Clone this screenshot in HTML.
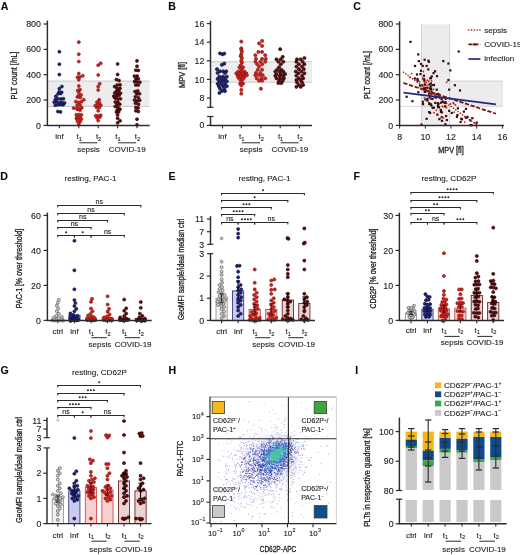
<!DOCTYPE html>
<html><head><meta charset="utf-8"><style>
html,body{margin:0;padding:0;background:#fff;}
svg{display:block;font-family:"Liberation Sans", sans-serif;filter:blur(0.35px);}
text{stroke:#222;stroke-width:0.12px;}
</style></head><body>
<svg width="520" height="555" viewBox="0 0 520 555">
<rect x="0" y="0" width="520" height="555" fill="#fff"/>
<text x="0.70" y="9.90" font-size="10.6" font-weight="bold" fill="#0a0a0a">A</text>
<rect x="47.40" y="81.04" width="102.20" height="25.35" fill="#ededed" stroke="none" stroke-width="0.8"/>
<line x1="47.40" y1="81.04" x2="149.60" y2="81.04" stroke="#b5b5b5" stroke-width="0.7"/>
<line x1="47.40" y1="106.39" x2="149.60" y2="106.39" stroke="#b5b5b5" stroke-width="0.7"/>
<circle cx="57.89" cy="111.50" r="1.52" fill="#1e2170" stroke="#0e0f38" stroke-width="0.6"/>
<circle cx="60.52" cy="111.89" r="1.52" fill="#1e2170" stroke="#0e0f38" stroke-width="0.6"/>
<circle cx="55.32" cy="105.29" r="1.52" fill="#1e2170" stroke="#0e0f38" stroke-width="0.6"/>
<circle cx="58.07" cy="104.72" r="1.52" fill="#1e2170" stroke="#0e0f38" stroke-width="0.6"/>
<circle cx="60.70" cy="104.69" r="1.52" fill="#1e2170" stroke="#0e0f38" stroke-width="0.6"/>
<circle cx="63.21" cy="104.73" r="1.52" fill="#1e2170" stroke="#0e0f38" stroke-width="0.6"/>
<circle cx="54.21" cy="102.24" r="1.52" fill="#1e2170" stroke="#0e0f38" stroke-width="0.6"/>
<circle cx="56.59" cy="101.88" r="1.52" fill="#1e2170" stroke="#0e0f38" stroke-width="0.6"/>
<circle cx="59.62" cy="102.48" r="1.52" fill="#1e2170" stroke="#0e0f38" stroke-width="0.6"/>
<circle cx="62.02" cy="102.42" r="1.52" fill="#1e2170" stroke="#0e0f38" stroke-width="0.6"/>
<circle cx="64.52" cy="102.90" r="1.52" fill="#1e2170" stroke="#0e0f38" stroke-width="0.6"/>
<circle cx="55.28" cy="99.59" r="1.52" fill="#1e2170" stroke="#0e0f38" stroke-width="0.6"/>
<circle cx="57.87" cy="98.73" r="1.52" fill="#1e2170" stroke="#0e0f38" stroke-width="0.6"/>
<circle cx="60.90" cy="98.93" r="1.52" fill="#1e2170" stroke="#0e0f38" stroke-width="0.6"/>
<circle cx="63.45" cy="98.78" r="1.52" fill="#1e2170" stroke="#0e0f38" stroke-width="0.6"/>
<circle cx="55.90" cy="96.25" r="1.52" fill="#1e2170" stroke="#0e0f38" stroke-width="0.6"/>
<circle cx="58.09" cy="93.82" r="1.52" fill="#1e2170" stroke="#0e0f38" stroke-width="0.6"/>
<circle cx="60.52" cy="93.45" r="1.52" fill="#1e2170" stroke="#0e0f38" stroke-width="0.6"/>
<circle cx="59.15" cy="91.97" r="1.52" fill="#1e2170" stroke="#0e0f38" stroke-width="0.6"/>
<circle cx="61.64" cy="92.23" r="1.52" fill="#1e2170" stroke="#0e0f38" stroke-width="0.6"/>
<circle cx="59.40" cy="88.64" r="1.52" fill="#1e2170" stroke="#0e0f38" stroke-width="0.6"/>
<circle cx="61.90" cy="86.49" r="1.52" fill="#1e2170" stroke="#0e0f38" stroke-width="0.6"/>
<circle cx="59.40" cy="74.57" r="1.52" fill="#1e2170" stroke="#0e0f38" stroke-width="0.6"/>
<circle cx="59.40" cy="64.18" r="1.52" fill="#1e2170" stroke="#0e0f38" stroke-width="0.6"/>
<circle cx="59.40" cy="51.76" r="1.52" fill="#1e2170" stroke="#0e0f38" stroke-width="0.6"/>
<circle cx="78.80" cy="124.01" r="1.52" fill="#d2221e" stroke="#80100e" stroke-width="0.6"/>
<circle cx="77.47" cy="121.18" r="1.52" fill="#d2221e" stroke="#80100e" stroke-width="0.6"/>
<circle cx="80.25" cy="121.54" r="1.52" fill="#d2221e" stroke="#80100e" stroke-width="0.6"/>
<circle cx="76.36" cy="118.56" r="1.52" fill="#d2221e" stroke="#80100e" stroke-width="0.6"/>
<circle cx="78.76" cy="118.35" r="1.52" fill="#d2221e" stroke="#80100e" stroke-width="0.6"/>
<circle cx="81.30" cy="119.12" r="1.52" fill="#d2221e" stroke="#80100e" stroke-width="0.6"/>
<circle cx="77.23" cy="117.15" r="1.52" fill="#d2221e" stroke="#80100e" stroke-width="0.6"/>
<circle cx="80.27" cy="117.36" r="1.52" fill="#d2221e" stroke="#80100e" stroke-width="0.6"/>
<circle cx="76.31" cy="114.84" r="1.52" fill="#d2221e" stroke="#80100e" stroke-width="0.6"/>
<circle cx="78.90" cy="114.53" r="1.52" fill="#d2221e" stroke="#80100e" stroke-width="0.6"/>
<circle cx="81.52" cy="114.86" r="1.52" fill="#d2221e" stroke="#80100e" stroke-width="0.6"/>
<circle cx="77.63" cy="109.51" r="1.52" fill="#d2221e" stroke="#80100e" stroke-width="0.6"/>
<circle cx="80.12" cy="110.09" r="1.52" fill="#d2221e" stroke="#80100e" stroke-width="0.6"/>
<circle cx="73.57" cy="108.11" r="1.52" fill="#d2221e" stroke="#80100e" stroke-width="0.6"/>
<circle cx="76.54" cy="108.15" r="1.52" fill="#d2221e" stroke="#80100e" stroke-width="0.6"/>
<circle cx="79.30" cy="108.50" r="1.52" fill="#d2221e" stroke="#80100e" stroke-width="0.6"/>
<circle cx="81.76" cy="107.65" r="1.52" fill="#d2221e" stroke="#80100e" stroke-width="0.6"/>
<circle cx="77.22" cy="105.19" r="1.52" fill="#d2221e" stroke="#80100e" stroke-width="0.6"/>
<circle cx="79.97" cy="104.94" r="1.52" fill="#d2221e" stroke="#80100e" stroke-width="0.6"/>
<circle cx="75.90" cy="101.62" r="1.52" fill="#d2221e" stroke="#80100e" stroke-width="0.6"/>
<circle cx="78.61" cy="102.40" r="1.52" fill="#d2221e" stroke="#80100e" stroke-width="0.6"/>
<circle cx="81.42" cy="101.78" r="1.52" fill="#d2221e" stroke="#80100e" stroke-width="0.6"/>
<circle cx="83.80" cy="99.80" r="1.52" fill="#d2221e" stroke="#80100e" stroke-width="0.6"/>
<circle cx="77.44" cy="97.02" r="1.52" fill="#d2221e" stroke="#80100e" stroke-width="0.6"/>
<circle cx="80.33" cy="97.58" r="1.52" fill="#d2221e" stroke="#80100e" stroke-width="0.6"/>
<circle cx="78.64" cy="95.61" r="1.52" fill="#d2221e" stroke="#80100e" stroke-width="0.6"/>
<circle cx="81.10" cy="94.96" r="1.52" fill="#d2221e" stroke="#80100e" stroke-width="0.6"/>
<circle cx="78.80" cy="92.32" r="1.52" fill="#d2221e" stroke="#80100e" stroke-width="0.6"/>
<circle cx="77.69" cy="90.50" r="1.52" fill="#d2221e" stroke="#80100e" stroke-width="0.6"/>
<circle cx="79.98" cy="89.62" r="1.52" fill="#d2221e" stroke="#80100e" stroke-width="0.6"/>
<circle cx="78.80" cy="85.98" r="1.52" fill="#d2221e" stroke="#80100e" stroke-width="0.6"/>
<circle cx="78.80" cy="79.64" r="1.52" fill="#d2221e" stroke="#80100e" stroke-width="0.6"/>
<circle cx="77.51" cy="77.22" r="1.52" fill="#d2221e" stroke="#80100e" stroke-width="0.6"/>
<circle cx="79.89" cy="76.96" r="1.52" fill="#d2221e" stroke="#80100e" stroke-width="0.6"/>
<circle cx="82.80" cy="75.71" r="1.52" fill="#d2221e" stroke="#80100e" stroke-width="0.6"/>
<circle cx="78.80" cy="73.56" r="1.52" fill="#d2221e" stroke="#80100e" stroke-width="0.6"/>
<circle cx="78.80" cy="61.52" r="1.52" fill="#d2221e" stroke="#80100e" stroke-width="0.6"/>
<circle cx="78.80" cy="54.17" r="1.52" fill="#d2221e" stroke="#80100e" stroke-width="0.6"/>
<circle cx="78.80" cy="42.13" r="1.52" fill="#d2221e" stroke="#80100e" stroke-width="0.6"/>
<circle cx="98.20" cy="120.58" r="1.52" fill="#d2221e" stroke="#80100e" stroke-width="0.6"/>
<circle cx="96.95" cy="117.81" r="1.52" fill="#d2221e" stroke="#80100e" stroke-width="0.6"/>
<circle cx="99.74" cy="117.13" r="1.52" fill="#d2221e" stroke="#80100e" stroke-width="0.6"/>
<circle cx="95.71" cy="115.73" r="1.52" fill="#d2221e" stroke="#80100e" stroke-width="0.6"/>
<circle cx="98.15" cy="115.75" r="1.52" fill="#d2221e" stroke="#80100e" stroke-width="0.6"/>
<circle cx="100.68" cy="115.27" r="1.52" fill="#d2221e" stroke="#80100e" stroke-width="0.6"/>
<circle cx="98.20" cy="110.82" r="1.52" fill="#d2221e" stroke="#80100e" stroke-width="0.6"/>
<circle cx="96.65" cy="107.38" r="1.52" fill="#d2221e" stroke="#80100e" stroke-width="0.6"/>
<circle cx="99.37" cy="107.56" r="1.52" fill="#d2221e" stroke="#80100e" stroke-width="0.6"/>
<circle cx="95.30" cy="105.44" r="1.52" fill="#d2221e" stroke="#80100e" stroke-width="0.6"/>
<circle cx="98.03" cy="105.03" r="1.52" fill="#d2221e" stroke="#80100e" stroke-width="0.6"/>
<circle cx="100.81" cy="105.15" r="1.52" fill="#d2221e" stroke="#80100e" stroke-width="0.6"/>
<circle cx="97.05" cy="102.14" r="1.52" fill="#d2221e" stroke="#80100e" stroke-width="0.6"/>
<circle cx="99.36" cy="102.85" r="1.52" fill="#d2221e" stroke="#80100e" stroke-width="0.6"/>
<circle cx="99.20" cy="99.80" r="1.52" fill="#d2221e" stroke="#80100e" stroke-width="0.6"/>
<circle cx="98.20" cy="90.04" r="1.52" fill="#d2221e" stroke="#80100e" stroke-width="0.6"/>
<circle cx="98.20" cy="86.49" r="1.52" fill="#d2221e" stroke="#80100e" stroke-width="0.6"/>
<circle cx="99.70" cy="83.70" r="1.52" fill="#d2221e" stroke="#80100e" stroke-width="0.6"/>
<circle cx="98.20" cy="74.95" r="1.52" fill="#d2221e" stroke="#80100e" stroke-width="0.6"/>
<circle cx="98.20" cy="65.19" r="1.52" fill="#d2221e" stroke="#80100e" stroke-width="0.6"/>
<circle cx="100.70" cy="63.29" r="1.52" fill="#d2221e" stroke="#80100e" stroke-width="0.6"/>
<circle cx="117.60" cy="122.87" r="1.52" fill="#5a0c0e" stroke="#2a0405" stroke-width="0.6"/>
<circle cx="120.10" cy="120.84" r="1.52" fill="#5a0c0e" stroke="#2a0405" stroke-width="0.6"/>
<circle cx="117.60" cy="118.18" r="1.52" fill="#5a0c0e" stroke="#2a0405" stroke-width="0.6"/>
<circle cx="117.60" cy="114.88" r="1.52" fill="#5a0c0e" stroke="#2a0405" stroke-width="0.6"/>
<circle cx="116.43" cy="111.94" r="1.52" fill="#5a0c0e" stroke="#2a0405" stroke-width="0.6"/>
<circle cx="118.70" cy="111.81" r="1.52" fill="#5a0c0e" stroke="#2a0405" stroke-width="0.6"/>
<circle cx="117.28" cy="110.10" r="1.52" fill="#5a0c0e" stroke="#2a0405" stroke-width="0.6"/>
<circle cx="119.96" cy="109.14" r="1.52" fill="#5a0c0e" stroke="#2a0405" stroke-width="0.6"/>
<circle cx="115.28" cy="106.45" r="1.52" fill="#5a0c0e" stroke="#2a0405" stroke-width="0.6"/>
<circle cx="118.12" cy="107.59" r="1.52" fill="#5a0c0e" stroke="#2a0405" stroke-width="0.6"/>
<circle cx="117.14" cy="104.60" r="1.52" fill="#5a0c0e" stroke="#2a0405" stroke-width="0.6"/>
<circle cx="119.77" cy="104.20" r="1.52" fill="#5a0c0e" stroke="#2a0405" stroke-width="0.6"/>
<circle cx="115.28" cy="102.03" r="1.52" fill="#5a0c0e" stroke="#2a0405" stroke-width="0.6"/>
<circle cx="117.85" cy="102.03" r="1.52" fill="#5a0c0e" stroke="#2a0405" stroke-width="0.6"/>
<circle cx="115.08" cy="98.07" r="1.52" fill="#5a0c0e" stroke="#2a0405" stroke-width="0.6"/>
<circle cx="117.78" cy="98.98" r="1.52" fill="#5a0c0e" stroke="#2a0405" stroke-width="0.6"/>
<circle cx="120.43" cy="98.77" r="1.52" fill="#5a0c0e" stroke="#2a0405" stroke-width="0.6"/>
<circle cx="113.79" cy="96.16" r="1.52" fill="#5a0c0e" stroke="#2a0405" stroke-width="0.6"/>
<circle cx="116.53" cy="95.89" r="1.52" fill="#5a0c0e" stroke="#2a0405" stroke-width="0.6"/>
<circle cx="119.04" cy="95.30" r="1.52" fill="#5a0c0e" stroke="#2a0405" stroke-width="0.6"/>
<circle cx="114.80" cy="92.95" r="1.52" fill="#5a0c0e" stroke="#2a0405" stroke-width="0.6"/>
<circle cx="117.83" cy="93.44" r="1.52" fill="#5a0c0e" stroke="#2a0405" stroke-width="0.6"/>
<circle cx="120.49" cy="93.15" r="1.52" fill="#5a0c0e" stroke="#2a0405" stroke-width="0.6"/>
<circle cx="116.49" cy="91.13" r="1.52" fill="#5a0c0e" stroke="#2a0405" stroke-width="0.6"/>
<circle cx="118.80" cy="90.38" r="1.52" fill="#5a0c0e" stroke="#2a0405" stroke-width="0.6"/>
<circle cx="117.11" cy="88.31" r="1.52" fill="#5a0c0e" stroke="#2a0405" stroke-width="0.6"/>
<circle cx="120.00" cy="88.29" r="1.52" fill="#5a0c0e" stroke="#2a0405" stroke-width="0.6"/>
<circle cx="114.60" cy="86.61" r="1.52" fill="#5a0c0e" stroke="#2a0405" stroke-width="0.6"/>
<circle cx="117.25" cy="85.00" r="1.52" fill="#5a0c0e" stroke="#2a0405" stroke-width="0.6"/>
<circle cx="120.09" cy="84.77" r="1.52" fill="#5a0c0e" stroke="#2a0405" stroke-width="0.6"/>
<circle cx="116.34" cy="79.52" r="1.52" fill="#5a0c0e" stroke="#2a0405" stroke-width="0.6"/>
<circle cx="119.08" cy="80.51" r="1.52" fill="#5a0c0e" stroke="#2a0405" stroke-width="0.6"/>
<circle cx="117.60" cy="74.45" r="1.52" fill="#5a0c0e" stroke="#2a0405" stroke-width="0.6"/>
<circle cx="117.60" cy="63.93" r="1.52" fill="#5a0c0e" stroke="#2a0405" stroke-width="0.6"/>
<circle cx="137.00" cy="124.77" r="1.52" fill="#5a0c0e" stroke="#2a0405" stroke-width="0.6"/>
<circle cx="137.00" cy="119.19" r="1.52" fill="#5a0c0e" stroke="#2a0405" stroke-width="0.6"/>
<circle cx="135.81" cy="110.75" r="1.52" fill="#5a0c0e" stroke="#2a0405" stroke-width="0.6"/>
<circle cx="138.29" cy="111.52" r="1.52" fill="#5a0c0e" stroke="#2a0405" stroke-width="0.6"/>
<circle cx="135.89" cy="107.54" r="1.52" fill="#5a0c0e" stroke="#2a0405" stroke-width="0.6"/>
<circle cx="138.17" cy="107.93" r="1.52" fill="#5a0c0e" stroke="#2a0405" stroke-width="0.6"/>
<circle cx="135.49" cy="103.28" r="1.52" fill="#5a0c0e" stroke="#2a0405" stroke-width="0.6"/>
<circle cx="138.49" cy="104.22" r="1.52" fill="#5a0c0e" stroke="#2a0405" stroke-width="0.6"/>
<circle cx="134.49" cy="100.01" r="1.52" fill="#5a0c0e" stroke="#2a0405" stroke-width="0.6"/>
<circle cx="137.08" cy="101.01" r="1.52" fill="#5a0c0e" stroke="#2a0405" stroke-width="0.6"/>
<circle cx="139.70" cy="100.25" r="1.52" fill="#5a0c0e" stroke="#2a0405" stroke-width="0.6"/>
<circle cx="135.42" cy="96.69" r="1.52" fill="#5a0c0e" stroke="#2a0405" stroke-width="0.6"/>
<circle cx="138.41" cy="97.70" r="1.52" fill="#5a0c0e" stroke="#2a0405" stroke-width="0.6"/>
<circle cx="136.88" cy="93.87" r="1.52" fill="#5a0c0e" stroke="#2a0405" stroke-width="0.6"/>
<circle cx="139.52" cy="93.76" r="1.52" fill="#5a0c0e" stroke="#2a0405" stroke-width="0.6"/>
<circle cx="135.02" cy="91.57" r="1.52" fill="#5a0c0e" stroke="#2a0405" stroke-width="0.6"/>
<circle cx="137.73" cy="90.88" r="1.52" fill="#5a0c0e" stroke="#2a0405" stroke-width="0.6"/>
<circle cx="135.71" cy="85.04" r="1.52" fill="#5a0c0e" stroke="#2a0405" stroke-width="0.6"/>
<circle cx="138.30" cy="85.06" r="1.52" fill="#5a0c0e" stroke="#2a0405" stroke-width="0.6"/>
<circle cx="134.53" cy="81.61" r="1.52" fill="#5a0c0e" stroke="#2a0405" stroke-width="0.6"/>
<circle cx="136.98" cy="81.87" r="1.52" fill="#5a0c0e" stroke="#2a0405" stroke-width="0.6"/>
<circle cx="139.88" cy="82.15" r="1.52" fill="#5a0c0e" stroke="#2a0405" stroke-width="0.6"/>
<circle cx="135.87" cy="78.66" r="1.52" fill="#5a0c0e" stroke="#2a0405" stroke-width="0.6"/>
<circle cx="138.35" cy="78.76" r="1.52" fill="#5a0c0e" stroke="#2a0405" stroke-width="0.6"/>
<circle cx="134.42" cy="76.12" r="1.52" fill="#5a0c0e" stroke="#2a0405" stroke-width="0.6"/>
<circle cx="137.18" cy="76.02" r="1.52" fill="#5a0c0e" stroke="#2a0405" stroke-width="0.6"/>
<circle cx="135.81" cy="70.17" r="1.52" fill="#5a0c0e" stroke="#2a0405" stroke-width="0.6"/>
<circle cx="138.32" cy="70.38" r="1.52" fill="#5a0c0e" stroke="#2a0405" stroke-width="0.6"/>
<circle cx="137.00" cy="66.21" r="1.52" fill="#5a0c0e" stroke="#2a0405" stroke-width="0.6"/>
<circle cx="137.00" cy="60.88" r="1.52" fill="#5a0c0e" stroke="#2a0405" stroke-width="0.6"/>
<line x1="47.40" y1="20.60" x2="47.40" y2="125.40" stroke="#2b2b2b" stroke-width="1.45"/>
<line x1="43.60" y1="125.40" x2="47.40" y2="125.40" stroke="#2b2b2b" stroke-width="1.2"/>
<text x="40.90" y="128.50" font-size="8.8" text-anchor="end" fill="#222">0</text>
<line x1="43.60" y1="100.05" x2="47.40" y2="100.05" stroke="#2b2b2b" stroke-width="1.2"/>
<text x="40.90" y="103.15" font-size="8.8" text-anchor="end" fill="#222">200</text>
<line x1="43.60" y1="74.70" x2="47.40" y2="74.70" stroke="#2b2b2b" stroke-width="1.2"/>
<text x="40.90" y="77.80" font-size="8.8" text-anchor="end" fill="#222">400</text>
<line x1="43.60" y1="49.35" x2="47.40" y2="49.35" stroke="#2b2b2b" stroke-width="1.2"/>
<text x="40.90" y="52.45" font-size="8.8" text-anchor="end" fill="#222">600</text>
<line x1="43.60" y1="24.00" x2="47.40" y2="24.00" stroke="#2b2b2b" stroke-width="1.2"/>
<text x="40.90" y="27.10" font-size="8.8" text-anchor="end" fill="#222">800</text>
<line x1="46.70" y1="125.40" x2="149.60" y2="125.40" stroke="#2b2b2b" stroke-width="1.45"/>
<line x1="59.40" y1="125.40" x2="59.40" y2="128.20" stroke="#2b2b2b" stroke-width="1.1"/>
<line x1="78.80" y1="125.40" x2="78.80" y2="128.20" stroke="#2b2b2b" stroke-width="1.1"/>
<line x1="98.20" y1="125.40" x2="98.20" y2="128.20" stroke="#2b2b2b" stroke-width="1.1"/>
<line x1="117.60" y1="125.40" x2="117.60" y2="128.20" stroke="#2b2b2b" stroke-width="1.1"/>
<line x1="137.00" y1="125.40" x2="137.00" y2="128.20" stroke="#2b2b2b" stroke-width="1.1"/>
<text x="14.50" y="75.40" font-size="8.4" text-anchor="middle" textLength="48" lengthAdjust="spacingAndGlyphs" transform="rotate(-90 14.5 75.4)" fill="#222" dominant-baseline="central" style="stroke-width:0.3px">PLT count [/nL]</text>
<text x="59.40" y="139.40" font-size="8.0" text-anchor="middle" fill="#222">inf</text>
<text x="79.20" y="139.40" font-size="8.0" text-anchor="middle" fill="#2b2b2b">t<tspan font-size="5.76" dy="1.3">1</tspan></text>
<text x="98.60" y="139.40" font-size="8.0" text-anchor="middle" fill="#2b2b2b">t<tspan font-size="5.76" dy="1.3">2</tspan></text>
<line x1="79.30" y1="142.80" x2="97.40" y2="142.80" stroke="#2b2b2b" stroke-width="1.0"/>
<text x="118.00" y="139.40" font-size="8.0" text-anchor="middle" fill="#2b2b2b">t<tspan font-size="5.76" dy="1.3">1</tspan></text>
<text x="137.40" y="139.40" font-size="8.0" text-anchor="middle" fill="#2b2b2b">t<tspan font-size="5.76" dy="1.3">2</tspan></text>
<line x1="118.10" y1="142.80" x2="136.20" y2="142.80" stroke="#2b2b2b" stroke-width="1.0"/>
<text x="88.50" y="151.70" font-size="8.0" text-anchor="middle" fill="#222">sepsis</text>
<text x="127.30" y="151.70" font-size="8.0" text-anchor="middle" fill="#222">COVID-19</text>
<text x="168.20" y="9.90" font-size="10.6" font-weight="bold" fill="#0a0a0a">B</text>
<rect x="210.60" y="61.73" width="101.40" height="20.46" fill="#ededed" stroke="none" stroke-width="0.8"/>
<line x1="210.60" y1="61.73" x2="312.00" y2="61.73" stroke="#b5b5b5" stroke-width="0.7"/>
<line x1="210.60" y1="82.19" x2="312.00" y2="82.19" stroke="#b5b5b5" stroke-width="0.7"/>
<circle cx="220.00" cy="53.36" r="1.60" fill="#1e2170" stroke="#0e0f38" stroke-width="0.6"/>
<circle cx="222.50" cy="54.29" r="1.60" fill="#1e2170" stroke="#0e0f38" stroke-width="0.6"/>
<circle cx="224.30" cy="53.55" r="1.60" fill="#1e2170" stroke="#0e0f38" stroke-width="0.6"/>
<circle cx="224.30" cy="63.59" r="1.60" fill="#1e2170" stroke="#0e0f38" stroke-width="0.6"/>
<circle cx="221.90" cy="64.80" r="1.60" fill="#1e2170" stroke="#0e0f38" stroke-width="0.6"/>
<circle cx="217.00" cy="69.17" r="1.60" fill="#1e2170" stroke="#0e0f38" stroke-width="0.6"/>
<circle cx="220.00" cy="71.31" r="1.60" fill="#1e2170" stroke="#0e0f38" stroke-width="0.6"/>
<circle cx="223.10" cy="71.31" r="1.60" fill="#1e2170" stroke="#0e0f38" stroke-width="0.6"/>
<circle cx="226.20" cy="71.31" r="1.60" fill="#1e2170" stroke="#0e0f38" stroke-width="0.6"/>
<circle cx="217.60" cy="72.89" r="1.60" fill="#1e2170" stroke="#0e0f38" stroke-width="0.6"/>
<circle cx="225.00" cy="72.89" r="1.60" fill="#1e2170" stroke="#0e0f38" stroke-width="0.6"/>
<circle cx="219.40" cy="76.61" r="1.60" fill="#1e2170" stroke="#0e0f38" stroke-width="0.6"/>
<circle cx="223.10" cy="76.61" r="1.60" fill="#1e2170" stroke="#0e0f38" stroke-width="0.6"/>
<circle cx="226.80" cy="76.61" r="1.60" fill="#1e2170" stroke="#0e0f38" stroke-width="0.6"/>
<circle cx="217.60" cy="78.93" r="1.60" fill="#1e2170" stroke="#0e0f38" stroke-width="0.6"/>
<circle cx="221.30" cy="78.93" r="1.60" fill="#1e2170" stroke="#0e0f38" stroke-width="0.6"/>
<circle cx="225.00" cy="78.93" r="1.60" fill="#1e2170" stroke="#0e0f38" stroke-width="0.6"/>
<circle cx="219.40" cy="81.26" r="1.60" fill="#1e2170" stroke="#0e0f38" stroke-width="0.6"/>
<circle cx="223.10" cy="81.26" r="1.60" fill="#1e2170" stroke="#0e0f38" stroke-width="0.6"/>
<circle cx="226.80" cy="81.26" r="1.60" fill="#1e2170" stroke="#0e0f38" stroke-width="0.6"/>
<circle cx="217.60" cy="83.77" r="1.60" fill="#1e2170" stroke="#0e0f38" stroke-width="0.6"/>
<circle cx="221.30" cy="83.77" r="1.60" fill="#1e2170" stroke="#0e0f38" stroke-width="0.6"/>
<circle cx="225.00" cy="83.77" r="1.60" fill="#1e2170" stroke="#0e0f38" stroke-width="0.6"/>
<circle cx="218.80" cy="86.19" r="1.60" fill="#1e2170" stroke="#0e0f38" stroke-width="0.6"/>
<circle cx="223.10" cy="86.19" r="1.60" fill="#1e2170" stroke="#0e0f38" stroke-width="0.6"/>
<circle cx="226.80" cy="86.19" r="1.60" fill="#1e2170" stroke="#0e0f38" stroke-width="0.6"/>
<circle cx="220.00" cy="88.70" r="1.60" fill="#1e2170" stroke="#0e0f38" stroke-width="0.6"/>
<circle cx="224.30" cy="88.70" r="1.60" fill="#1e2170" stroke="#0e0f38" stroke-width="0.6"/>
<circle cx="221.90" cy="91.12" r="1.60" fill="#1e2170" stroke="#0e0f38" stroke-width="0.6"/>
<circle cx="225.00" cy="91.12" r="1.60" fill="#1e2170" stroke="#0e0f38" stroke-width="0.6"/>
<circle cx="219.40" cy="92.98" r="1.60" fill="#1e2170" stroke="#0e0f38" stroke-width="0.6"/>
<circle cx="241.30" cy="41.55" r="1.60" fill="#d2221e" stroke="#80100e" stroke-width="0.6"/>
<circle cx="241.30" cy="48.24" r="1.60" fill="#d2221e" stroke="#80100e" stroke-width="0.6"/>
<circle cx="241.30" cy="49.64" r="1.60" fill="#d2221e" stroke="#80100e" stroke-width="0.6"/>
<circle cx="241.90" cy="51.50" r="1.60" fill="#d2221e" stroke="#80100e" stroke-width="0.6"/>
<circle cx="241.30" cy="54.29" r="1.60" fill="#d2221e" stroke="#80100e" stroke-width="0.6"/>
<circle cx="240.70" cy="56.15" r="1.60" fill="#d2221e" stroke="#80100e" stroke-width="0.6"/>
<circle cx="241.90" cy="58.01" r="1.60" fill="#d2221e" stroke="#80100e" stroke-width="0.6"/>
<circle cx="241.30" cy="60.52" r="1.60" fill="#d2221e" stroke="#80100e" stroke-width="0.6"/>
<circle cx="241.90" cy="62.66" r="1.60" fill="#d2221e" stroke="#80100e" stroke-width="0.6"/>
<circle cx="240.70" cy="65.45" r="1.60" fill="#d2221e" stroke="#80100e" stroke-width="0.6"/>
<circle cx="239.50" cy="67.31" r="1.60" fill="#d2221e" stroke="#80100e" stroke-width="0.6"/>
<circle cx="243.10" cy="67.31" r="1.60" fill="#d2221e" stroke="#80100e" stroke-width="0.6"/>
<circle cx="241.30" cy="69.17" r="1.60" fill="#d2221e" stroke="#80100e" stroke-width="0.6"/>
<circle cx="238.20" cy="71.50" r="1.60" fill="#d2221e" stroke="#80100e" stroke-width="0.6"/>
<circle cx="241.30" cy="71.50" r="1.60" fill="#d2221e" stroke="#80100e" stroke-width="0.6"/>
<circle cx="244.40" cy="71.50" r="1.60" fill="#d2221e" stroke="#80100e" stroke-width="0.6"/>
<circle cx="236.40" cy="73.35" r="1.60" fill="#d2221e" stroke="#80100e" stroke-width="0.6"/>
<circle cx="239.50" cy="73.35" r="1.60" fill="#d2221e" stroke="#80100e" stroke-width="0.6"/>
<circle cx="243.10" cy="73.35" r="1.60" fill="#d2221e" stroke="#80100e" stroke-width="0.6"/>
<circle cx="246.20" cy="73.35" r="1.60" fill="#d2221e" stroke="#80100e" stroke-width="0.6"/>
<circle cx="237.60" cy="75.22" r="1.60" fill="#d2221e" stroke="#80100e" stroke-width="0.6"/>
<circle cx="240.70" cy="75.22" r="1.60" fill="#d2221e" stroke="#80100e" stroke-width="0.6"/>
<circle cx="243.80" cy="75.22" r="1.60" fill="#d2221e" stroke="#80100e" stroke-width="0.6"/>
<circle cx="246.80" cy="75.22" r="1.60" fill="#d2221e" stroke="#80100e" stroke-width="0.6"/>
<circle cx="238.20" cy="77.08" r="1.60" fill="#d2221e" stroke="#80100e" stroke-width="0.6"/>
<circle cx="241.30" cy="77.08" r="1.60" fill="#d2221e" stroke="#80100e" stroke-width="0.6"/>
<circle cx="244.40" cy="77.08" r="1.60" fill="#d2221e" stroke="#80100e" stroke-width="0.6"/>
<circle cx="239.50" cy="78.93" r="1.60" fill="#d2221e" stroke="#80100e" stroke-width="0.6"/>
<circle cx="243.10" cy="78.93" r="1.60" fill="#d2221e" stroke="#80100e" stroke-width="0.6"/>
<circle cx="241.30" cy="81.26" r="1.60" fill="#d2221e" stroke="#80100e" stroke-width="0.6"/>
<circle cx="240.10" cy="83.58" r="1.60" fill="#d2221e" stroke="#80100e" stroke-width="0.6"/>
<circle cx="243.10" cy="83.58" r="1.60" fill="#d2221e" stroke="#80100e" stroke-width="0.6"/>
<circle cx="241.30" cy="85.45" r="1.60" fill="#d2221e" stroke="#80100e" stroke-width="0.6"/>
<circle cx="241.30" cy="89.91" r="1.60" fill="#d2221e" stroke="#80100e" stroke-width="0.6"/>
<circle cx="241.30" cy="93.63" r="1.60" fill="#d2221e" stroke="#80100e" stroke-width="0.6"/>
<circle cx="262.10" cy="40.90" r="1.60" fill="#d2221e" stroke="#80100e" stroke-width="0.6"/>
<circle cx="259.10" cy="43.41" r="1.60" fill="#d2221e" stroke="#80100e" stroke-width="0.6"/>
<circle cx="262.10" cy="45.92" r="1.60" fill="#d2221e" stroke="#80100e" stroke-width="0.6"/>
<circle cx="258.40" cy="51.97" r="1.60" fill="#d2221e" stroke="#80100e" stroke-width="0.6"/>
<circle cx="262.10" cy="51.97" r="1.60" fill="#d2221e" stroke="#80100e" stroke-width="0.6"/>
<circle cx="255.40" cy="55.22" r="1.60" fill="#d2221e" stroke="#80100e" stroke-width="0.6"/>
<circle cx="265.20" cy="55.22" r="1.60" fill="#d2221e" stroke="#80100e" stroke-width="0.6"/>
<circle cx="256.00" cy="58.94" r="1.60" fill="#d2221e" stroke="#80100e" stroke-width="0.6"/>
<circle cx="265.80" cy="58.94" r="1.60" fill="#d2221e" stroke="#80100e" stroke-width="0.6"/>
<circle cx="262.10" cy="58.94" r="1.60" fill="#d2221e" stroke="#80100e" stroke-width="0.6"/>
<circle cx="255.40" cy="61.73" r="1.60" fill="#d2221e" stroke="#80100e" stroke-width="0.6"/>
<circle cx="260.30" cy="61.73" r="1.60" fill="#d2221e" stroke="#80100e" stroke-width="0.6"/>
<circle cx="265.20" cy="61.73" r="1.60" fill="#d2221e" stroke="#80100e" stroke-width="0.6"/>
<circle cx="257.20" cy="64.24" r="1.60" fill="#d2221e" stroke="#80100e" stroke-width="0.6"/>
<circle cx="262.10" cy="64.24" r="1.60" fill="#d2221e" stroke="#80100e" stroke-width="0.6"/>
<circle cx="259.10" cy="66.57" r="1.60" fill="#d2221e" stroke="#80100e" stroke-width="0.6"/>
<circle cx="257.80" cy="69.73" r="1.60" fill="#d2221e" stroke="#80100e" stroke-width="0.6"/>
<circle cx="262.10" cy="69.73" r="1.60" fill="#d2221e" stroke="#80100e" stroke-width="0.6"/>
<circle cx="256.00" cy="72.89" r="1.60" fill="#d2221e" stroke="#80100e" stroke-width="0.6"/>
<circle cx="260.30" cy="72.89" r="1.60" fill="#d2221e" stroke="#80100e" stroke-width="0.6"/>
<circle cx="255.40" cy="75.22" r="1.60" fill="#d2221e" stroke="#80100e" stroke-width="0.6"/>
<circle cx="259.10" cy="75.22" r="1.60" fill="#d2221e" stroke="#80100e" stroke-width="0.6"/>
<circle cx="262.70" cy="75.22" r="1.60" fill="#d2221e" stroke="#80100e" stroke-width="0.6"/>
<circle cx="256.60" cy="78.28" r="1.60" fill="#d2221e" stroke="#80100e" stroke-width="0.6"/>
<circle cx="261.50" cy="78.28" r="1.60" fill="#d2221e" stroke="#80100e" stroke-width="0.6"/>
<circle cx="265.20" cy="78.28" r="1.60" fill="#d2221e" stroke="#80100e" stroke-width="0.6"/>
<circle cx="259.10" cy="80.70" r="1.60" fill="#d2221e" stroke="#80100e" stroke-width="0.6"/>
<circle cx="262.10" cy="80.70" r="1.60" fill="#d2221e" stroke="#80100e" stroke-width="0.6"/>
<circle cx="260.90" cy="88.70" r="1.60" fill="#d2221e" stroke="#80100e" stroke-width="0.6"/>
<circle cx="280.20" cy="49.17" r="1.60" fill="#5a0c0e" stroke="#2a0405" stroke-width="0.6"/>
<circle cx="282.70" cy="56.80" r="1.60" fill="#5a0c0e" stroke="#2a0405" stroke-width="0.6"/>
<circle cx="276.50" cy="59.31" r="1.60" fill="#5a0c0e" stroke="#2a0405" stroke-width="0.6"/>
<circle cx="280.80" cy="59.31" r="1.60" fill="#5a0c0e" stroke="#2a0405" stroke-width="0.6"/>
<circle cx="278.40" cy="61.73" r="1.60" fill="#5a0c0e" stroke="#2a0405" stroke-width="0.6"/>
<circle cx="283.30" cy="61.73" r="1.60" fill="#5a0c0e" stroke="#2a0405" stroke-width="0.6"/>
<circle cx="280.80" cy="64.24" r="1.60" fill="#5a0c0e" stroke="#2a0405" stroke-width="0.6"/>
<circle cx="279.00" cy="67.31" r="1.60" fill="#5a0c0e" stroke="#2a0405" stroke-width="0.6"/>
<circle cx="277.10" cy="69.73" r="1.60" fill="#5a0c0e" stroke="#2a0405" stroke-width="0.6"/>
<circle cx="281.40" cy="69.73" r="1.60" fill="#5a0c0e" stroke="#2a0405" stroke-width="0.6"/>
<circle cx="275.30" cy="71.50" r="1.60" fill="#5a0c0e" stroke="#2a0405" stroke-width="0.6"/>
<circle cx="279.60" cy="71.50" r="1.60" fill="#5a0c0e" stroke="#2a0405" stroke-width="0.6"/>
<circle cx="283.30" cy="71.50" r="1.60" fill="#5a0c0e" stroke="#2a0405" stroke-width="0.6"/>
<circle cx="276.50" cy="74.01" r="1.60" fill="#5a0c0e" stroke="#2a0405" stroke-width="0.6"/>
<circle cx="280.80" cy="74.01" r="1.60" fill="#5a0c0e" stroke="#2a0405" stroke-width="0.6"/>
<circle cx="285.10" cy="74.01" r="1.60" fill="#5a0c0e" stroke="#2a0405" stroke-width="0.6"/>
<circle cx="275.30" cy="75.77" r="1.60" fill="#5a0c0e" stroke="#2a0405" stroke-width="0.6"/>
<circle cx="279.60" cy="75.77" r="1.60" fill="#5a0c0e" stroke="#2a0405" stroke-width="0.6"/>
<circle cx="283.30" cy="75.77" r="1.60" fill="#5a0c0e" stroke="#2a0405" stroke-width="0.6"/>
<circle cx="276.50" cy="78.28" r="1.60" fill="#5a0c0e" stroke="#2a0405" stroke-width="0.6"/>
<circle cx="280.20" cy="78.28" r="1.60" fill="#5a0c0e" stroke="#2a0405" stroke-width="0.6"/>
<circle cx="283.90" cy="78.28" r="1.60" fill="#5a0c0e" stroke="#2a0405" stroke-width="0.6"/>
<circle cx="279.00" cy="80.70" r="1.60" fill="#5a0c0e" stroke="#2a0405" stroke-width="0.6"/>
<circle cx="282.70" cy="80.70" r="1.60" fill="#5a0c0e" stroke="#2a0405" stroke-width="0.6"/>
<circle cx="278.40" cy="83.12" r="1.60" fill="#5a0c0e" stroke="#2a0405" stroke-width="0.6"/>
<circle cx="281.40" cy="83.12" r="1.60" fill="#5a0c0e" stroke="#2a0405" stroke-width="0.6"/>
<circle cx="304.40" cy="58.01" r="1.60" fill="#5a0c0e" stroke="#2a0405" stroke-width="0.6"/>
<circle cx="297.00" cy="59.31" r="1.60" fill="#5a0c0e" stroke="#2a0405" stroke-width="0.6"/>
<circle cx="300.70" cy="59.31" r="1.60" fill="#5a0c0e" stroke="#2a0405" stroke-width="0.6"/>
<circle cx="296.40" cy="61.73" r="1.60" fill="#5a0c0e" stroke="#2a0405" stroke-width="0.6"/>
<circle cx="302.60" cy="61.73" r="1.60" fill="#5a0c0e" stroke="#2a0405" stroke-width="0.6"/>
<circle cx="298.90" cy="64.24" r="1.60" fill="#5a0c0e" stroke="#2a0405" stroke-width="0.6"/>
<circle cx="304.40" cy="64.24" r="1.60" fill="#5a0c0e" stroke="#2a0405" stroke-width="0.6"/>
<circle cx="296.40" cy="66.57" r="1.60" fill="#5a0c0e" stroke="#2a0405" stroke-width="0.6"/>
<circle cx="302.00" cy="66.57" r="1.60" fill="#5a0c0e" stroke="#2a0405" stroke-width="0.6"/>
<circle cx="298.90" cy="69.17" r="1.60" fill="#5a0c0e" stroke="#2a0405" stroke-width="0.6"/>
<circle cx="303.80" cy="69.17" r="1.60" fill="#5a0c0e" stroke="#2a0405" stroke-width="0.6"/>
<circle cx="295.80" cy="71.50" r="1.60" fill="#5a0c0e" stroke="#2a0405" stroke-width="0.6"/>
<circle cx="301.30" cy="71.50" r="1.60" fill="#5a0c0e" stroke="#2a0405" stroke-width="0.6"/>
<circle cx="298.30" cy="73.35" r="1.60" fill="#5a0c0e" stroke="#2a0405" stroke-width="0.6"/>
<circle cx="304.40" cy="73.35" r="1.60" fill="#5a0c0e" stroke="#2a0405" stroke-width="0.6"/>
<circle cx="296.40" cy="75.77" r="1.60" fill="#5a0c0e" stroke="#2a0405" stroke-width="0.6"/>
<circle cx="302.00" cy="75.77" r="1.60" fill="#5a0c0e" stroke="#2a0405" stroke-width="0.6"/>
<circle cx="298.90" cy="78.28" r="1.60" fill="#5a0c0e" stroke="#2a0405" stroke-width="0.6"/>
<circle cx="303.20" cy="78.28" r="1.60" fill="#5a0c0e" stroke="#2a0405" stroke-width="0.6"/>
<circle cx="296.40" cy="80.05" r="1.60" fill="#5a0c0e" stroke="#2a0405" stroke-width="0.6"/>
<circle cx="300.70" cy="80.05" r="1.60" fill="#5a0c0e" stroke="#2a0405" stroke-width="0.6"/>
<circle cx="297.00" cy="82.47" r="1.60" fill="#5a0c0e" stroke="#2a0405" stroke-width="0.6"/>
<circle cx="302.00" cy="82.47" r="1.60" fill="#5a0c0e" stroke="#2a0405" stroke-width="0.6"/>
<circle cx="298.90" cy="84.98" r="1.60" fill="#5a0c0e" stroke="#2a0405" stroke-width="0.6"/>
<circle cx="303.20" cy="84.98" r="1.60" fill="#5a0c0e" stroke="#2a0405" stroke-width="0.6"/>
<circle cx="296.40" cy="86.84" r="1.60" fill="#5a0c0e" stroke="#2a0405" stroke-width="0.6"/>
<circle cx="300.70" cy="86.84" r="1.60" fill="#5a0c0e" stroke="#2a0405" stroke-width="0.6"/>
<line x1="210.50" y1="20.80" x2="210.50" y2="107.40" stroke="#2b2b2b" stroke-width="1.45"/>
<line x1="207.10" y1="107.30" x2="213.40" y2="107.30" stroke="#2b2b2b" stroke-width="1.2"/>
<line x1="210.50" y1="116.50" x2="210.50" y2="125.40" stroke="#2b2b2b" stroke-width="1.45"/>
<line x1="207.10" y1="116.50" x2="213.40" y2="116.50" stroke="#2b2b2b" stroke-width="1.2"/>
<line x1="206.90" y1="98.00" x2="210.50" y2="98.00" stroke="#2b2b2b" stroke-width="1.2"/>
<text x="204.30" y="101.10" font-size="8.8" text-anchor="end" fill="#222">8</text>
<line x1="206.90" y1="79.40" x2="210.50" y2="79.40" stroke="#2b2b2b" stroke-width="1.2"/>
<text x="204.30" y="82.50" font-size="8.8" text-anchor="end" fill="#222">10</text>
<line x1="206.90" y1="60.80" x2="210.50" y2="60.80" stroke="#2b2b2b" stroke-width="1.2"/>
<text x="204.30" y="63.90" font-size="8.8" text-anchor="end" fill="#222">12</text>
<line x1="206.90" y1="42.20" x2="210.50" y2="42.20" stroke="#2b2b2b" stroke-width="1.2"/>
<text x="204.30" y="45.30" font-size="8.8" text-anchor="end" fill="#222">14</text>
<line x1="206.90" y1="23.60" x2="210.50" y2="23.60" stroke="#2b2b2b" stroke-width="1.2"/>
<text x="204.30" y="26.70" font-size="8.8" text-anchor="end" fill="#222">16</text>
<line x1="206.90" y1="125.40" x2="210.50" y2="125.40" stroke="#2b2b2b" stroke-width="1.2"/>
<text x="204.30" y="128.30" font-size="8.8" text-anchor="end" fill="#222">0</text>
<line x1="209.90" y1="125.50" x2="312.00" y2="125.50" stroke="#2b2b2b" stroke-width="1.45"/>
<line x1="222.50" y1="125.50" x2="222.50" y2="128.30" stroke="#2b2b2b" stroke-width="1.1"/>
<line x1="241.30" y1="125.50" x2="241.30" y2="128.30" stroke="#2b2b2b" stroke-width="1.1"/>
<line x1="260.90" y1="125.50" x2="260.90" y2="128.30" stroke="#2b2b2b" stroke-width="1.1"/>
<line x1="280.20" y1="125.50" x2="280.20" y2="128.30" stroke="#2b2b2b" stroke-width="1.1"/>
<line x1="299.50" y1="125.50" x2="299.50" y2="128.30" stroke="#2b2b2b" stroke-width="1.1"/>
<text x="182.20" y="75.00" font-size="8.4" text-anchor="middle" textLength="26" lengthAdjust="spacingAndGlyphs" transform="rotate(-90 182.2 75.0)" fill="#222" dominant-baseline="central" style="stroke-width:0.3px">MPV [fl]</text>
<text x="222.50" y="139.40" font-size="8.0" text-anchor="middle" fill="#222">inf</text>
<text x="241.70" y="139.40" font-size="8.0" text-anchor="middle" fill="#2b2b2b">t<tspan font-size="5.76" dy="1.3">1</tspan></text>
<text x="261.30" y="139.40" font-size="8.0" text-anchor="middle" fill="#2b2b2b">t<tspan font-size="5.76" dy="1.3">2</tspan></text>
<line x1="241.80" y1="142.80" x2="260.10" y2="142.80" stroke="#2b2b2b" stroke-width="1.0"/>
<text x="280.60" y="139.40" font-size="8.0" text-anchor="middle" fill="#2b2b2b">t<tspan font-size="5.76" dy="1.3">1</tspan></text>
<text x="299.90" y="139.40" font-size="8.0" text-anchor="middle" fill="#2b2b2b">t<tspan font-size="5.76" dy="1.3">2</tspan></text>
<line x1="280.70" y1="142.80" x2="298.70" y2="142.80" stroke="#2b2b2b" stroke-width="1.0"/>
<text x="251.10" y="151.70" font-size="8.0" text-anchor="middle" fill="#222">sepsis</text>
<text x="289.85" y="151.70" font-size="8.0" text-anchor="middle" fill="#222">COVID-19</text>
<text x="353.30" y="9.90" font-size="10.6" font-weight="bold" fill="#0a0a0a">C</text>
<rect x="421.44" y="24.40" width="28.27" height="101.00" fill="#ececec" stroke="none" stroke-width="0.8"/>
<rect x="421.44" y="81.04" width="80.95" height="25.35" fill="#ececec" stroke="none" stroke-width="0.8"/>
<line x1="421.44" y1="24.40" x2="421.44" y2="125.40" stroke="#bdbdbd" stroke-width="0.6"/>
<line x1="449.72" y1="24.40" x2="449.72" y2="125.40" stroke="#bdbdbd" stroke-width="0.6"/>
<line x1="449.72" y1="81.04" x2="502.40" y2="81.04" stroke="#bdbdbd" stroke-width="0.6"/>
<line x1="399.60" y1="106.39" x2="502.40" y2="106.39" stroke="#bdbdbd" stroke-width="0.6"/>
<line x1="502.40" y1="81.04" x2="502.40" y2="106.39" stroke="#d5d5d5" stroke-width="0.5"/>
<circle cx="433.25" cy="98.79" r="0.90" fill="#b3241d" stroke="none" stroke-width="0.5"/>
<rect x="440.58" y="116.04" width="2.20" height="2.20" fill="#370a0c" stroke="none" stroke-width="0.8"/>
<rect x="438.30" y="118.05" width="2.20" height="2.20" fill="#370a0c" stroke="none" stroke-width="0.8"/>
<rect x="430.97" y="97.70" width="2.20" height="2.20" fill="#370a0c" stroke="none" stroke-width="0.8"/>
<circle cx="442.35" cy="106.41" r="0.90" fill="#b3241d" stroke="none" stroke-width="0.5"/>
<circle cx="428.92" cy="81.18" r="0.90" fill="#b3241d" stroke="none" stroke-width="0.5"/>
<rect x="444.97" y="114.98" width="2.20" height="2.20" fill="#370a0c" stroke="none" stroke-width="0.8"/>
<rect x="437.89" y="106.14" width="2.20" height="2.20" fill="#370a0c" stroke="none" stroke-width="0.8"/>
<rect x="433.80" y="95.87" width="2.20" height="2.20" fill="#370a0c" stroke="none" stroke-width="0.8"/>
<rect x="422.72" y="87.25" width="2.20" height="2.20" fill="#370a0c" stroke="none" stroke-width="0.8"/>
<rect x="424.37" y="98.41" width="2.20" height="2.20" fill="#370a0c" stroke="none" stroke-width="0.8"/>
<rect x="429.02" y="111.85" width="2.20" height="2.20" fill="#370a0c" stroke="none" stroke-width="0.8"/>
<rect x="421.17" y="84.27" width="2.20" height="2.20" fill="#370a0c" stroke="none" stroke-width="0.8"/>
<circle cx="438.62" cy="95.03" r="0.90" fill="#b3241d" stroke="none" stroke-width="0.5"/>
<rect x="428.97" y="87.33" width="2.20" height="2.20" fill="#370a0c" stroke="none" stroke-width="0.8"/>
<rect x="444.64" y="97.62" width="2.20" height="2.20" fill="#370a0c" stroke="none" stroke-width="0.8"/>
<rect x="421.88" y="103.00" width="2.20" height="2.20" fill="#370a0c" stroke="none" stroke-width="0.8"/>
<rect x="435.66" y="88.60" width="2.20" height="2.20" fill="#370a0c" stroke="none" stroke-width="0.8"/>
<circle cx="433.47" cy="89.28" r="0.90" fill="#b3241d" stroke="none" stroke-width="0.5"/>
<circle cx="435.54" cy="97.87" r="0.90" fill="#b3241d" stroke="none" stroke-width="0.5"/>
<circle cx="435.94" cy="98.28" r="0.90" fill="#b3241d" stroke="none" stroke-width="0.5"/>
<rect x="429.29" y="77.15" width="2.20" height="2.20" fill="#370a0c" stroke="none" stroke-width="0.8"/>
<rect x="439.65" y="108.79" width="2.20" height="2.20" fill="#370a0c" stroke="none" stroke-width="0.8"/>
<rect x="430.35" y="104.49" width="2.20" height="2.20" fill="#370a0c" stroke="none" stroke-width="0.8"/>
<rect x="436.26" y="113.55" width="2.20" height="2.20" fill="#370a0c" stroke="none" stroke-width="0.8"/>
<rect x="429.98" y="87.82" width="2.20" height="2.20" fill="#370a0c" stroke="none" stroke-width="0.8"/>
<circle cx="437.97" cy="96.96" r="0.90" fill="#b3241d" stroke="none" stroke-width="0.5"/>
<circle cx="424.55" cy="82.64" r="0.90" fill="#b3241d" stroke="none" stroke-width="0.5"/>
<rect x="431.52" y="83.99" width="2.20" height="2.20" fill="#370a0c" stroke="none" stroke-width="0.8"/>
<circle cx="431.52" cy="80.82" r="0.90" fill="#b3241d" stroke="none" stroke-width="0.5"/>
<rect x="435.75" y="93.22" width="2.20" height="2.20" fill="#370a0c" stroke="none" stroke-width="0.8"/>
<circle cx="430.63" cy="99.02" r="0.90" fill="#b3241d" stroke="none" stroke-width="0.5"/>
<circle cx="430.68" cy="86.23" r="0.90" fill="#b3241d" stroke="none" stroke-width="0.5"/>
<rect x="429.10" y="94.87" width="2.20" height="2.20" fill="#370a0c" stroke="none" stroke-width="0.8"/>
<rect x="441.57" y="100.79" width="2.20" height="2.20" fill="#370a0c" stroke="none" stroke-width="0.8"/>
<rect x="430.56" y="92.58" width="2.20" height="2.20" fill="#370a0c" stroke="none" stroke-width="0.8"/>
<rect x="421.72" y="100.67" width="2.20" height="2.20" fill="#370a0c" stroke="none" stroke-width="0.8"/>
<rect x="435.90" y="75.04" width="2.20" height="2.20" fill="#370a0c" stroke="none" stroke-width="0.8"/>
<rect x="448.06" y="88.58" width="2.20" height="2.20" fill="#370a0c" stroke="none" stroke-width="0.8"/>
<rect x="436.95" y="105.97" width="2.20" height="2.20" fill="#370a0c" stroke="none" stroke-width="0.8"/>
<circle cx="441.89" cy="116.77" r="0.90" fill="#b3241d" stroke="none" stroke-width="0.5"/>
<circle cx="411.60" cy="73.62" r="0.90" fill="#b3241d" stroke="none" stroke-width="0.5"/>
<rect x="440.52" y="98.08" width="2.20" height="2.20" fill="#370a0c" stroke="none" stroke-width="0.8"/>
<rect x="444.51" y="101.26" width="2.20" height="2.20" fill="#370a0c" stroke="none" stroke-width="0.8"/>
<circle cx="436.32" cy="110.27" r="0.90" fill="#b3241d" stroke="none" stroke-width="0.5"/>
<rect x="431.55" y="106.89" width="2.20" height="2.20" fill="#370a0c" stroke="none" stroke-width="0.8"/>
<rect x="429.71" y="77.02" width="2.20" height="2.20" fill="#370a0c" stroke="none" stroke-width="0.8"/>
<circle cx="435.27" cy="96.23" r="0.90" fill="#b3241d" stroke="none" stroke-width="0.5"/>
<rect x="427.20" y="68.28" width="2.20" height="2.20" fill="#370a0c" stroke="none" stroke-width="0.8"/>
<rect x="417.26" y="91.18" width="2.20" height="2.20" fill="#370a0c" stroke="none" stroke-width="0.8"/>
<rect x="439.85" y="110.73" width="2.20" height="2.20" fill="#370a0c" stroke="none" stroke-width="0.8"/>
<rect x="426.43" y="86.67" width="2.20" height="2.20" fill="#370a0c" stroke="none" stroke-width="0.8"/>
<rect x="438.32" y="96.23" width="2.20" height="2.20" fill="#370a0c" stroke="none" stroke-width="0.8"/>
<circle cx="427.05" cy="85.09" r="0.90" fill="#b3241d" stroke="none" stroke-width="0.5"/>
<circle cx="424.33" cy="97.78" r="0.90" fill="#b3241d" stroke="none" stroke-width="0.5"/>
<rect x="424.87" y="86.86" width="2.20" height="2.20" fill="#370a0c" stroke="none" stroke-width="0.8"/>
<rect x="429.84" y="103.19" width="2.20" height="2.20" fill="#370a0c" stroke="none" stroke-width="0.8"/>
<rect x="432.80" y="106.62" width="2.20" height="2.20" fill="#370a0c" stroke="none" stroke-width="0.8"/>
<rect x="428.66" y="96.25" width="2.20" height="2.20" fill="#370a0c" stroke="none" stroke-width="0.8"/>
<rect x="428.17" y="102.13" width="2.20" height="2.20" fill="#370a0c" stroke="none" stroke-width="0.8"/>
<rect x="422.93" y="78.01" width="2.20" height="2.20" fill="#370a0c" stroke="none" stroke-width="0.8"/>
<circle cx="417.71" cy="80.49" r="0.90" fill="#b3241d" stroke="none" stroke-width="0.5"/>
<rect x="426.35" y="97.69" width="2.20" height="2.20" fill="#370a0c" stroke="none" stroke-width="0.8"/>
<rect x="418.81" y="84.45" width="2.20" height="2.20" fill="#370a0c" stroke="none" stroke-width="0.8"/>
<rect x="428.27" y="83.38" width="2.20" height="2.20" fill="#370a0c" stroke="none" stroke-width="0.8"/>
<rect x="428.19" y="102.91" width="2.20" height="2.20" fill="#370a0c" stroke="none" stroke-width="0.8"/>
<rect x="423.29" y="79.64" width="2.20" height="2.20" fill="#370a0c" stroke="none" stroke-width="0.8"/>
<rect x="436.93" y="104.34" width="2.20" height="2.20" fill="#370a0c" stroke="none" stroke-width="0.8"/>
<circle cx="446.44" cy="107.70" r="0.90" fill="#b3241d" stroke="none" stroke-width="0.5"/>
<rect x="430.28" y="90.20" width="2.20" height="2.20" fill="#370a0c" stroke="none" stroke-width="0.8"/>
<rect x="424.06" y="88.18" width="2.20" height="2.20" fill="#370a0c" stroke="none" stroke-width="0.8"/>
<rect x="423.82" y="83.61" width="2.20" height="2.20" fill="#370a0c" stroke="none" stroke-width="0.8"/>
<rect x="437.43" y="102.62" width="2.20" height="2.20" fill="#370a0c" stroke="none" stroke-width="0.8"/>
<rect x="440.85" y="111.24" width="2.20" height="2.20" fill="#370a0c" stroke="none" stroke-width="0.8"/>
<rect x="436.71" y="102.08" width="2.20" height="2.20" fill="#370a0c" stroke="none" stroke-width="0.8"/>
<circle cx="424.75" cy="83.53" r="0.90" fill="#b3241d" stroke="none" stroke-width="0.5"/>
<circle cx="446.75" cy="82.18" r="0.90" fill="#b3241d" stroke="none" stroke-width="0.5"/>
<circle cx="434.36" cy="94.43" r="0.90" fill="#b3241d" stroke="none" stroke-width="0.5"/>
<rect x="445.73" y="118.97" width="2.20" height="2.20" fill="#370a0c" stroke="none" stroke-width="0.8"/>
<rect x="444.25" y="123.16" width="2.20" height="2.20" fill="#370a0c" stroke="none" stroke-width="0.8"/>
<rect x="423.64" y="90.74" width="2.20" height="2.20" fill="#370a0c" stroke="none" stroke-width="0.8"/>
<rect x="429.59" y="85.45" width="2.20" height="2.20" fill="#370a0c" stroke="none" stroke-width="0.8"/>
<rect x="424.32" y="90.49" width="2.20" height="2.20" fill="#370a0c" stroke="none" stroke-width="0.8"/>
<circle cx="430.96" cy="94.14" r="0.90" fill="#b3241d" stroke="none" stroke-width="0.5"/>
<rect x="437.28" y="92.97" width="2.20" height="2.20" fill="#370a0c" stroke="none" stroke-width="0.8"/>
<rect x="435.03" y="95.87" width="2.20" height="2.20" fill="#370a0c" stroke="none" stroke-width="0.8"/>
<circle cx="434.04" cy="112.77" r="0.90" fill="#b3241d" stroke="none" stroke-width="0.5"/>
<circle cx="419.57" cy="81.67" r="0.90" fill="#b3241d" stroke="none" stroke-width="0.5"/>
<circle cx="422.95" cy="95.33" r="0.90" fill="#b3241d" stroke="none" stroke-width="0.5"/>
<rect x="434.24" y="101.84" width="2.20" height="2.20" fill="#370a0c" stroke="none" stroke-width="0.8"/>
<rect x="426.39" y="99.52" width="2.20" height="2.20" fill="#370a0c" stroke="none" stroke-width="0.8"/>
<rect x="432.84" y="83.93" width="2.20" height="2.20" fill="#370a0c" stroke="none" stroke-width="0.8"/>
<circle cx="420.56" cy="88.12" r="0.90" fill="#b3241d" stroke="none" stroke-width="0.5"/>
<rect x="439.97" y="101.59" width="2.20" height="2.20" fill="#370a0c" stroke="none" stroke-width="0.8"/>
<rect x="427.94" y="92.43" width="2.20" height="2.20" fill="#370a0c" stroke="none" stroke-width="0.8"/>
<rect x="469.29" y="124.05" width="2.20" height="2.20" fill="#370a0c" stroke="none" stroke-width="0.8"/>
<circle cx="453.15" cy="102.64" r="0.90" fill="#b3241d" stroke="none" stroke-width="0.5"/>
<rect x="444.16" y="105.14" width="2.20" height="2.20" fill="#370a0c" stroke="none" stroke-width="0.8"/>
<rect x="466.34" y="115.77" width="2.20" height="2.20" fill="#370a0c" stroke="none" stroke-width="0.8"/>
<rect x="471.30" y="117.09" width="2.20" height="2.20" fill="#370a0c" stroke="none" stroke-width="0.8"/>
<circle cx="444.18" cy="106.63" r="0.90" fill="#b3241d" stroke="none" stroke-width="0.5"/>
<circle cx="465.14" cy="117.51" r="0.90" fill="#b3241d" stroke="none" stroke-width="0.5"/>
<rect x="460.91" y="118.21" width="2.20" height="2.20" fill="#370a0c" stroke="none" stroke-width="0.8"/>
<circle cx="450.43" cy="103.99" r="0.90" fill="#b3241d" stroke="none" stroke-width="0.5"/>
<circle cx="474.73" cy="123.00" r="0.90" fill="#b3241d" stroke="none" stroke-width="0.5"/>
<circle cx="464.77" cy="122.08" r="0.90" fill="#b3241d" stroke="none" stroke-width="0.5"/>
<rect x="448.07" y="109.74" width="2.20" height="2.20" fill="#370a0c" stroke="none" stroke-width="0.8"/>
<rect x="459.47" y="120.87" width="2.20" height="2.20" fill="#370a0c" stroke="none" stroke-width="0.8"/>
<rect x="462.76" y="110.50" width="2.20" height="2.20" fill="#370a0c" stroke="none" stroke-width="0.8"/>
<circle cx="471.55" cy="117.76" r="0.90" fill="#b3241d" stroke="none" stroke-width="0.5"/>
<rect x="464.88" y="107.82" width="2.20" height="2.20" fill="#370a0c" stroke="none" stroke-width="0.8"/>
<circle cx="453.92" cy="103.65" r="0.90" fill="#b3241d" stroke="none" stroke-width="0.5"/>
<rect x="443.65" y="101.92" width="2.20" height="2.20" fill="#370a0c" stroke="none" stroke-width="0.8"/>
<rect x="443.37" y="100.92" width="2.20" height="2.20" fill="#370a0c" stroke="none" stroke-width="0.8"/>
<rect x="455.86" y="115.71" width="2.20" height="2.20" fill="#370a0c" stroke="none" stroke-width="0.8"/>
<circle cx="470.98" cy="125.15" r="0.90" fill="#b3241d" stroke="none" stroke-width="0.5"/>
<rect x="470.54" y="124.05" width="2.20" height="2.20" fill="#370a0c" stroke="none" stroke-width="0.8"/>
<circle cx="455.47" cy="104.80" r="0.90" fill="#b3241d" stroke="none" stroke-width="0.5"/>
<circle cx="454.08" cy="112.25" r="0.90" fill="#b3241d" stroke="none" stroke-width="0.5"/>
<circle cx="443.45" cy="117.96" r="0.90" fill="#b3241d" stroke="none" stroke-width="0.5"/>
<rect x="456.77" y="107.23" width="2.20" height="2.20" fill="#370a0c" stroke="none" stroke-width="0.8"/>
<rect x="429.79" y="82.38" width="2.20" height="2.20" fill="#370a0c" stroke="none" stroke-width="0.8"/>
<rect x="432.46" y="71.99" width="2.20" height="2.20" fill="#370a0c" stroke="none" stroke-width="0.8"/>
<rect x="413.73" y="77.38" width="2.20" height="2.20" fill="#370a0c" stroke="none" stroke-width="0.8"/>
<rect x="433.95" y="70.19" width="2.20" height="2.20" fill="#370a0c" stroke="none" stroke-width="0.8"/>
<circle cx="423.41" cy="71.50" r="0.90" fill="#b3241d" stroke="none" stroke-width="0.5"/>
<circle cx="422.78" cy="78.13" r="0.90" fill="#b3241d" stroke="none" stroke-width="0.5"/>
<rect x="427.31" y="59.61" width="2.20" height="2.20" fill="#370a0c" stroke="none" stroke-width="0.8"/>
<rect x="423.52" y="58.64" width="2.20" height="2.20" fill="#370a0c" stroke="none" stroke-width="0.8"/>
<circle cx="431.86" cy="85.32" r="0.90" fill="#b3241d" stroke="none" stroke-width="0.5"/>
<rect x="427.88" y="60.68" width="2.20" height="2.20" fill="#370a0c" stroke="none" stroke-width="0.8"/>
<circle cx="409.74" cy="77.47" r="0.90" fill="#b3241d" stroke="none" stroke-width="0.5"/>
<circle cx="427.23" cy="80.19" r="0.90" fill="#b3241d" stroke="none" stroke-width="0.5"/>
<rect x="422.82" y="74.62" width="2.20" height="2.20" fill="#370a0c" stroke="none" stroke-width="0.8"/>
<rect x="415.90" y="73.41" width="2.20" height="2.20" fill="#370a0c" stroke="none" stroke-width="0.8"/>
<rect x="419.32" y="72.94" width="2.20" height="2.20" fill="#370a0c" stroke="none" stroke-width="0.8"/>
<circle cx="423.00" cy="79.38" r="0.90" fill="#b3241d" stroke="none" stroke-width="0.5"/>
<rect x="416.38" y="77.81" width="2.20" height="2.20" fill="#370a0c" stroke="none" stroke-width="0.8"/>
<circle cx="426.58" cy="82.24" r="0.90" fill="#b3241d" stroke="none" stroke-width="0.5"/>
<rect x="409.42" y="40.77" width="2.20" height="2.20" fill="#370a0c" stroke="none" stroke-width="0.8"/>
<rect x="457.61" y="50.40" width="2.20" height="2.20" fill="#370a0c" stroke="none" stroke-width="0.8"/>
<rect x="417.13" y="53.32" width="2.20" height="2.20" fill="#370a0c" stroke="none" stroke-width="0.8"/>
<rect x="417.77" y="60.04" width="2.20" height="2.20" fill="#370a0c" stroke="none" stroke-width="0.8"/>
<rect x="413.92" y="64.85" width="2.20" height="2.20" fill="#370a0c" stroke="none" stroke-width="0.8"/>
<rect x="419.96" y="62.83" width="2.20" height="2.20" fill="#370a0c" stroke="none" stroke-width="0.8"/>
<rect x="421.63" y="64.85" width="2.20" height="2.20" fill="#370a0c" stroke="none" stroke-width="0.8"/>
<rect x="425.49" y="64.85" width="2.20" height="2.20" fill="#370a0c" stroke="none" stroke-width="0.8"/>
<rect x="442.19" y="60.04" width="2.20" height="2.20" fill="#370a0c" stroke="none" stroke-width="0.8"/>
<rect x="447.33" y="62.45" width="2.20" height="2.20" fill="#370a0c" stroke="none" stroke-width="0.8"/>
<rect x="449.26" y="69.29" width="2.20" height="2.20" fill="#370a0c" stroke="none" stroke-width="0.8"/>
<rect x="419.83" y="69.67" width="2.20" height="2.20" fill="#370a0c" stroke="none" stroke-width="0.8"/>
<rect x="416.49" y="79.68" width="2.20" height="2.20" fill="#370a0c" stroke="none" stroke-width="0.8"/>
<rect x="430.62" y="75.37" width="2.20" height="2.20" fill="#370a0c" stroke="none" stroke-width="0.8"/>
<rect x="447.33" y="78.92" width="2.20" height="2.20" fill="#370a0c" stroke="none" stroke-width="0.8"/>
<rect x="453.75" y="84.12" width="2.20" height="2.20" fill="#370a0c" stroke="none" stroke-width="0.8"/>
<rect x="458.89" y="89.32" width="2.20" height="2.20" fill="#370a0c" stroke="none" stroke-width="0.8"/>
<rect x="405.57" y="95.65" width="2.20" height="2.20" fill="#370a0c" stroke="none" stroke-width="0.8"/>
<rect x="411.35" y="100.09" width="2.20" height="2.20" fill="#370a0c" stroke="none" stroke-width="0.8"/>
<rect x="428.06" y="110.99" width="2.20" height="2.20" fill="#370a0c" stroke="none" stroke-width="0.8"/>
<rect x="425.49" y="117.71" width="2.20" height="2.20" fill="#370a0c" stroke="none" stroke-width="0.8"/>
<rect x="420.34" y="123.54" width="2.20" height="2.20" fill="#370a0c" stroke="none" stroke-width="0.8"/>
<rect x="440.91" y="119.74" width="2.20" height="2.20" fill="#370a0c" stroke="none" stroke-width="0.8"/>
<rect x="450.67" y="111.88" width="2.20" height="2.20" fill="#370a0c" stroke="none" stroke-width="0.8"/>
<rect x="456.32" y="113.91" width="2.20" height="2.20" fill="#370a0c" stroke="none" stroke-width="0.8"/>
<rect x="460.18" y="117.71" width="2.20" height="2.20" fill="#370a0c" stroke="none" stroke-width="0.8"/>
<rect x="475.60" y="121.64" width="2.20" height="2.20" fill="#370a0c" stroke="none" stroke-width="0.8"/>
<rect x="465.32" y="116.70" width="2.20" height="2.20" fill="#370a0c" stroke="none" stroke-width="0.8"/>
<rect x="469.18" y="119.23" width="2.20" height="2.20" fill="#370a0c" stroke="none" stroke-width="0.8"/>
<line x1="403.46" y1="72.17" x2="477.34" y2="125.40" stroke="#b01c18" stroke-width="1.5" stroke-dasharray="0.2 2.6" stroke-linecap="round"/>
<line x1="403.46" y1="82.94" x2="495.98" y2="113.74" stroke="#7a0f10" stroke-width="1.8" stroke-dasharray="4.2 1.7"/>
<line x1="403.46" y1="92.70" x2="495.98" y2="104.36" stroke="#1f2a7e" stroke-width="1.7"/>
<line x1="468.60" y1="30.00" x2="480.40" y2="30.00" stroke="#b01c18" stroke-width="1.5" stroke-dasharray="0.2 2.6" stroke-linecap="round"/>
<line x1="468.40" y1="44.40" x2="480.40" y2="44.40" stroke="#7a0f10" stroke-width="1.9" stroke-dasharray="4.2 1.7"/>
<circle cx="474.40" cy="44.40" r="1.20" fill="#3a0a0a" stroke="none" stroke-width="0.5"/>
<line x1="468.40" y1="59.00" x2="480.40" y2="59.00" stroke="#1f2a7e" stroke-width="1.7"/>
<text x="484.20" y="32.50" font-size="8.1" fill="#222">sepsis</text>
<text x="484.20" y="46.90" font-size="8.1" fill="#222">COVID-19</text>
<text x="484.20" y="61.40" font-size="8.1" fill="#222">infection</text>
<line x1="399.60" y1="21.20" x2="399.60" y2="125.40" stroke="#2b2b2b" stroke-width="1.45"/>
<line x1="395.80" y1="125.40" x2="399.60" y2="125.40" stroke="#2b2b2b" stroke-width="1.2"/>
<text x="393.10" y="128.50" font-size="8.8" text-anchor="end" fill="#222">0</text>
<line x1="395.80" y1="100.05" x2="399.60" y2="100.05" stroke="#2b2b2b" stroke-width="1.2"/>
<text x="393.10" y="103.15" font-size="8.8" text-anchor="end" fill="#222">200</text>
<line x1="395.80" y1="74.70" x2="399.60" y2="74.70" stroke="#2b2b2b" stroke-width="1.2"/>
<text x="393.10" y="77.80" font-size="8.8" text-anchor="end" fill="#222">400</text>
<line x1="395.80" y1="49.35" x2="399.60" y2="49.35" stroke="#2b2b2b" stroke-width="1.2"/>
<text x="393.10" y="52.45" font-size="8.8" text-anchor="end" fill="#222">600</text>
<line x1="395.80" y1="24.00" x2="399.60" y2="24.00" stroke="#2b2b2b" stroke-width="1.2"/>
<text x="393.10" y="27.10" font-size="8.8" text-anchor="end" fill="#222">800</text>
<line x1="398.90" y1="125.40" x2="504.00" y2="125.40" stroke="#2b2b2b" stroke-width="1.45"/>
<line x1="399.60" y1="125.40" x2="399.60" y2="128.60" stroke="#2b2b2b" stroke-width="1.0"/>
<text x="399.60" y="139.80" font-size="8.8" text-anchor="middle" fill="#222">8</text>
<line x1="425.30" y1="125.40" x2="425.30" y2="128.60" stroke="#2b2b2b" stroke-width="1.0"/>
<text x="425.30" y="139.80" font-size="8.8" text-anchor="middle" fill="#222">10</text>
<line x1="451.00" y1="125.40" x2="451.00" y2="128.60" stroke="#2b2b2b" stroke-width="1.0"/>
<text x="451.00" y="139.80" font-size="8.8" text-anchor="middle" fill="#222">12</text>
<line x1="476.70" y1="125.40" x2="476.70" y2="128.60" stroke="#2b2b2b" stroke-width="1.0"/>
<text x="476.70" y="139.80" font-size="8.8" text-anchor="middle" fill="#222">14</text>
<line x1="502.40" y1="125.40" x2="502.40" y2="128.60" stroke="#2b2b2b" stroke-width="1.0"/>
<text x="502.40" y="139.80" font-size="8.8" text-anchor="middle" fill="#222">16</text>
<text x="367.00" y="75.00" font-size="8.4" text-anchor="middle" textLength="48" lengthAdjust="spacingAndGlyphs" transform="rotate(-90 367.0 75.0)" fill="#222" dominant-baseline="central" style="stroke-width:0.3px">PLT count [/nL]</text>
<text x="451.00" y="150.20" font-size="8.4" text-anchor="middle" textLength="25.6" lengthAdjust="spacingAndGlyphs" fill="#222" dominant-baseline="central" style="stroke-width:0.3px">MPV [fl]</text>
<text x="0.20" y="180.20" font-size="10.6" font-weight="bold" fill="#0a0a0a">D</text>
<text x="90.60" y="181.30" font-size="8.1" text-anchor="middle" fill="#222">resting, PAC-1</text>
<rect x="52.20" y="318.65" width="11.20" height="1.75" fill="#f2f2f2" stroke="#8a8a8a" stroke-width="0.8"/>
<rect x="68.80" y="315.15" width="11.20" height="5.25" fill="#c9cbec" stroke="#202575" stroke-width="0.8"/>
<rect x="85.40" y="317.77" width="11.20" height="2.62" fill="#f8cfcf" stroke="#c43a33" stroke-width="0.8"/>
<rect x="102.00" y="317.77" width="11.20" height="2.62" fill="#f8cfcf" stroke="#c43a33" stroke-width="0.8"/>
<rect x="118.60" y="318.30" width="11.20" height="2.10" fill="#ead3d3" stroke="#5c0e10" stroke-width="0.8"/>
<rect x="135.20" y="318.47" width="11.20" height="1.93" fill="#ead3d3" stroke="#5c0e10" stroke-width="0.8"/>
<circle cx="52.35" cy="320.19" r="1.47" fill="#d0d0d0" stroke="#6a6a6a" stroke-width="0.8"/>
<circle cx="55.21" cy="320.47" r="1.47" fill="#d0d0d0" stroke="#6a6a6a" stroke-width="0.8"/>
<circle cx="57.83" cy="319.93" r="1.47" fill="#d0d0d0" stroke="#6a6a6a" stroke-width="0.8"/>
<circle cx="60.42" cy="320.10" r="1.47" fill="#d0d0d0" stroke="#6a6a6a" stroke-width="0.8"/>
<circle cx="63.26" cy="320.73" r="1.47" fill="#d0d0d0" stroke="#6a6a6a" stroke-width="0.8"/>
<circle cx="53.80" cy="320.22" r="1.47" fill="#d0d0d0" stroke="#6a6a6a" stroke-width="0.8"/>
<circle cx="61.80" cy="320.05" r="1.47" fill="#d0d0d0" stroke="#6a6a6a" stroke-width="0.8"/>
<circle cx="56.30" cy="319.88" r="1.47" fill="#d0d0d0" stroke="#6a6a6a" stroke-width="0.8"/>
<circle cx="59.30" cy="319.70" r="1.47" fill="#d0d0d0" stroke="#6a6a6a" stroke-width="0.8"/>
<circle cx="54.80" cy="319.35" r="1.47" fill="#d0d0d0" stroke="#6a6a6a" stroke-width="0.8"/>
<circle cx="60.80" cy="319.00" r="1.47" fill="#d0d0d0" stroke="#6a6a6a" stroke-width="0.8"/>
<circle cx="57.30" cy="318.65" r="1.47" fill="#d0d0d0" stroke="#6a6a6a" stroke-width="0.8"/>
<circle cx="58.80" cy="318.30" r="1.47" fill="#d0d0d0" stroke="#6a6a6a" stroke-width="0.8"/>
<circle cx="53.80" cy="317.60" r="1.47" fill="#d0d0d0" stroke="#6a6a6a" stroke-width="0.8"/>
<circle cx="61.80" cy="316.90" r="1.47" fill="#d0d0d0" stroke="#6a6a6a" stroke-width="0.8"/>
<circle cx="56.30" cy="315.85" r="1.47" fill="#d0d0d0" stroke="#6a6a6a" stroke-width="0.8"/>
<circle cx="58.80" cy="313.92" r="1.47" fill="#d0d0d0" stroke="#6a6a6a" stroke-width="0.8"/>
<circle cx="56.80" cy="311.30" r="1.47" fill="#d0d0d0" stroke="#6a6a6a" stroke-width="0.8"/>
<circle cx="58.30" cy="308.50" r="1.47" fill="#d0d0d0" stroke="#6a6a6a" stroke-width="0.8"/>
<circle cx="56.80" cy="305.70" r="1.47" fill="#d0d0d0" stroke="#6a6a6a" stroke-width="0.8"/>
<circle cx="57.80" cy="302.72" r="1.47" fill="#d0d0d0" stroke="#6a6a6a" stroke-width="0.8"/>
<circle cx="58.80" cy="299.75" r="1.47" fill="#d0d0d0" stroke="#6a6a6a" stroke-width="0.8"/>
<circle cx="70.48" cy="320.93" r="1.55" fill="#1e2170" stroke="#0e0f38" stroke-width="0.6"/>
<circle cx="72.85" cy="319.96" r="1.55" fill="#1e2170" stroke="#0e0f38" stroke-width="0.6"/>
<circle cx="75.55" cy="320.33" r="1.55" fill="#1e2170" stroke="#0e0f38" stroke-width="0.6"/>
<circle cx="78.28" cy="320.09" r="1.55" fill="#1e2170" stroke="#0e0f38" stroke-width="0.6"/>
<circle cx="76.90" cy="320.22" r="1.55" fill="#1e2170" stroke="#0e0f38" stroke-width="0.6"/>
<circle cx="71.40" cy="319.88" r="1.55" fill="#1e2170" stroke="#0e0f38" stroke-width="0.6"/>
<circle cx="74.40" cy="319.52" r="1.55" fill="#1e2170" stroke="#0e0f38" stroke-width="0.6"/>
<circle cx="75.90" cy="319.00" r="1.55" fill="#1e2170" stroke="#0e0f38" stroke-width="0.6"/>
<circle cx="70.40" cy="318.65" r="1.55" fill="#1e2170" stroke="#0e0f38" stroke-width="0.6"/>
<circle cx="77.90" cy="318.30" r="1.55" fill="#1e2170" stroke="#0e0f38" stroke-width="0.6"/>
<circle cx="72.90" cy="317.77" r="1.55" fill="#1e2170" stroke="#0e0f38" stroke-width="0.6"/>
<circle cx="74.90" cy="317.25" r="1.55" fill="#1e2170" stroke="#0e0f38" stroke-width="0.6"/>
<circle cx="70.90" cy="316.55" r="1.55" fill="#1e2170" stroke="#0e0f38" stroke-width="0.6"/>
<circle cx="77.40" cy="315.85" r="1.55" fill="#1e2170" stroke="#0e0f38" stroke-width="0.6"/>
<circle cx="73.40" cy="314.80" r="1.55" fill="#1e2170" stroke="#0e0f38" stroke-width="0.6"/>
<circle cx="70.40" cy="313.40" r="1.55" fill="#1e2170" stroke="#0e0f38" stroke-width="0.6"/>
<circle cx="74.40" cy="311.30" r="1.55" fill="#1e2170" stroke="#0e0f38" stroke-width="0.6"/>
<circle cx="76.40" cy="308.85" r="1.55" fill="#1e2170" stroke="#0e0f38" stroke-width="0.6"/>
<circle cx="74.40" cy="306.05" r="1.55" fill="#1e2170" stroke="#0e0f38" stroke-width="0.6"/>
<circle cx="75.40" cy="303.07" r="1.55" fill="#1e2170" stroke="#0e0f38" stroke-width="0.6"/>
<circle cx="74.40" cy="300.10" r="1.55" fill="#1e2170" stroke="#0e0f38" stroke-width="0.6"/>
<circle cx="74.40" cy="289.25" r="1.55" fill="#1e2170" stroke="#0e0f38" stroke-width="0.6"/>
<circle cx="74.40" cy="270.35" r="1.55" fill="#1e2170" stroke="#0e0f38" stroke-width="0.6"/>
<circle cx="74.40" cy="240.77" r="1.55" fill="#1e2170" stroke="#0e0f38" stroke-width="0.6"/>
<circle cx="87.02" cy="320.18" r="1.55" fill="#d2221e" stroke="#80100e" stroke-width="0.6"/>
<circle cx="89.66" cy="319.82" r="1.55" fill="#d2221e" stroke="#80100e" stroke-width="0.6"/>
<circle cx="92.12" cy="320.33" r="1.55" fill="#d2221e" stroke="#80100e" stroke-width="0.6"/>
<circle cx="95.15" cy="320.20" r="1.55" fill="#d2221e" stroke="#80100e" stroke-width="0.6"/>
<circle cx="93.50" cy="320.22" r="1.55" fill="#d2221e" stroke="#80100e" stroke-width="0.6"/>
<circle cx="88.50" cy="320.05" r="1.55" fill="#d2221e" stroke="#80100e" stroke-width="0.6"/>
<circle cx="91.00" cy="319.70" r="1.55" fill="#d2221e" stroke="#80100e" stroke-width="0.6"/>
<circle cx="94.50" cy="319.35" r="1.55" fill="#d2221e" stroke="#80100e" stroke-width="0.6"/>
<circle cx="92.50" cy="319.00" r="1.55" fill="#d2221e" stroke="#80100e" stroke-width="0.6"/>
<circle cx="87.50" cy="318.65" r="1.55" fill="#d2221e" stroke="#80100e" stroke-width="0.6"/>
<circle cx="90.00" cy="318.12" r="1.55" fill="#d2221e" stroke="#80100e" stroke-width="0.6"/>
<circle cx="94.00" cy="317.42" r="1.55" fill="#d2221e" stroke="#80100e" stroke-width="0.6"/>
<circle cx="92.00" cy="316.55" r="1.55" fill="#d2221e" stroke="#80100e" stroke-width="0.6"/>
<circle cx="88.00" cy="315.50" r="1.55" fill="#d2221e" stroke="#80100e" stroke-width="0.6"/>
<circle cx="90.50" cy="313.75" r="1.55" fill="#d2221e" stroke="#80100e" stroke-width="0.6"/>
<circle cx="92.50" cy="311.30" r="1.55" fill="#d2221e" stroke="#80100e" stroke-width="0.6"/>
<circle cx="91.00" cy="308.50" r="1.55" fill="#d2221e" stroke="#80100e" stroke-width="0.6"/>
<circle cx="91.00" cy="301.85" r="1.55" fill="#d2221e" stroke="#80100e" stroke-width="0.6"/>
<circle cx="92.00" cy="298.88" r="1.55" fill="#d2221e" stroke="#80100e" stroke-width="0.6"/>
<circle cx="103.72" cy="319.98" r="1.55" fill="#d2221e" stroke="#80100e" stroke-width="0.6"/>
<circle cx="106.34" cy="320.48" r="1.55" fill="#d2221e" stroke="#80100e" stroke-width="0.6"/>
<circle cx="108.74" cy="319.91" r="1.55" fill="#d2221e" stroke="#80100e" stroke-width="0.6"/>
<circle cx="111.65" cy="320.63" r="1.55" fill="#d2221e" stroke="#80100e" stroke-width="0.6"/>
<circle cx="110.10" cy="320.22" r="1.55" fill="#d2221e" stroke="#80100e" stroke-width="0.6"/>
<circle cx="105.10" cy="319.88" r="1.55" fill="#d2221e" stroke="#80100e" stroke-width="0.6"/>
<circle cx="107.10" cy="319.52" r="1.55" fill="#d2221e" stroke="#80100e" stroke-width="0.6"/>
<circle cx="111.60" cy="319.00" r="1.55" fill="#d2221e" stroke="#80100e" stroke-width="0.6"/>
<circle cx="109.60" cy="318.30" r="1.55" fill="#d2221e" stroke="#80100e" stroke-width="0.6"/>
<circle cx="104.10" cy="317.42" r="1.55" fill="#d2221e" stroke="#80100e" stroke-width="0.6"/>
<circle cx="107.10" cy="316.38" r="1.55" fill="#d2221e" stroke="#80100e" stroke-width="0.6"/>
<circle cx="109.60" cy="314.45" r="1.55" fill="#d2221e" stroke="#80100e" stroke-width="0.6"/>
<circle cx="107.60" cy="311.65" r="1.55" fill="#d2221e" stroke="#80100e" stroke-width="0.6"/>
<circle cx="109.10" cy="308.85" r="1.55" fill="#d2221e" stroke="#80100e" stroke-width="0.6"/>
<circle cx="107.60" cy="304.47" r="1.55" fill="#d2221e" stroke="#80100e" stroke-width="0.6"/>
<circle cx="107.60" cy="296.25" r="1.55" fill="#d2221e" stroke="#80100e" stroke-width="0.6"/>
<circle cx="119.92" cy="320.12" r="1.55" fill="#5a0c0e" stroke="#2a0405" stroke-width="0.6"/>
<circle cx="122.71" cy="320.43" r="1.55" fill="#5a0c0e" stroke="#2a0405" stroke-width="0.6"/>
<circle cx="125.39" cy="319.93" r="1.55" fill="#5a0c0e" stroke="#2a0405" stroke-width="0.6"/>
<circle cx="128.14" cy="319.86" r="1.55" fill="#5a0c0e" stroke="#2a0405" stroke-width="0.6"/>
<circle cx="126.70" cy="320.05" r="1.55" fill="#5a0c0e" stroke="#2a0405" stroke-width="0.6"/>
<circle cx="121.20" cy="319.70" r="1.55" fill="#5a0c0e" stroke="#2a0405" stroke-width="0.6"/>
<circle cx="123.70" cy="319.17" r="1.55" fill="#5a0c0e" stroke="#2a0405" stroke-width="0.6"/>
<circle cx="126.20" cy="318.47" r="1.55" fill="#5a0c0e" stroke="#2a0405" stroke-width="0.6"/>
<circle cx="120.20" cy="317.42" r="1.55" fill="#5a0c0e" stroke="#2a0405" stroke-width="0.6"/>
<circle cx="124.20" cy="316.02" r="1.55" fill="#5a0c0e" stroke="#2a0405" stroke-width="0.6"/>
<circle cx="126.20" cy="313.57" r="1.55" fill="#5a0c0e" stroke="#2a0405" stroke-width="0.6"/>
<circle cx="124.20" cy="310.77" r="1.55" fill="#5a0c0e" stroke="#2a0405" stroke-width="0.6"/>
<circle cx="126.20" cy="308.32" r="1.55" fill="#5a0c0e" stroke="#2a0405" stroke-width="0.6"/>
<circle cx="124.20" cy="299.57" r="1.55" fill="#5a0c0e" stroke="#2a0405" stroke-width="0.6"/>
<circle cx="136.73" cy="320.68" r="1.55" fill="#5a0c0e" stroke="#2a0405" stroke-width="0.6"/>
<circle cx="139.42" cy="320.03" r="1.55" fill="#5a0c0e" stroke="#2a0405" stroke-width="0.6"/>
<circle cx="141.97" cy="320.92" r="1.55" fill="#5a0c0e" stroke="#2a0405" stroke-width="0.6"/>
<circle cx="144.86" cy="320.78" r="1.55" fill="#5a0c0e" stroke="#2a0405" stroke-width="0.6"/>
<circle cx="143.30" cy="320.05" r="1.55" fill="#5a0c0e" stroke="#2a0405" stroke-width="0.6"/>
<circle cx="137.80" cy="319.70" r="1.55" fill="#5a0c0e" stroke="#2a0405" stroke-width="0.6"/>
<circle cx="141.30" cy="319.17" r="1.55" fill="#5a0c0e" stroke="#2a0405" stroke-width="0.6"/>
<circle cx="144.80" cy="318.47" r="1.55" fill="#5a0c0e" stroke="#2a0405" stroke-width="0.6"/>
<circle cx="139.30" cy="317.42" r="1.55" fill="#5a0c0e" stroke="#2a0405" stroke-width="0.6"/>
<circle cx="142.30" cy="315.85" r="1.55" fill="#5a0c0e" stroke="#2a0405" stroke-width="0.6"/>
<circle cx="139.80" cy="313.57" r="1.55" fill="#5a0c0e" stroke="#2a0405" stroke-width="0.6"/>
<circle cx="140.80" cy="307.80" r="1.55" fill="#5a0c0e" stroke="#2a0405" stroke-width="0.6"/>
<circle cx="140.80" cy="302.02" r="1.55" fill="#5a0c0e" stroke="#2a0405" stroke-width="0.6"/>
<line x1="47.40" y1="212.60" x2="47.40" y2="320.40" stroke="#2b2b2b" stroke-width="1.45"/>
<line x1="43.60" y1="320.40" x2="47.40" y2="320.40" stroke="#2b2b2b" stroke-width="1.2"/>
<text x="40.90" y="323.50" font-size="8.8" text-anchor="end" fill="#222">0</text>
<line x1="43.60" y1="285.40" x2="47.40" y2="285.40" stroke="#2b2b2b" stroke-width="1.2"/>
<text x="40.90" y="288.50" font-size="8.8" text-anchor="end" fill="#222">20</text>
<line x1="43.60" y1="250.40" x2="47.40" y2="250.40" stroke="#2b2b2b" stroke-width="1.2"/>
<text x="40.90" y="253.50" font-size="8.8" text-anchor="end" fill="#222">40</text>
<line x1="43.60" y1="215.40" x2="47.40" y2="215.40" stroke="#2b2b2b" stroke-width="1.2"/>
<text x="40.90" y="218.50" font-size="8.8" text-anchor="end" fill="#222">60</text>
<line x1="46.70" y1="320.40" x2="151.70" y2="320.40" stroke="#2b2b2b" stroke-width="1.45"/>
<line x1="57.80" y1="320.40" x2="57.80" y2="323.20" stroke="#2b2b2b" stroke-width="1.1"/>
<line x1="74.40" y1="320.40" x2="74.40" y2="323.20" stroke="#2b2b2b" stroke-width="1.1"/>
<line x1="91.00" y1="320.40" x2="91.00" y2="323.20" stroke="#2b2b2b" stroke-width="1.1"/>
<line x1="107.60" y1="320.40" x2="107.60" y2="323.20" stroke="#2b2b2b" stroke-width="1.1"/>
<line x1="124.20" y1="320.40" x2="124.20" y2="323.20" stroke="#2b2b2b" stroke-width="1.1"/>
<line x1="140.80" y1="320.40" x2="140.80" y2="323.20" stroke="#2b2b2b" stroke-width="1.1"/>
<text x="19.20" y="268.50" font-size="8.4" text-anchor="middle" textLength="79.4" lengthAdjust="spacingAndGlyphs" transform="rotate(-90 19.2 268.5)" fill="#222" dominant-baseline="central" style="stroke-width:0.3px">PAC-1 [% over threshold]</text>
<text x="57.80" y="334.20" font-size="8.0" text-anchor="middle" fill="#222">ctrl</text>
<text x="74.40" y="334.20" font-size="8.0" text-anchor="middle" fill="#222">inf</text>
<text x="91.40" y="334.20" font-size="8.0" text-anchor="middle" fill="#2b2b2b">t<tspan font-size="5.76" dy="1.3">1</tspan></text>
<text x="108.00" y="334.20" font-size="8.0" text-anchor="middle" fill="#2b2b2b">t<tspan font-size="5.76" dy="1.3">2</tspan></text>
<line x1="91.50" y1="337.70" x2="106.80" y2="337.70" stroke="#2b2b2b" stroke-width="1.0"/>
<text x="124.60" y="334.20" font-size="8.0" text-anchor="middle" fill="#2b2b2b">t<tspan font-size="5.76" dy="1.3">1</tspan></text>
<text x="141.20" y="334.20" font-size="8.0" text-anchor="middle" fill="#2b2b2b">t<tspan font-size="5.76" dy="1.3">2</tspan></text>
<line x1="124.70" y1="337.70" x2="140.00" y2="337.70" stroke="#2b2b2b" stroke-width="1.0"/>
<text x="99.90" y="346.60" font-size="8.0" text-anchor="middle" fill="#222">sepsis</text>
<text x="133.10" y="346.60" font-size="8.0" text-anchor="middle" fill="#222">COVID-19</text>
<line x1="57.30" y1="205.50" x2="141.30" y2="205.50" stroke="#2b2b2b" stroke-width="1.0"/>
<line x1="57.80" y1="205.00" x2="57.80" y2="207.50" stroke="#2b2b2b" stroke-width="1.0"/>
<line x1="140.80" y1="205.00" x2="140.80" y2="207.50" stroke="#2b2b2b" stroke-width="1.0"/>
<text x="99.30" y="204.20" font-size="7.0" text-anchor="middle" fill="#222">ns</text>
<line x1="57.30" y1="213.50" x2="124.70" y2="213.50" stroke="#2b2b2b" stroke-width="1.0"/>
<line x1="57.80" y1="213.00" x2="57.80" y2="215.50" stroke="#2b2b2b" stroke-width="1.0"/>
<line x1="124.20" y1="213.00" x2="124.20" y2="215.50" stroke="#2b2b2b" stroke-width="1.0"/>
<text x="91.00" y="212.20" font-size="7.0" text-anchor="middle" fill="#222">ns</text>
<line x1="57.30" y1="220.50" x2="108.10" y2="220.50" stroke="#2b2b2b" stroke-width="1.0"/>
<line x1="57.80" y1="220.00" x2="57.80" y2="222.50" stroke="#2b2b2b" stroke-width="1.0"/>
<line x1="107.60" y1="220.00" x2="107.60" y2="222.50" stroke="#2b2b2b" stroke-width="1.0"/>
<text x="82.70" y="219.20" font-size="7.0" text-anchor="middle" fill="#222">ns</text>
<line x1="57.30" y1="227.50" x2="91.50" y2="227.50" stroke="#2b2b2b" stroke-width="1.0"/>
<line x1="57.80" y1="227.00" x2="57.80" y2="229.50" stroke="#2b2b2b" stroke-width="1.0"/>
<line x1="91.00" y1="227.00" x2="91.00" y2="229.50" stroke="#2b2b2b" stroke-width="1.0"/>
<text x="74.40" y="226.20" font-size="7.0" text-anchor="middle" fill="#222">ns</text>
<line x1="57.30" y1="235.50" x2="74.90" y2="235.50" stroke="#2b2b2b" stroke-width="1.0"/>
<line x1="57.80" y1="235.00" x2="57.80" y2="237.50" stroke="#2b2b2b" stroke-width="1.0"/>
<line x1="74.40" y1="235.00" x2="74.40" y2="237.50" stroke="#2b2b2b" stroke-width="1.0"/>
<circle cx="66.10" cy="232.30" r="1.00" fill="#222" stroke="none" stroke-width="0.5"/>
<line x1="73.90" y1="235.50" x2="91.50" y2="235.50" stroke="#2b2b2b" stroke-width="1.0"/>
<line x1="74.40" y1="235.00" x2="74.40" y2="237.50" stroke="#2b2b2b" stroke-width="1.0"/>
<line x1="91.00" y1="235.00" x2="91.00" y2="237.50" stroke="#2b2b2b" stroke-width="1.0"/>
<circle cx="82.70" cy="232.30" r="1.00" fill="#222" stroke="none" stroke-width="0.5"/>
<line x1="90.50" y1="235.50" x2="124.70" y2="235.50" stroke="#2b2b2b" stroke-width="1.0"/>
<line x1="91.00" y1="235.00" x2="91.00" y2="237.50" stroke="#2b2b2b" stroke-width="1.0"/>
<line x1="124.20" y1="235.00" x2="124.20" y2="237.50" stroke="#2b2b2b" stroke-width="1.0"/>
<text x="107.60" y="234.20" font-size="7.0" text-anchor="middle" fill="#222">ns</text>
<text x="168.60" y="180.20" font-size="10.6" font-weight="bold" fill="#0a0a0a">E</text>
<text x="264.50" y="181.30" font-size="8.1" text-anchor="middle" fill="#222">resting, PAC-1</text>
<rect x="216.00" y="298.25" width="11.20" height="22.15" fill="#f2f2f2" stroke="#8a8a8a" stroke-width="0.8"/>
<rect x="232.55" y="290.94" width="11.20" height="29.46" fill="#c9cbec" stroke="#202575" stroke-width="0.8"/>
<rect x="249.10" y="309.32" width="11.20" height="11.07" fill="#f8cfcf" stroke="#c43a33" stroke-width="0.8"/>
<rect x="265.65" y="309.32" width="11.20" height="11.07" fill="#f8cfcf" stroke="#c43a33" stroke-width="0.8"/>
<rect x="282.20" y="300.02" width="11.20" height="20.38" fill="#ead3d3" stroke="#5c0e10" stroke-width="0.8"/>
<rect x="298.75" y="303.57" width="11.20" height="16.83" fill="#ead3d3" stroke="#5c0e10" stroke-width="0.8"/>
<circle cx="221.60" cy="318.19" r="1.47" fill="#d0d0d0" stroke="#6a6a6a" stroke-width="0.8"/>
<circle cx="224.10" cy="315.97" r="1.47" fill="#d0d0d0" stroke="#6a6a6a" stroke-width="0.8"/>
<circle cx="221.60" cy="313.75" r="1.47" fill="#d0d0d0" stroke="#6a6a6a" stroke-width="0.8"/>
<circle cx="224.10" cy="311.54" r="1.47" fill="#d0d0d0" stroke="#6a6a6a" stroke-width="0.8"/>
<circle cx="221.60" cy="309.32" r="1.47" fill="#d0d0d0" stroke="#6a6a6a" stroke-width="0.8"/>
<circle cx="224.10" cy="307.11" r="1.47" fill="#d0d0d0" stroke="#6a6a6a" stroke-width="0.8"/>
<circle cx="221.10" cy="306.00" r="1.47" fill="#d0d0d0" stroke="#6a6a6a" stroke-width="0.8"/>
<circle cx="218.10" cy="304.89" r="1.47" fill="#d0d0d0" stroke="#6a6a6a" stroke-width="0.8"/>
<circle cx="223.60" cy="303.79" r="1.47" fill="#d0d0d0" stroke="#6a6a6a" stroke-width="0.8"/>
<circle cx="220.60" cy="302.68" r="1.47" fill="#d0d0d0" stroke="#6a6a6a" stroke-width="0.8"/>
<circle cx="217.60" cy="301.79" r="1.47" fill="#d0d0d0" stroke="#6a6a6a" stroke-width="0.8"/>
<circle cx="224.60" cy="300.91" r="1.47" fill="#d0d0d0" stroke="#6a6a6a" stroke-width="0.8"/>
<circle cx="221.60" cy="300.02" r="1.47" fill="#d0d0d0" stroke="#6a6a6a" stroke-width="0.8"/>
<circle cx="218.60" cy="299.14" r="1.47" fill="#d0d0d0" stroke="#6a6a6a" stroke-width="0.8"/>
<circle cx="226.10" cy="298.25" r="1.47" fill="#d0d0d0" stroke="#6a6a6a" stroke-width="0.8"/>
<circle cx="222.60" cy="297.14" r="1.47" fill="#d0d0d0" stroke="#6a6a6a" stroke-width="0.8"/>
<circle cx="219.60" cy="296.03" r="1.47" fill="#d0d0d0" stroke="#6a6a6a" stroke-width="0.8"/>
<circle cx="224.60" cy="294.71" r="1.47" fill="#d0d0d0" stroke="#6a6a6a" stroke-width="0.8"/>
<circle cx="221.60" cy="293.38" r="1.47" fill="#d0d0d0" stroke="#6a6a6a" stroke-width="0.8"/>
<circle cx="218.60" cy="292.05" r="1.47" fill="#d0d0d0" stroke="#6a6a6a" stroke-width="0.8"/>
<circle cx="222.60" cy="290.50" r="1.47" fill="#d0d0d0" stroke="#6a6a6a" stroke-width="0.8"/>
<circle cx="219.60" cy="288.95" r="1.47" fill="#d0d0d0" stroke="#6a6a6a" stroke-width="0.8"/>
<circle cx="222.10" cy="287.17" r="1.47" fill="#d0d0d0" stroke="#6a6a6a" stroke-width="0.8"/>
<circle cx="219.60" cy="284.96" r="1.47" fill="#d0d0d0" stroke="#6a6a6a" stroke-width="0.8"/>
<circle cx="222.10" cy="282.75" r="1.47" fill="#d0d0d0" stroke="#6a6a6a" stroke-width="0.8"/>
<circle cx="221.60" cy="279.42" r="1.47" fill="#d0d0d0" stroke="#6a6a6a" stroke-width="0.8"/>
<circle cx="221.60" cy="274.99" r="1.47" fill="#d0d0d0" stroke="#6a6a6a" stroke-width="0.8"/>
<circle cx="221.60" cy="271.67" r="1.47" fill="#d0d0d0" stroke="#6a6a6a" stroke-width="0.8"/>
<circle cx="221.60" cy="267.24" r="1.47" fill="#d0d0d0" stroke="#6a6a6a" stroke-width="0.8"/>
<circle cx="221.60" cy="261.70" r="1.47" fill="#d0d0d0" stroke="#6a6a6a" stroke-width="0.8"/>
<circle cx="238.15" cy="315.97" r="1.55" fill="#1e2170" stroke="#0e0f38" stroke-width="0.6"/>
<circle cx="240.65" cy="313.75" r="1.55" fill="#1e2170" stroke="#0e0f38" stroke-width="0.6"/>
<circle cx="238.15" cy="310.43" r="1.55" fill="#1e2170" stroke="#0e0f38" stroke-width="0.6"/>
<circle cx="238.15" cy="307.11" r="1.55" fill="#1e2170" stroke="#0e0f38" stroke-width="0.6"/>
<circle cx="240.65" cy="304.89" r="1.55" fill="#1e2170" stroke="#0e0f38" stroke-width="0.6"/>
<circle cx="238.15" cy="302.68" r="1.55" fill="#1e2170" stroke="#0e0f38" stroke-width="0.6"/>
<circle cx="240.65" cy="300.46" r="1.55" fill="#1e2170" stroke="#0e0f38" stroke-width="0.6"/>
<circle cx="238.15" cy="298.69" r="1.55" fill="#1e2170" stroke="#0e0f38" stroke-width="0.6"/>
<circle cx="241.15" cy="297.14" r="1.55" fill="#1e2170" stroke="#0e0f38" stroke-width="0.6"/>
<circle cx="238.15" cy="294.93" r="1.55" fill="#1e2170" stroke="#0e0f38" stroke-width="0.6"/>
<circle cx="240.65" cy="292.71" r="1.55" fill="#1e2170" stroke="#0e0f38" stroke-width="0.6"/>
<circle cx="238.15" cy="290.50" r="1.55" fill="#1e2170" stroke="#0e0f38" stroke-width="0.6"/>
<circle cx="241.15" cy="289.39" r="1.55" fill="#1e2170" stroke="#0e0f38" stroke-width="0.6"/>
<circle cx="238.15" cy="287.17" r="1.55" fill="#1e2170" stroke="#0e0f38" stroke-width="0.6"/>
<circle cx="240.65" cy="284.96" r="1.55" fill="#1e2170" stroke="#0e0f38" stroke-width="0.6"/>
<circle cx="238.15" cy="281.64" r="1.55" fill="#1e2170" stroke="#0e0f38" stroke-width="0.6"/>
<circle cx="238.15" cy="277.21" r="1.55" fill="#1e2170" stroke="#0e0f38" stroke-width="0.6"/>
<circle cx="238.15" cy="271.67" r="1.55" fill="#1e2170" stroke="#0e0f38" stroke-width="0.6"/>
<circle cx="237.03" cy="265.92" r="1.55" fill="#1e2170" stroke="#0e0f38" stroke-width="0.6"/>
<circle cx="239.63" cy="265.71" r="1.55" fill="#1e2170" stroke="#0e0f38" stroke-width="0.6"/>
<circle cx="253.11" cy="320.57" r="1.55" fill="#d2221e" stroke="#80100e" stroke-width="0.6"/>
<circle cx="256.26" cy="320.80" r="1.55" fill="#d2221e" stroke="#80100e" stroke-width="0.6"/>
<circle cx="259.70" cy="320.18" r="1.55" fill="#d2221e" stroke="#80100e" stroke-width="0.6"/>
<circle cx="249.70" cy="319.96" r="1.55" fill="#d2221e" stroke="#80100e" stroke-width="0.6"/>
<circle cx="254.70" cy="319.74" r="1.55" fill="#d2221e" stroke="#80100e" stroke-width="0.6"/>
<circle cx="257.70" cy="319.29" r="1.55" fill="#d2221e" stroke="#80100e" stroke-width="0.6"/>
<circle cx="251.70" cy="318.63" r="1.55" fill="#d2221e" stroke="#80100e" stroke-width="0.6"/>
<circle cx="259.70" cy="317.74" r="1.55" fill="#d2221e" stroke="#80100e" stroke-width="0.6"/>
<circle cx="255.70" cy="316.86" r="1.55" fill="#d2221e" stroke="#80100e" stroke-width="0.6"/>
<circle cx="250.20" cy="315.97" r="1.55" fill="#d2221e" stroke="#80100e" stroke-width="0.6"/>
<circle cx="253.20" cy="314.64" r="1.55" fill="#d2221e" stroke="#80100e" stroke-width="0.6"/>
<circle cx="256.20" cy="313.31" r="1.55" fill="#d2221e" stroke="#80100e" stroke-width="0.6"/>
<circle cx="251.70" cy="311.98" r="1.55" fill="#d2221e" stroke="#80100e" stroke-width="0.6"/>
<circle cx="254.70" cy="310.43" r="1.55" fill="#d2221e" stroke="#80100e" stroke-width="0.6"/>
<circle cx="257.70" cy="308.88" r="1.55" fill="#d2221e" stroke="#80100e" stroke-width="0.6"/>
<circle cx="254.70" cy="307.11" r="1.55" fill="#d2221e" stroke="#80100e" stroke-width="0.6"/>
<circle cx="257.20" cy="305.34" r="1.55" fill="#d2221e" stroke="#80100e" stroke-width="0.6"/>
<circle cx="254.20" cy="303.79" r="1.55" fill="#d2221e" stroke="#80100e" stroke-width="0.6"/>
<circle cx="256.70" cy="301.57" r="1.55" fill="#d2221e" stroke="#80100e" stroke-width="0.6"/>
<circle cx="254.20" cy="299.36" r="1.55" fill="#d2221e" stroke="#80100e" stroke-width="0.6"/>
<circle cx="256.70" cy="297.14" r="1.55" fill="#d2221e" stroke="#80100e" stroke-width="0.6"/>
<circle cx="254.20" cy="294.93" r="1.55" fill="#d2221e" stroke="#80100e" stroke-width="0.6"/>
<circle cx="256.70" cy="292.71" r="1.55" fill="#d2221e" stroke="#80100e" stroke-width="0.6"/>
<circle cx="254.70" cy="289.39" r="1.55" fill="#d2221e" stroke="#80100e" stroke-width="0.6"/>
<circle cx="254.70" cy="282.75" r="1.55" fill="#d2221e" stroke="#80100e" stroke-width="0.6"/>
<circle cx="254.70" cy="269.45" r="1.55" fill="#d2221e" stroke="#80100e" stroke-width="0.6"/>
<circle cx="271.25" cy="320.40" r="1.55" fill="#d2221e" stroke="#80100e" stroke-width="0.6"/>
<circle cx="274.75" cy="319.96" r="1.55" fill="#d2221e" stroke="#80100e" stroke-width="0.6"/>
<circle cx="268.25" cy="319.51" r="1.55" fill="#d2221e" stroke="#80100e" stroke-width="0.6"/>
<circle cx="272.75" cy="318.63" r="1.55" fill="#d2221e" stroke="#80100e" stroke-width="0.6"/>
<circle cx="276.25" cy="317.74" r="1.55" fill="#d2221e" stroke="#80100e" stroke-width="0.6"/>
<circle cx="270.25" cy="316.41" r="1.55" fill="#d2221e" stroke="#80100e" stroke-width="0.6"/>
<circle cx="273.25" cy="315.08" r="1.55" fill="#d2221e" stroke="#80100e" stroke-width="0.6"/>
<circle cx="268.75" cy="313.75" r="1.55" fill="#d2221e" stroke="#80100e" stroke-width="0.6"/>
<circle cx="271.75" cy="312.43" r="1.55" fill="#d2221e" stroke="#80100e" stroke-width="0.6"/>
<circle cx="274.75" cy="311.10" r="1.55" fill="#d2221e" stroke="#80100e" stroke-width="0.6"/>
<circle cx="271.25" cy="309.32" r="1.55" fill="#d2221e" stroke="#80100e" stroke-width="0.6"/>
<circle cx="273.75" cy="307.11" r="1.55" fill="#d2221e" stroke="#80100e" stroke-width="0.6"/>
<circle cx="271.25" cy="304.89" r="1.55" fill="#d2221e" stroke="#80100e" stroke-width="0.6"/>
<circle cx="273.75" cy="302.68" r="1.55" fill="#d2221e" stroke="#80100e" stroke-width="0.6"/>
<circle cx="271.25" cy="300.46" r="1.55" fill="#d2221e" stroke="#80100e" stroke-width="0.6"/>
<circle cx="273.75" cy="298.25" r="1.55" fill="#d2221e" stroke="#80100e" stroke-width="0.6"/>
<circle cx="271.25" cy="293.82" r="1.55" fill="#d2221e" stroke="#80100e" stroke-width="0.6"/>
<circle cx="271.25" cy="289.83" r="1.55" fill="#d2221e" stroke="#80100e" stroke-width="0.6"/>
<circle cx="274.75" cy="289.39" r="1.55" fill="#d2221e" stroke="#80100e" stroke-width="0.6"/>
<circle cx="271.25" cy="284.96" r="1.55" fill="#d2221e" stroke="#80100e" stroke-width="0.6"/>
<circle cx="271.25" cy="280.53" r="1.55" fill="#d2221e" stroke="#80100e" stroke-width="0.6"/>
<circle cx="274.25" cy="279.42" r="1.55" fill="#d2221e" stroke="#80100e" stroke-width="0.6"/>
<circle cx="286.26" cy="319.89" r="1.55" fill="#5a0c0e" stroke="#2a0405" stroke-width="0.6"/>
<circle cx="289.29" cy="320.10" r="1.55" fill="#5a0c0e" stroke="#2a0405" stroke-width="0.6"/>
<circle cx="292.80" cy="319.96" r="1.55" fill="#5a0c0e" stroke="#2a0405" stroke-width="0.6"/>
<circle cx="282.80" cy="319.29" r="1.55" fill="#5a0c0e" stroke="#2a0405" stroke-width="0.6"/>
<circle cx="290.80" cy="318.63" r="1.55" fill="#5a0c0e" stroke="#2a0405" stroke-width="0.6"/>
<circle cx="287.80" cy="317.74" r="1.55" fill="#5a0c0e" stroke="#2a0405" stroke-width="0.6"/>
<circle cx="285.30" cy="315.97" r="1.55" fill="#5a0c0e" stroke="#2a0405" stroke-width="0.6"/>
<circle cx="287.80" cy="313.75" r="1.55" fill="#5a0c0e" stroke="#2a0405" stroke-width="0.6"/>
<circle cx="287.80" cy="310.43" r="1.55" fill="#5a0c0e" stroke="#2a0405" stroke-width="0.6"/>
<circle cx="287.80" cy="307.11" r="1.55" fill="#5a0c0e" stroke="#2a0405" stroke-width="0.6"/>
<circle cx="287.80" cy="303.79" r="1.55" fill="#5a0c0e" stroke="#2a0405" stroke-width="0.6"/>
<circle cx="290.30" cy="301.57" r="1.55" fill="#5a0c0e" stroke="#2a0405" stroke-width="0.6"/>
<circle cx="287.30" cy="300.46" r="1.55" fill="#5a0c0e" stroke="#2a0405" stroke-width="0.6"/>
<circle cx="284.30" cy="299.36" r="1.55" fill="#5a0c0e" stroke="#2a0405" stroke-width="0.6"/>
<circle cx="287.80" cy="297.14" r="1.55" fill="#5a0c0e" stroke="#2a0405" stroke-width="0.6"/>
<circle cx="287.80" cy="293.82" r="1.55" fill="#5a0c0e" stroke="#2a0405" stroke-width="0.6"/>
<circle cx="287.80" cy="277.21" r="1.55" fill="#5a0c0e" stroke="#2a0405" stroke-width="0.6"/>
<circle cx="287.80" cy="273.88" r="1.55" fill="#5a0c0e" stroke="#2a0405" stroke-width="0.6"/>
<circle cx="287.80" cy="269.45" r="1.55" fill="#5a0c0e" stroke="#2a0405" stroke-width="0.6"/>
<circle cx="287.80" cy="265.02" r="1.55" fill="#5a0c0e" stroke="#2a0405" stroke-width="0.6"/>
<circle cx="304.35" cy="320.40" r="1.55" fill="#5a0c0e" stroke="#2a0405" stroke-width="0.6"/>
<circle cx="307.85" cy="319.96" r="1.55" fill="#5a0c0e" stroke="#2a0405" stroke-width="0.6"/>
<circle cx="301.35" cy="319.29" r="1.55" fill="#5a0c0e" stroke="#2a0405" stroke-width="0.6"/>
<circle cx="305.85" cy="318.19" r="1.55" fill="#5a0c0e" stroke="#2a0405" stroke-width="0.6"/>
<circle cx="303.35" cy="315.97" r="1.55" fill="#5a0c0e" stroke="#2a0405" stroke-width="0.6"/>
<circle cx="304.35" cy="311.54" r="1.55" fill="#5a0c0e" stroke="#2a0405" stroke-width="0.6"/>
<circle cx="304.35" cy="307.11" r="1.55" fill="#5a0c0e" stroke="#2a0405" stroke-width="0.6"/>
<circle cx="306.85" cy="304.89" r="1.55" fill="#5a0c0e" stroke="#2a0405" stroke-width="0.6"/>
<circle cx="304.35" cy="302.68" r="1.55" fill="#5a0c0e" stroke="#2a0405" stroke-width="0.6"/>
<circle cx="307.35" cy="301.57" r="1.55" fill="#5a0c0e" stroke="#2a0405" stroke-width="0.6"/>
<circle cx="304.35" cy="299.36" r="1.55" fill="#5a0c0e" stroke="#2a0405" stroke-width="0.6"/>
<circle cx="306.85" cy="297.14" r="1.55" fill="#5a0c0e" stroke="#2a0405" stroke-width="0.6"/>
<circle cx="304.35" cy="293.82" r="1.55" fill="#5a0c0e" stroke="#2a0405" stroke-width="0.6"/>
<circle cx="304.35" cy="269.45" r="1.55" fill="#5a0c0e" stroke="#2a0405" stroke-width="0.6"/>
<circle cx="304.35" cy="260.59" r="1.55" fill="#5a0c0e" stroke="#2a0405" stroke-width="0.6"/>
<line x1="221.60" y1="293.82" x2="221.60" y2="302.68" stroke="#333333" stroke-width="1.1"/>
<line x1="219.60" y1="293.82" x2="223.60" y2="293.82" stroke="#333333" stroke-width="1.1"/>
<line x1="219.60" y1="302.68" x2="223.60" y2="302.68" stroke="#333333" stroke-width="1.1"/>
<line x1="238.15" y1="280.97" x2="238.15" y2="300.91" stroke="#121552" stroke-width="1.1"/>
<line x1="236.15" y1="280.97" x2="240.15" y2="280.97" stroke="#121552" stroke-width="1.1"/>
<line x1="236.15" y1="300.91" x2="240.15" y2="300.91" stroke="#121552" stroke-width="1.1"/>
<line x1="254.70" y1="304.45" x2="254.70" y2="314.20" stroke="#6e0a0a" stroke-width="1.1"/>
<line x1="252.70" y1="304.45" x2="256.70" y2="304.45" stroke="#6e0a0a" stroke-width="1.1"/>
<line x1="252.70" y1="314.20" x2="256.70" y2="314.20" stroke="#6e0a0a" stroke-width="1.1"/>
<line x1="271.25" y1="303.79" x2="271.25" y2="314.86" stroke="#6e0a0a" stroke-width="1.1"/>
<line x1="269.25" y1="303.79" x2="273.25" y2="303.79" stroke="#6e0a0a" stroke-width="1.1"/>
<line x1="269.25" y1="314.86" x2="273.25" y2="314.86" stroke="#6e0a0a" stroke-width="1.1"/>
<line x1="287.80" y1="293.38" x2="287.80" y2="306.67" stroke="#220304" stroke-width="1.1"/>
<line x1="285.80" y1="293.38" x2="289.80" y2="293.38" stroke="#220304" stroke-width="1.1"/>
<line x1="285.80" y1="306.67" x2="289.80" y2="306.67" stroke="#220304" stroke-width="1.1"/>
<line x1="304.35" y1="296.92" x2="304.35" y2="310.21" stroke="#220304" stroke-width="1.1"/>
<line x1="302.35" y1="296.92" x2="306.35" y2="296.92" stroke="#220304" stroke-width="1.1"/>
<line x1="302.35" y1="310.21" x2="306.35" y2="310.21" stroke="#220304" stroke-width="1.1"/>
<circle cx="221.60" cy="238.40" r="1.55" fill="#b4b4b4" stroke="#8a8a8a" stroke-width="0.6"/>
<circle cx="238.15" cy="229.00" r="1.60" fill="#1e2170" stroke="#0e0f38" stroke-width="0.5"/>
<circle cx="238.15" cy="233.60" r="1.60" fill="#1e2170" stroke="#0e0f38" stroke-width="0.5"/>
<circle cx="238.15" cy="237.60" r="1.60" fill="#1e2170" stroke="#0e0f38" stroke-width="0.5"/>
<circle cx="287.40" cy="238.00" r="1.60" fill="#5a0c0e" stroke="#2a0405" stroke-width="0.5"/>
<circle cx="288.40" cy="238.80" r="1.60" fill="#5a0c0e" stroke="#2a0405" stroke-width="0.5"/>
<circle cx="304.35" cy="228.40" r="1.60" fill="#5a0c0e" stroke="#2a0405" stroke-width="0.5"/>
<circle cx="303.75" cy="243.60" r="1.60" fill="#5a0c0e" stroke="#2a0405" stroke-width="0.5"/>
<circle cx="304.85" cy="242.60" r="1.60" fill="#5a0c0e" stroke="#2a0405" stroke-width="0.5"/>
<line x1="210.50" y1="216.20" x2="210.50" y2="244.30" stroke="#2b2b2b" stroke-width="1.45"/>
<line x1="207.20" y1="244.30" x2="213.30" y2="244.30" stroke="#2b2b2b" stroke-width="1.2"/>
<line x1="210.50" y1="253.70" x2="210.50" y2="320.40" stroke="#2b2b2b" stroke-width="1.45"/>
<line x1="207.20" y1="253.70" x2="213.30" y2="253.70" stroke="#2b2b2b" stroke-width="1.2"/>
<line x1="206.90" y1="219.00" x2="210.50" y2="219.00" stroke="#2b2b2b" stroke-width="1.2"/>
<text x="204.20" y="222.10" font-size="8.8" text-anchor="end" fill="#222">11</text>
<line x1="206.90" y1="231.70" x2="210.50" y2="231.70" stroke="#2b2b2b" stroke-width="1.2"/>
<text x="204.20" y="234.80" font-size="8.8" text-anchor="end" fill="#222">7</text>
<text x="204.20" y="247.50" font-size="8.8" text-anchor="end" fill="#222">3</text>
<text x="204.20" y="256.70" font-size="8.8" text-anchor="end" fill="#222">3</text>
<line x1="206.90" y1="320.40" x2="210.50" y2="320.40" stroke="#2b2b2b" stroke-width="1.2"/>
<text x="204.20" y="323.50" font-size="8.8" text-anchor="end" fill="#222">0</text>
<line x1="206.90" y1="298.25" x2="210.50" y2="298.25" stroke="#2b2b2b" stroke-width="1.2"/>
<text x="204.20" y="301.35" font-size="8.8" text-anchor="end" fill="#222">1</text>
<line x1="206.90" y1="276.10" x2="210.50" y2="276.10" stroke="#2b2b2b" stroke-width="1.2"/>
<text x="204.20" y="279.20" font-size="8.8" text-anchor="end" fill="#222">2</text>
<line x1="210.30" y1="320.40" x2="315.00" y2="320.40" stroke="#2b2b2b" stroke-width="1.45"/>
<line x1="221.60" y1="320.40" x2="221.60" y2="323.20" stroke="#2b2b2b" stroke-width="1.1"/>
<line x1="238.15" y1="320.40" x2="238.15" y2="323.20" stroke="#2b2b2b" stroke-width="1.1"/>
<line x1="254.70" y1="320.40" x2="254.70" y2="323.20" stroke="#2b2b2b" stroke-width="1.1"/>
<line x1="271.25" y1="320.40" x2="271.25" y2="323.20" stroke="#2b2b2b" stroke-width="1.1"/>
<line x1="287.80" y1="320.40" x2="287.80" y2="323.20" stroke="#2b2b2b" stroke-width="1.1"/>
<line x1="304.35" y1="320.40" x2="304.35" y2="323.20" stroke="#2b2b2b" stroke-width="1.1"/>
<text x="180.70" y="269.50" font-size="8.4" text-anchor="middle" textLength="101.5" lengthAdjust="spacingAndGlyphs" transform="rotate(-90 180.7 269.5)" fill="#222" dominant-baseline="central" style="stroke-width:0.3px">GeoMFI sample/ideal median ctrl</text>
<text x="221.60" y="334.20" font-size="8.0" text-anchor="middle" fill="#222">ctrl</text>
<text x="238.15" y="334.20" font-size="8.0" text-anchor="middle" fill="#222">inf</text>
<text x="255.10" y="334.20" font-size="8.0" text-anchor="middle" fill="#2b2b2b">t<tspan font-size="5.76" dy="1.3">1</tspan></text>
<text x="271.65" y="334.20" font-size="8.0" text-anchor="middle" fill="#2b2b2b">t<tspan font-size="5.76" dy="1.3">2</tspan></text>
<line x1="255.20" y1="337.70" x2="270.45" y2="337.70" stroke="#2b2b2b" stroke-width="1.0"/>
<text x="288.20" y="334.20" font-size="8.0" text-anchor="middle" fill="#2b2b2b">t<tspan font-size="5.76" dy="1.3">1</tspan></text>
<text x="304.75" y="334.20" font-size="8.0" text-anchor="middle" fill="#2b2b2b">t<tspan font-size="5.76" dy="1.3">2</tspan></text>
<line x1="288.30" y1="337.70" x2="303.55" y2="337.70" stroke="#2b2b2b" stroke-width="1.0"/>
<text x="263.48" y="346.60" font-size="8.0" text-anchor="middle" fill="#222">sepsis</text>
<text x="296.58" y="346.60" font-size="8.0" text-anchor="middle" fill="#222">COVID-19</text>
<line x1="221.10" y1="193.50" x2="304.85" y2="193.50" stroke="#2b2b2b" stroke-width="1.0"/>
<line x1="221.60" y1="193.00" x2="221.60" y2="195.50" stroke="#2b2b2b" stroke-width="1.0"/>
<line x1="304.35" y1="193.00" x2="304.35" y2="195.50" stroke="#2b2b2b" stroke-width="1.0"/>
<circle cx="262.98" cy="190.30" r="1.00" fill="#222" stroke="none" stroke-width="0.5"/>
<line x1="221.10" y1="200.50" x2="288.30" y2="200.50" stroke="#2b2b2b" stroke-width="1.0"/>
<line x1="221.60" y1="200.00" x2="221.60" y2="202.50" stroke="#2b2b2b" stroke-width="1.0"/>
<line x1="287.80" y1="200.00" x2="287.80" y2="202.50" stroke="#2b2b2b" stroke-width="1.0"/>
<circle cx="254.70" cy="197.30" r="1.00" fill="#222" stroke="none" stroke-width="0.5"/>
<line x1="221.10" y1="207.50" x2="271.75" y2="207.50" stroke="#2b2b2b" stroke-width="1.0"/>
<line x1="221.60" y1="207.00" x2="221.60" y2="209.50" stroke="#2b2b2b" stroke-width="1.0"/>
<line x1="271.25" y1="207.00" x2="271.25" y2="209.50" stroke="#2b2b2b" stroke-width="1.0"/>
<circle cx="243.48" cy="204.30" r="1.00" fill="#222" stroke="none" stroke-width="0.5"/>
<circle cx="246.43" cy="204.30" r="1.00" fill="#222" stroke="none" stroke-width="0.5"/>
<circle cx="249.38" cy="204.30" r="1.00" fill="#222" stroke="none" stroke-width="0.5"/>
<line x1="221.10" y1="214.50" x2="255.20" y2="214.50" stroke="#2b2b2b" stroke-width="1.0"/>
<line x1="221.60" y1="214.00" x2="221.60" y2="216.50" stroke="#2b2b2b" stroke-width="1.0"/>
<line x1="254.70" y1="214.00" x2="254.70" y2="216.50" stroke="#2b2b2b" stroke-width="1.0"/>
<circle cx="233.72" cy="211.30" r="1.00" fill="#222" stroke="none" stroke-width="0.5"/>
<circle cx="236.67" cy="211.30" r="1.00" fill="#222" stroke="none" stroke-width="0.5"/>
<circle cx="239.62" cy="211.30" r="1.00" fill="#222" stroke="none" stroke-width="0.5"/>
<circle cx="242.57" cy="211.30" r="1.00" fill="#222" stroke="none" stroke-width="0.5"/>
<line x1="221.10" y1="222.50" x2="238.65" y2="222.50" stroke="#2b2b2b" stroke-width="1.0"/>
<line x1="221.60" y1="222.00" x2="221.60" y2="224.50" stroke="#2b2b2b" stroke-width="1.0"/>
<line x1="238.15" y1="222.00" x2="238.15" y2="224.50" stroke="#2b2b2b" stroke-width="1.0"/>
<text x="229.88" y="221.20" font-size="7.0" text-anchor="middle" fill="#222">ns</text>
<line x1="237.65" y1="222.50" x2="255.20" y2="222.50" stroke="#2b2b2b" stroke-width="1.0"/>
<line x1="238.15" y1="222.00" x2="238.15" y2="224.50" stroke="#2b2b2b" stroke-width="1.0"/>
<line x1="254.70" y1="222.00" x2="254.70" y2="224.50" stroke="#2b2b2b" stroke-width="1.0"/>
<circle cx="242.00" cy="219.30" r="1.00" fill="#222" stroke="none" stroke-width="0.5"/>
<circle cx="244.95" cy="219.30" r="1.00" fill="#222" stroke="none" stroke-width="0.5"/>
<circle cx="247.90" cy="219.30" r="1.00" fill="#222" stroke="none" stroke-width="0.5"/>
<circle cx="250.85" cy="219.30" r="1.00" fill="#222" stroke="none" stroke-width="0.5"/>
<line x1="254.20" y1="222.50" x2="288.30" y2="222.50" stroke="#2b2b2b" stroke-width="1.0"/>
<line x1="254.70" y1="222.00" x2="254.70" y2="224.50" stroke="#2b2b2b" stroke-width="1.0"/>
<line x1="287.80" y1="222.00" x2="287.80" y2="224.50" stroke="#2b2b2b" stroke-width="1.0"/>
<text x="271.25" y="221.20" font-size="7.0" text-anchor="middle" fill="#222">ns</text>
<text x="353.40" y="180.20" font-size="10.6" font-weight="bold" fill="#0a0a0a">F</text>
<text x="449.00" y="181.30" font-size="8.1" text-anchor="middle" fill="#222">resting, CD62P</text>
<rect x="405.40" y="313.05" width="11.20" height="7.35" fill="#f2f2f2" stroke="#8a8a8a" stroke-width="0.8"/>
<rect x="421.85" y="309.20" width="11.20" height="11.20" fill="#c9cbec" stroke="#202575" stroke-width="0.8"/>
<rect x="438.30" y="308.85" width="11.20" height="11.55" fill="#f8cfcf" stroke="#c43a33" stroke-width="0.8"/>
<rect x="454.75" y="308.15" width="11.20" height="12.25" fill="#f8cfcf" stroke="#c43a33" stroke-width="0.8"/>
<rect x="471.20" y="295.55" width="11.20" height="24.85" fill="#ead3d3" stroke="#5c0e10" stroke-width="0.8"/>
<rect x="487.65" y="302.55" width="11.20" height="17.85" fill="#ead3d3" stroke="#5c0e10" stroke-width="0.8"/>
<circle cx="411.00" cy="318.30" r="1.47" fill="#d0d0d0" stroke="#6a6a6a" stroke-width="0.8"/>
<circle cx="409.50" cy="317.14" r="1.47" fill="#d0d0d0" stroke="#6a6a6a" stroke-width="0.8"/>
<circle cx="412.36" cy="317.38" r="1.47" fill="#d0d0d0" stroke="#6a6a6a" stroke-width="0.8"/>
<circle cx="410.39" cy="314.93" r="1.47" fill="#d0d0d0" stroke="#6a6a6a" stroke-width="0.8"/>
<circle cx="413.34" cy="315.49" r="1.47" fill="#d0d0d0" stroke="#6a6a6a" stroke-width="0.8"/>
<circle cx="409.09" cy="313.86" r="1.47" fill="#d0d0d0" stroke="#6a6a6a" stroke-width="0.8"/>
<circle cx="411.91" cy="313.91" r="1.47" fill="#d0d0d0" stroke="#6a6a6a" stroke-width="0.8"/>
<circle cx="414.48" cy="314.51" r="1.47" fill="#d0d0d0" stroke="#6a6a6a" stroke-width="0.8"/>
<circle cx="407.94" cy="313.00" r="1.47" fill="#d0d0d0" stroke="#6a6a6a" stroke-width="0.8"/>
<circle cx="410.71" cy="312.24" r="1.47" fill="#d0d0d0" stroke="#6a6a6a" stroke-width="0.8"/>
<circle cx="413.43" cy="312.96" r="1.47" fill="#d0d0d0" stroke="#6a6a6a" stroke-width="0.8"/>
<circle cx="409.21" cy="310.70" r="1.47" fill="#d0d0d0" stroke="#6a6a6a" stroke-width="0.8"/>
<circle cx="412.25" cy="310.82" r="1.47" fill="#d0d0d0" stroke="#6a6a6a" stroke-width="0.8"/>
<circle cx="414.66" cy="311.06" r="1.47" fill="#d0d0d0" stroke="#6a6a6a" stroke-width="0.8"/>
<circle cx="410.52" cy="309.11" r="1.47" fill="#d0d0d0" stroke="#6a6a6a" stroke-width="0.8"/>
<circle cx="413.16" cy="308.66" r="1.47" fill="#d0d0d0" stroke="#6a6a6a" stroke-width="0.8"/>
<circle cx="408.53" cy="307.85" r="1.47" fill="#d0d0d0" stroke="#6a6a6a" stroke-width="0.8"/>
<circle cx="411.24" cy="307.97" r="1.47" fill="#d0d0d0" stroke="#6a6a6a" stroke-width="0.8"/>
<circle cx="414.00" cy="305.70" r="1.47" fill="#d0d0d0" stroke="#6a6a6a" stroke-width="0.8"/>
<circle cx="425.93" cy="316.91" r="1.55" fill="#1e2170" stroke="#0e0f38" stroke-width="0.6"/>
<circle cx="429.04" cy="316.75" r="1.55" fill="#1e2170" stroke="#0e0f38" stroke-width="0.6"/>
<circle cx="424.88" cy="314.56" r="1.55" fill="#1e2170" stroke="#0e0f38" stroke-width="0.6"/>
<circle cx="427.66" cy="314.26" r="1.55" fill="#1e2170" stroke="#0e0f38" stroke-width="0.6"/>
<circle cx="430.20" cy="314.63" r="1.55" fill="#1e2170" stroke="#0e0f38" stroke-width="0.6"/>
<circle cx="424.50" cy="311.21" r="1.55" fill="#1e2170" stroke="#0e0f38" stroke-width="0.6"/>
<circle cx="427.43" cy="311.23" r="1.55" fill="#1e2170" stroke="#0e0f38" stroke-width="0.6"/>
<circle cx="430.25" cy="311.25" r="1.55" fill="#1e2170" stroke="#0e0f38" stroke-width="0.6"/>
<circle cx="424.50" cy="307.89" r="1.55" fill="#1e2170" stroke="#0e0f38" stroke-width="0.6"/>
<circle cx="427.26" cy="308.66" r="1.55" fill="#1e2170" stroke="#0e0f38" stroke-width="0.6"/>
<circle cx="430.10" cy="308.12" r="1.55" fill="#1e2170" stroke="#0e0f38" stroke-width="0.6"/>
<circle cx="424.84" cy="303.71" r="1.55" fill="#1e2170" stroke="#0e0f38" stroke-width="0.6"/>
<circle cx="427.33" cy="304.52" r="1.55" fill="#1e2170" stroke="#0e0f38" stroke-width="0.6"/>
<circle cx="430.08" cy="304.14" r="1.55" fill="#1e2170" stroke="#0e0f38" stroke-width="0.6"/>
<circle cx="426.03" cy="300.17" r="1.55" fill="#1e2170" stroke="#0e0f38" stroke-width="0.6"/>
<circle cx="428.64" cy="299.70" r="1.55" fill="#1e2170" stroke="#0e0f38" stroke-width="0.6"/>
<circle cx="427.29" cy="296.60" r="1.55" fill="#1e2170" stroke="#0e0f38" stroke-width="0.6"/>
<circle cx="429.67" cy="296.95" r="1.55" fill="#1e2170" stroke="#0e0f38" stroke-width="0.6"/>
<circle cx="425.45" cy="294.15" r="1.55" fill="#1e2170" stroke="#0e0f38" stroke-width="0.6"/>
<circle cx="442.51" cy="320.65" r="1.55" fill="#d2221e" stroke="#80100e" stroke-width="0.6"/>
<circle cx="445.11" cy="319.62" r="1.55" fill="#d2221e" stroke="#80100e" stroke-width="0.6"/>
<circle cx="441.09" cy="316.41" r="1.55" fill="#d2221e" stroke="#80100e" stroke-width="0.6"/>
<circle cx="443.77" cy="316.41" r="1.55" fill="#d2221e" stroke="#80100e" stroke-width="0.6"/>
<circle cx="446.66" cy="316.61" r="1.55" fill="#d2221e" stroke="#80100e" stroke-width="0.6"/>
<circle cx="442.30" cy="314.56" r="1.55" fill="#d2221e" stroke="#80100e" stroke-width="0.6"/>
<circle cx="444.86" cy="314.00" r="1.55" fill="#d2221e" stroke="#80100e" stroke-width="0.6"/>
<circle cx="447.57" cy="314.13" r="1.55" fill="#d2221e" stroke="#80100e" stroke-width="0.6"/>
<circle cx="440.95" cy="310.76" r="1.55" fill="#d2221e" stroke="#80100e" stroke-width="0.6"/>
<circle cx="444.13" cy="310.68" r="1.55" fill="#d2221e" stroke="#80100e" stroke-width="0.6"/>
<circle cx="446.63" cy="310.50" r="1.55" fill="#d2221e" stroke="#80100e" stroke-width="0.6"/>
<circle cx="440.35" cy="308.31" r="1.55" fill="#d2221e" stroke="#80100e" stroke-width="0.6"/>
<circle cx="442.79" cy="307.81" r="1.55" fill="#d2221e" stroke="#80100e" stroke-width="0.6"/>
<circle cx="445.58" cy="307.85" r="1.55" fill="#d2221e" stroke="#80100e" stroke-width="0.6"/>
<circle cx="441.40" cy="304.94" r="1.55" fill="#d2221e" stroke="#80100e" stroke-width="0.6"/>
<circle cx="444.09" cy="305.42" r="1.55" fill="#d2221e" stroke="#80100e" stroke-width="0.6"/>
<circle cx="446.39" cy="304.43" r="1.55" fill="#d2221e" stroke="#80100e" stroke-width="0.6"/>
<circle cx="442.23" cy="302.10" r="1.55" fill="#d2221e" stroke="#80100e" stroke-width="0.6"/>
<circle cx="444.81" cy="301.82" r="1.55" fill="#d2221e" stroke="#80100e" stroke-width="0.6"/>
<circle cx="443.48" cy="298.45" r="1.55" fill="#d2221e" stroke="#80100e" stroke-width="0.6"/>
<circle cx="446.43" cy="299.56" r="1.55" fill="#d2221e" stroke="#80100e" stroke-width="0.6"/>
<circle cx="443.90" cy="294.85" r="1.55" fill="#d2221e" stroke="#80100e" stroke-width="0.6"/>
<circle cx="443.90" cy="291.00" r="1.55" fill="#d2221e" stroke="#80100e" stroke-width="0.6"/>
<circle cx="443.90" cy="275.95" r="1.55" fill="#d2221e" stroke="#80100e" stroke-width="0.6"/>
<circle cx="443.90" cy="253.20" r="1.55" fill="#d2221e" stroke="#80100e" stroke-width="0.6"/>
<circle cx="459.00" cy="318.59" r="1.55" fill="#d2221e" stroke="#80100e" stroke-width="0.6"/>
<circle cx="461.93" cy="319.22" r="1.55" fill="#d2221e" stroke="#80100e" stroke-width="0.6"/>
<circle cx="459.06" cy="315.42" r="1.55" fill="#d2221e" stroke="#80100e" stroke-width="0.6"/>
<circle cx="461.69" cy="315.47" r="1.55" fill="#d2221e" stroke="#80100e" stroke-width="0.6"/>
<circle cx="457.39" cy="311.01" r="1.55" fill="#d2221e" stroke="#80100e" stroke-width="0.6"/>
<circle cx="460.22" cy="311.29" r="1.55" fill="#d2221e" stroke="#80100e" stroke-width="0.6"/>
<circle cx="463.15" cy="311.45" r="1.55" fill="#d2221e" stroke="#80100e" stroke-width="0.6"/>
<circle cx="458.80" cy="306.86" r="1.55" fill="#d2221e" stroke="#80100e" stroke-width="0.6"/>
<circle cx="461.78" cy="306.80" r="1.55" fill="#d2221e" stroke="#80100e" stroke-width="0.6"/>
<circle cx="457.43" cy="303.14" r="1.55" fill="#d2221e" stroke="#80100e" stroke-width="0.6"/>
<circle cx="460.36" cy="302.38" r="1.55" fill="#d2221e" stroke="#80100e" stroke-width="0.6"/>
<circle cx="463.02" cy="303.00" r="1.55" fill="#d2221e" stroke="#80100e" stroke-width="0.6"/>
<circle cx="459.04" cy="298.72" r="1.55" fill="#d2221e" stroke="#80100e" stroke-width="0.6"/>
<circle cx="461.61" cy="298.46" r="1.55" fill="#d2221e" stroke="#80100e" stroke-width="0.6"/>
<circle cx="460.35" cy="294.15" r="1.55" fill="#d2221e" stroke="#80100e" stroke-width="0.6"/>
<circle cx="459.06" cy="289.45" r="1.55" fill="#d2221e" stroke="#80100e" stroke-width="0.6"/>
<circle cx="461.70" cy="289.36" r="1.55" fill="#d2221e" stroke="#80100e" stroke-width="0.6"/>
<circle cx="475.31" cy="316.58" r="1.55" fill="#5a0c0e" stroke="#2a0405" stroke-width="0.6"/>
<circle cx="478.27" cy="317.45" r="1.55" fill="#5a0c0e" stroke="#2a0405" stroke-width="0.6"/>
<circle cx="473.83" cy="312.82" r="1.55" fill="#5a0c0e" stroke="#2a0405" stroke-width="0.6"/>
<circle cx="476.89" cy="313.05" r="1.55" fill="#5a0c0e" stroke="#2a0405" stroke-width="0.6"/>
<circle cx="479.41" cy="312.95" r="1.55" fill="#5a0c0e" stroke="#2a0405" stroke-width="0.6"/>
<circle cx="475.65" cy="309.05" r="1.55" fill="#5a0c0e" stroke="#2a0405" stroke-width="0.6"/>
<circle cx="477.93" cy="308.52" r="1.55" fill="#5a0c0e" stroke="#2a0405" stroke-width="0.6"/>
<circle cx="475.40" cy="304.81" r="1.55" fill="#5a0c0e" stroke="#2a0405" stroke-width="0.6"/>
<circle cx="478.01" cy="305.22" r="1.55" fill="#5a0c0e" stroke="#2a0405" stroke-width="0.6"/>
<circle cx="474.19" cy="301.51" r="1.55" fill="#5a0c0e" stroke="#2a0405" stroke-width="0.6"/>
<circle cx="476.65" cy="301.16" r="1.55" fill="#5a0c0e" stroke="#2a0405" stroke-width="0.6"/>
<circle cx="479.43" cy="301.71" r="1.55" fill="#5a0c0e" stroke="#2a0405" stroke-width="0.6"/>
<circle cx="475.30" cy="297.33" r="1.55" fill="#5a0c0e" stroke="#2a0405" stroke-width="0.6"/>
<circle cx="478.29" cy="296.62" r="1.55" fill="#5a0c0e" stroke="#2a0405" stroke-width="0.6"/>
<circle cx="474.30" cy="292.85" r="1.55" fill="#5a0c0e" stroke="#2a0405" stroke-width="0.6"/>
<circle cx="476.64" cy="293.09" r="1.55" fill="#5a0c0e" stroke="#2a0405" stroke-width="0.6"/>
<circle cx="479.49" cy="292.77" r="1.55" fill="#5a0c0e" stroke="#2a0405" stroke-width="0.6"/>
<circle cx="475.66" cy="289.10" r="1.55" fill="#5a0c0e" stroke="#2a0405" stroke-width="0.6"/>
<circle cx="478.11" cy="288.48" r="1.55" fill="#5a0c0e" stroke="#2a0405" stroke-width="0.6"/>
<circle cx="474.31" cy="284.71" r="1.55" fill="#5a0c0e" stroke="#2a0405" stroke-width="0.6"/>
<circle cx="476.58" cy="284.62" r="1.55" fill="#5a0c0e" stroke="#2a0405" stroke-width="0.6"/>
<circle cx="479.47" cy="284.52" r="1.55" fill="#5a0c0e" stroke="#2a0405" stroke-width="0.6"/>
<circle cx="475.63" cy="281.33" r="1.55" fill="#5a0c0e" stroke="#2a0405" stroke-width="0.6"/>
<circle cx="478.41" cy="281.13" r="1.55" fill="#5a0c0e" stroke="#2a0405" stroke-width="0.6"/>
<circle cx="475.35" cy="277.52" r="1.55" fill="#5a0c0e" stroke="#2a0405" stroke-width="0.6"/>
<circle cx="478.38" cy="276.62" r="1.55" fill="#5a0c0e" stroke="#2a0405" stroke-width="0.6"/>
<circle cx="476.80" cy="273.15" r="1.55" fill="#5a0c0e" stroke="#2a0405" stroke-width="0.6"/>
<circle cx="476.80" cy="260.90" r="1.55" fill="#5a0c0e" stroke="#2a0405" stroke-width="0.6"/>
<circle cx="476.80" cy="256.00" r="1.55" fill="#5a0c0e" stroke="#2a0405" stroke-width="0.6"/>
<circle cx="493.25" cy="320.05" r="1.55" fill="#5a0c0e" stroke="#2a0405" stroke-width="0.6"/>
<circle cx="491.80" cy="315.70" r="1.55" fill="#5a0c0e" stroke="#2a0405" stroke-width="0.6"/>
<circle cx="494.37" cy="315.45" r="1.55" fill="#5a0c0e" stroke="#2a0405" stroke-width="0.6"/>
<circle cx="490.45" cy="311.74" r="1.55" fill="#5a0c0e" stroke="#2a0405" stroke-width="0.6"/>
<circle cx="493.06" cy="312.55" r="1.55" fill="#5a0c0e" stroke="#2a0405" stroke-width="0.6"/>
<circle cx="495.83" cy="312.56" r="1.55" fill="#5a0c0e" stroke="#2a0405" stroke-width="0.6"/>
<circle cx="492.05" cy="307.98" r="1.55" fill="#5a0c0e" stroke="#2a0405" stroke-width="0.6"/>
<circle cx="494.58" cy="308.54" r="1.55" fill="#5a0c0e" stroke="#2a0405" stroke-width="0.6"/>
<circle cx="491.87" cy="303.41" r="1.55" fill="#5a0c0e" stroke="#2a0405" stroke-width="0.6"/>
<circle cx="494.82" cy="303.80" r="1.55" fill="#5a0c0e" stroke="#2a0405" stroke-width="0.6"/>
<circle cx="492.82" cy="300.78" r="1.55" fill="#5a0c0e" stroke="#2a0405" stroke-width="0.6"/>
<circle cx="495.38" cy="301.63" r="1.55" fill="#5a0c0e" stroke="#2a0405" stroke-width="0.6"/>
<circle cx="492.04" cy="296.84" r="1.55" fill="#5a0c0e" stroke="#2a0405" stroke-width="0.6"/>
<circle cx="494.38" cy="297.27" r="1.55" fill="#5a0c0e" stroke="#2a0405" stroke-width="0.6"/>
<circle cx="493.25" cy="292.05" r="1.55" fill="#5a0c0e" stroke="#2a0405" stroke-width="0.6"/>
<circle cx="490.73" cy="287.33" r="1.55" fill="#5a0c0e" stroke="#2a0405" stroke-width="0.6"/>
<circle cx="493.37" cy="287.56" r="1.55" fill="#5a0c0e" stroke="#2a0405" stroke-width="0.6"/>
<circle cx="495.90" cy="288.33" r="1.55" fill="#5a0c0e" stroke="#2a0405" stroke-width="0.6"/>
<circle cx="492.11" cy="283.73" r="1.55" fill="#5a0c0e" stroke="#2a0405" stroke-width="0.6"/>
<circle cx="494.50" cy="284.14" r="1.55" fill="#5a0c0e" stroke="#2a0405" stroke-width="0.6"/>
<circle cx="490.79" cy="281.11" r="1.55" fill="#5a0c0e" stroke="#2a0405" stroke-width="0.6"/>
<circle cx="493.37" cy="280.58" r="1.55" fill="#5a0c0e" stroke="#2a0405" stroke-width="0.6"/>
<circle cx="493.25" cy="273.85" r="1.55" fill="#5a0c0e" stroke="#2a0405" stroke-width="0.6"/>
<circle cx="493.25" cy="227.65" r="1.55" fill="#5a0c0e" stroke="#2a0405" stroke-width="0.6"/>
<line x1="411.00" y1="311.65" x2="411.00" y2="314.45" stroke="#333333" stroke-width="1.1"/>
<line x1="409.00" y1="311.65" x2="413.00" y2="311.65" stroke="#333333" stroke-width="1.1"/>
<line x1="409.00" y1="314.45" x2="413.00" y2="314.45" stroke="#333333" stroke-width="1.1"/>
<line x1="427.45" y1="306.40" x2="427.45" y2="312.00" stroke="#121552" stroke-width="1.1"/>
<line x1="425.45" y1="306.40" x2="429.45" y2="306.40" stroke="#121552" stroke-width="1.1"/>
<line x1="425.45" y1="312.00" x2="429.45" y2="312.00" stroke="#121552" stroke-width="1.1"/>
<line x1="443.90" y1="305.35" x2="443.90" y2="312.35" stroke="#6e0a0a" stroke-width="1.1"/>
<line x1="441.90" y1="305.35" x2="445.90" y2="305.35" stroke="#6e0a0a" stroke-width="1.1"/>
<line x1="441.90" y1="312.35" x2="445.90" y2="312.35" stroke="#6e0a0a" stroke-width="1.1"/>
<line x1="460.35" y1="304.65" x2="460.35" y2="311.65" stroke="#6e0a0a" stroke-width="1.1"/>
<line x1="458.35" y1="304.65" x2="462.35" y2="304.65" stroke="#6e0a0a" stroke-width="1.1"/>
<line x1="458.35" y1="311.65" x2="462.35" y2="311.65" stroke="#6e0a0a" stroke-width="1.1"/>
<line x1="476.80" y1="289.95" x2="476.80" y2="301.15" stroke="#220304" stroke-width="1.1"/>
<line x1="474.80" y1="289.95" x2="478.80" y2="289.95" stroke="#220304" stroke-width="1.1"/>
<line x1="474.80" y1="301.15" x2="478.80" y2="301.15" stroke="#220304" stroke-width="1.1"/>
<line x1="493.25" y1="296.95" x2="493.25" y2="308.15" stroke="#220304" stroke-width="1.1"/>
<line x1="491.25" y1="296.95" x2="495.25" y2="296.95" stroke="#220304" stroke-width="1.1"/>
<line x1="491.25" y1="308.15" x2="495.25" y2="308.15" stroke="#220304" stroke-width="1.1"/>
<line x1="399.40" y1="212.60" x2="399.40" y2="320.40" stroke="#2b2b2b" stroke-width="1.45"/>
<line x1="395.60" y1="320.40" x2="399.40" y2="320.40" stroke="#2b2b2b" stroke-width="1.2"/>
<text x="393.10" y="323.50" font-size="8.8" text-anchor="end" fill="#222">0</text>
<line x1="395.60" y1="285.40" x2="399.40" y2="285.40" stroke="#2b2b2b" stroke-width="1.2"/>
<text x="393.10" y="288.50" font-size="8.8" text-anchor="end" fill="#222">10</text>
<line x1="395.60" y1="250.40" x2="399.40" y2="250.40" stroke="#2b2b2b" stroke-width="1.2"/>
<text x="393.10" y="253.50" font-size="8.8" text-anchor="end" fill="#222">20</text>
<line x1="395.60" y1="215.40" x2="399.40" y2="215.40" stroke="#2b2b2b" stroke-width="1.2"/>
<text x="393.10" y="218.50" font-size="8.8" text-anchor="end" fill="#222">30</text>
<line x1="398.70" y1="320.40" x2="504.00" y2="320.40" stroke="#2b2b2b" stroke-width="1.45"/>
<line x1="411.00" y1="320.40" x2="411.00" y2="323.20" stroke="#2b2b2b" stroke-width="1.1"/>
<line x1="427.45" y1="320.40" x2="427.45" y2="323.20" stroke="#2b2b2b" stroke-width="1.1"/>
<line x1="443.90" y1="320.40" x2="443.90" y2="323.20" stroke="#2b2b2b" stroke-width="1.1"/>
<line x1="460.35" y1="320.40" x2="460.35" y2="323.20" stroke="#2b2b2b" stroke-width="1.1"/>
<line x1="476.80" y1="320.40" x2="476.80" y2="323.20" stroke="#2b2b2b" stroke-width="1.1"/>
<line x1="493.25" y1="320.40" x2="493.25" y2="323.20" stroke="#2b2b2b" stroke-width="1.1"/>
<text x="372.50" y="268.50" font-size="8.4" text-anchor="middle" textLength="80" lengthAdjust="spacingAndGlyphs" transform="rotate(-90 372.5 268.5)" fill="#222" dominant-baseline="central" style="stroke-width:0.3px">CD62P [% over threshold]</text>
<text x="411.00" y="333.00" font-size="8.0" text-anchor="middle" fill="#222">ctrl</text>
<text x="427.45" y="333.00" font-size="8.0" text-anchor="middle" fill="#222">inf</text>
<text x="444.30" y="333.00" font-size="8.0" text-anchor="middle" fill="#2b2b2b">t<tspan font-size="5.76" dy="1.3">1</tspan></text>
<text x="460.75" y="333.00" font-size="8.0" text-anchor="middle" fill="#2b2b2b">t<tspan font-size="5.76" dy="1.3">2</tspan></text>
<line x1="444.40" y1="336.40" x2="459.55" y2="336.40" stroke="#2b2b2b" stroke-width="1.0"/>
<text x="477.20" y="333.00" font-size="8.0" text-anchor="middle" fill="#2b2b2b">t<tspan font-size="5.76" dy="1.3">1</tspan></text>
<text x="493.65" y="333.00" font-size="8.0" text-anchor="middle" fill="#2b2b2b">t<tspan font-size="5.76" dy="1.3">2</tspan></text>
<line x1="477.30" y1="336.40" x2="492.45" y2="336.40" stroke="#2b2b2b" stroke-width="1.0"/>
<text x="452.12" y="345.30" font-size="8.0" text-anchor="middle" fill="#222">sepsis</text>
<text x="485.02" y="345.30" font-size="8.0" text-anchor="middle" fill="#222">COVID-19</text>
<line x1="410.50" y1="192.50" x2="493.75" y2="192.50" stroke="#2b2b2b" stroke-width="1.0"/>
<line x1="411.00" y1="192.00" x2="411.00" y2="194.50" stroke="#2b2b2b" stroke-width="1.0"/>
<line x1="493.25" y1="192.00" x2="493.25" y2="194.50" stroke="#2b2b2b" stroke-width="1.0"/>
<circle cx="447.70" cy="189.30" r="1.00" fill="#222" stroke="none" stroke-width="0.5"/>
<circle cx="450.65" cy="189.30" r="1.00" fill="#222" stroke="none" stroke-width="0.5"/>
<circle cx="453.60" cy="189.30" r="1.00" fill="#222" stroke="none" stroke-width="0.5"/>
<circle cx="456.55" cy="189.30" r="1.00" fill="#222" stroke="none" stroke-width="0.5"/>
<line x1="410.50" y1="200.50" x2="477.30" y2="200.50" stroke="#2b2b2b" stroke-width="1.0"/>
<line x1="411.00" y1="200.00" x2="411.00" y2="202.50" stroke="#2b2b2b" stroke-width="1.0"/>
<line x1="476.80" y1="200.00" x2="476.80" y2="202.50" stroke="#2b2b2b" stroke-width="1.0"/>
<circle cx="439.47" cy="197.30" r="1.00" fill="#222" stroke="none" stroke-width="0.5"/>
<circle cx="442.42" cy="197.30" r="1.00" fill="#222" stroke="none" stroke-width="0.5"/>
<circle cx="445.38" cy="197.30" r="1.00" fill="#222" stroke="none" stroke-width="0.5"/>
<circle cx="448.32" cy="197.30" r="1.00" fill="#222" stroke="none" stroke-width="0.5"/>
<line x1="410.50" y1="207.50" x2="460.85" y2="207.50" stroke="#2b2b2b" stroke-width="1.0"/>
<line x1="411.00" y1="207.00" x2="411.00" y2="209.50" stroke="#2b2b2b" stroke-width="1.0"/>
<line x1="460.35" y1="207.00" x2="460.35" y2="209.50" stroke="#2b2b2b" stroke-width="1.0"/>
<circle cx="434.20" cy="204.30" r="1.00" fill="#222" stroke="none" stroke-width="0.5"/>
<circle cx="437.15" cy="204.30" r="1.00" fill="#222" stroke="none" stroke-width="0.5"/>
<line x1="410.50" y1="213.50" x2="444.40" y2="213.50" stroke="#2b2b2b" stroke-width="1.0"/>
<line x1="411.00" y1="213.00" x2="411.00" y2="215.50" stroke="#2b2b2b" stroke-width="1.0"/>
<line x1="443.90" y1="213.00" x2="443.90" y2="215.50" stroke="#2b2b2b" stroke-width="1.0"/>
<circle cx="425.97" cy="210.30" r="1.00" fill="#222" stroke="none" stroke-width="0.5"/>
<circle cx="428.93" cy="210.30" r="1.00" fill="#222" stroke="none" stroke-width="0.5"/>
<line x1="410.50" y1="222.50" x2="427.95" y2="222.50" stroke="#2b2b2b" stroke-width="1.0"/>
<line x1="411.00" y1="222.00" x2="411.00" y2="224.50" stroke="#2b2b2b" stroke-width="1.0"/>
<line x1="427.45" y1="222.00" x2="427.45" y2="224.50" stroke="#2b2b2b" stroke-width="1.0"/>
<circle cx="417.75" cy="219.30" r="1.00" fill="#222" stroke="none" stroke-width="0.5"/>
<circle cx="420.70" cy="219.30" r="1.00" fill="#222" stroke="none" stroke-width="0.5"/>
<line x1="426.95" y1="222.50" x2="444.40" y2="222.50" stroke="#2b2b2b" stroke-width="1.0"/>
<line x1="427.45" y1="222.00" x2="427.45" y2="224.50" stroke="#2b2b2b" stroke-width="1.0"/>
<line x1="443.90" y1="222.00" x2="443.90" y2="224.50" stroke="#2b2b2b" stroke-width="1.0"/>
<text x="435.67" y="221.20" font-size="7.0" text-anchor="middle" fill="#222">ns</text>
<line x1="443.40" y1="222.50" x2="477.30" y2="222.50" stroke="#2b2b2b" stroke-width="1.0"/>
<line x1="443.90" y1="222.00" x2="443.90" y2="224.50" stroke="#2b2b2b" stroke-width="1.0"/>
<line x1="476.80" y1="222.00" x2="476.80" y2="224.50" stroke="#2b2b2b" stroke-width="1.0"/>
<circle cx="457.40" cy="219.30" r="1.00" fill="#222" stroke="none" stroke-width="0.5"/>
<circle cx="460.35" cy="219.30" r="1.00" fill="#222" stroke="none" stroke-width="0.5"/>
<circle cx="463.30" cy="219.30" r="1.00" fill="#222" stroke="none" stroke-width="0.5"/>
<text x="0.40" y="374.10" font-size="10.6" font-weight="bold" fill="#0a0a0a">G</text>
<text x="99.40" y="375.30" font-size="8.1" text-anchor="middle" fill="#222">resting, CD62P</text>
<rect x="52.20" y="498.90" width="11.20" height="24.70" fill="#f2f2f2" stroke="#8a8a8a" stroke-width="0.8"/>
<rect x="68.75" y="490.84" width="11.20" height="32.76" fill="#c9cbec" stroke="#202575" stroke-width="0.8"/>
<rect x="85.30" y="487.56" width="11.20" height="36.04" fill="#f8cfcf" stroke="#c43a33" stroke-width="0.8"/>
<rect x="101.85" y="490.08" width="11.20" height="33.52" fill="#f8cfcf" stroke="#c43a33" stroke-width="0.8"/>
<rect x="118.40" y="481.01" width="11.20" height="42.59" fill="#ead3d3" stroke="#5c0e10" stroke-width="0.8"/>
<rect x="134.95" y="490.84" width="11.20" height="32.76" fill="#ead3d3" stroke="#5c0e10" stroke-width="0.8"/>
<circle cx="57.80" cy="519.82" r="1.47" fill="#d0d0d0" stroke="#6a6a6a" stroke-width="0.8"/>
<circle cx="57.80" cy="514.78" r="1.47" fill="#d0d0d0" stroke="#6a6a6a" stroke-width="0.8"/>
<circle cx="57.80" cy="511.00" r="1.47" fill="#d0d0d0" stroke="#6a6a6a" stroke-width="0.8"/>
<circle cx="59.80" cy="508.48" r="1.47" fill="#d0d0d0" stroke="#6a6a6a" stroke-width="0.8"/>
<circle cx="57.80" cy="505.96" r="1.47" fill="#d0d0d0" stroke="#6a6a6a" stroke-width="0.8"/>
<circle cx="60.80" cy="504.70" r="1.47" fill="#d0d0d0" stroke="#6a6a6a" stroke-width="0.8"/>
<circle cx="55.80" cy="503.44" r="1.47" fill="#d0d0d0" stroke="#6a6a6a" stroke-width="0.8"/>
<circle cx="58.80" cy="502.18" r="1.47" fill="#d0d0d0" stroke="#6a6a6a" stroke-width="0.8"/>
<circle cx="57.40" cy="500.62" r="1.47" fill="#d0d0d0" stroke="#6a6a6a" stroke-width="0.8"/>
<circle cx="60.38" cy="500.91" r="1.47" fill="#d0d0d0" stroke="#6a6a6a" stroke-width="0.8"/>
<circle cx="56.09" cy="499.28" r="1.47" fill="#d0d0d0" stroke="#6a6a6a" stroke-width="0.8"/>
<circle cx="58.83" cy="499.95" r="1.47" fill="#d0d0d0" stroke="#6a6a6a" stroke-width="0.8"/>
<circle cx="54.63" cy="498.73" r="1.47" fill="#d0d0d0" stroke="#6a6a6a" stroke-width="0.8"/>
<circle cx="57.21" cy="498.19" r="1.47" fill="#d0d0d0" stroke="#6a6a6a" stroke-width="0.8"/>
<circle cx="60.17" cy="498.23" r="1.47" fill="#d0d0d0" stroke="#6a6a6a" stroke-width="0.8"/>
<circle cx="62.80" cy="497.14" r="1.47" fill="#d0d0d0" stroke="#6a6a6a" stroke-width="0.8"/>
<circle cx="56.06" cy="495.52" r="1.47" fill="#d0d0d0" stroke="#6a6a6a" stroke-width="0.8"/>
<circle cx="58.45" cy="495.58" r="1.47" fill="#d0d0d0" stroke="#6a6a6a" stroke-width="0.8"/>
<circle cx="52.80" cy="494.62" r="1.47" fill="#d0d0d0" stroke="#6a6a6a" stroke-width="0.8"/>
<circle cx="60.80" cy="493.36" r="1.47" fill="#d0d0d0" stroke="#6a6a6a" stroke-width="0.8"/>
<circle cx="57.80" cy="490.84" r="1.47" fill="#d0d0d0" stroke="#6a6a6a" stroke-width="0.8"/>
<circle cx="59.80" cy="488.32" r="1.47" fill="#d0d0d0" stroke="#6a6a6a" stroke-width="0.8"/>
<circle cx="57.80" cy="485.80" r="1.47" fill="#d0d0d0" stroke="#6a6a6a" stroke-width="0.8"/>
<circle cx="59.80" cy="483.28" r="1.47" fill="#d0d0d0" stroke="#6a6a6a" stroke-width="0.8"/>
<circle cx="57.80" cy="479.50" r="1.47" fill="#d0d0d0" stroke="#6a6a6a" stroke-width="0.8"/>
<circle cx="57.80" cy="475.72" r="1.47" fill="#d0d0d0" stroke="#6a6a6a" stroke-width="0.8"/>
<circle cx="59.80" cy="473.20" r="1.47" fill="#d0d0d0" stroke="#6a6a6a" stroke-width="0.8"/>
<circle cx="57.80" cy="470.68" r="1.47" fill="#d0d0d0" stroke="#6a6a6a" stroke-width="0.8"/>
<circle cx="59.80" cy="468.16" r="1.47" fill="#d0d0d0" stroke="#6a6a6a" stroke-width="0.8"/>
<circle cx="74.35" cy="518.56" r="1.55" fill="#1e2170" stroke="#0e0f38" stroke-width="0.6"/>
<circle cx="74.35" cy="500.92" r="1.55" fill="#1e2170" stroke="#0e0f38" stroke-width="0.6"/>
<circle cx="77.35" cy="499.66" r="1.55" fill="#1e2170" stroke="#0e0f38" stroke-width="0.6"/>
<circle cx="72.35" cy="498.40" r="1.55" fill="#1e2170" stroke="#0e0f38" stroke-width="0.6"/>
<circle cx="75.35" cy="497.14" r="1.55" fill="#1e2170" stroke="#0e0f38" stroke-width="0.6"/>
<circle cx="78.35" cy="495.88" r="1.55" fill="#1e2170" stroke="#0e0f38" stroke-width="0.6"/>
<circle cx="73.35" cy="494.62" r="1.55" fill="#1e2170" stroke="#0e0f38" stroke-width="0.6"/>
<circle cx="71.80" cy="493.56" r="1.55" fill="#1e2170" stroke="#0e0f38" stroke-width="0.6"/>
<circle cx="74.61" cy="493.77" r="1.55" fill="#1e2170" stroke="#0e0f38" stroke-width="0.6"/>
<circle cx="73.42" cy="492.18" r="1.55" fill="#1e2170" stroke="#0e0f38" stroke-width="0.6"/>
<circle cx="76.06" cy="492.39" r="1.55" fill="#1e2170" stroke="#0e0f38" stroke-width="0.6"/>
<circle cx="71.86" cy="490.54" r="1.55" fill="#1e2170" stroke="#0e0f38" stroke-width="0.6"/>
<circle cx="74.91" cy="490.42" r="1.55" fill="#1e2170" stroke="#0e0f38" stroke-width="0.6"/>
<circle cx="77.85" cy="489.58" r="1.55" fill="#1e2170" stroke="#0e0f38" stroke-width="0.6"/>
<circle cx="69.35" cy="488.32" r="1.55" fill="#1e2170" stroke="#0e0f38" stroke-width="0.6"/>
<circle cx="74.35" cy="487.06" r="1.55" fill="#1e2170" stroke="#0e0f38" stroke-width="0.6"/>
<circle cx="77.35" cy="485.80" r="1.55" fill="#1e2170" stroke="#0e0f38" stroke-width="0.6"/>
<circle cx="74.35" cy="483.28" r="1.55" fill="#1e2170" stroke="#0e0f38" stroke-width="0.6"/>
<circle cx="76.35" cy="480.76" r="1.55" fill="#1e2170" stroke="#0e0f38" stroke-width="0.6"/>
<circle cx="74.35" cy="473.70" r="1.55" fill="#1e2170" stroke="#0e0f38" stroke-width="0.6"/>
<circle cx="76.35" cy="471.18" r="1.55" fill="#1e2170" stroke="#0e0f38" stroke-width="0.6"/>
<circle cx="90.90" cy="518.56" r="1.55" fill="#d2221e" stroke="#80100e" stroke-width="0.6"/>
<circle cx="90.90" cy="498.40" r="1.55" fill="#d2221e" stroke="#80100e" stroke-width="0.6"/>
<circle cx="93.90" cy="497.14" r="1.55" fill="#d2221e" stroke="#80100e" stroke-width="0.6"/>
<circle cx="88.90" cy="495.88" r="1.55" fill="#d2221e" stroke="#80100e" stroke-width="0.6"/>
<circle cx="91.90" cy="494.62" r="1.55" fill="#d2221e" stroke="#80100e" stroke-width="0.6"/>
<circle cx="90.31" cy="493.86" r="1.55" fill="#d2221e" stroke="#80100e" stroke-width="0.6"/>
<circle cx="93.07" cy="493.11" r="1.55" fill="#d2221e" stroke="#80100e" stroke-width="0.6"/>
<circle cx="87.40" cy="492.10" r="1.55" fill="#d2221e" stroke="#80100e" stroke-width="0.6"/>
<circle cx="89.58" cy="491.41" r="1.55" fill="#d2221e" stroke="#80100e" stroke-width="0.6"/>
<circle cx="92.20" cy="491.36" r="1.55" fill="#d2221e" stroke="#80100e" stroke-width="0.6"/>
<circle cx="90.51" cy="490.02" r="1.55" fill="#d2221e" stroke="#80100e" stroke-width="0.6"/>
<circle cx="93.40" cy="489.29" r="1.55" fill="#d2221e" stroke="#80100e" stroke-width="0.6"/>
<circle cx="88.84" cy="488.85" r="1.55" fill="#d2221e" stroke="#80100e" stroke-width="0.6"/>
<circle cx="91.82" cy="488.44" r="1.55" fill="#d2221e" stroke="#80100e" stroke-width="0.6"/>
<circle cx="90.47" cy="486.72" r="1.55" fill="#d2221e" stroke="#80100e" stroke-width="0.6"/>
<circle cx="93.12" cy="486.63" r="1.55" fill="#d2221e" stroke="#80100e" stroke-width="0.6"/>
<circle cx="87.40" cy="485.80" r="1.55" fill="#d2221e" stroke="#80100e" stroke-width="0.6"/>
<circle cx="90.90" cy="483.28" r="1.55" fill="#d2221e" stroke="#80100e" stroke-width="0.6"/>
<circle cx="93.90" cy="482.02" r="1.55" fill="#d2221e" stroke="#80100e" stroke-width="0.6"/>
<circle cx="88.90" cy="480.76" r="1.55" fill="#d2221e" stroke="#80100e" stroke-width="0.6"/>
<circle cx="91.90" cy="479.50" r="1.55" fill="#d2221e" stroke="#80100e" stroke-width="0.6"/>
<circle cx="94.90" cy="478.24" r="1.55" fill="#d2221e" stroke="#80100e" stroke-width="0.6"/>
<circle cx="90.90" cy="475.72" r="1.55" fill="#d2221e" stroke="#80100e" stroke-width="0.6"/>
<circle cx="90.90" cy="471.94" r="1.55" fill="#d2221e" stroke="#80100e" stroke-width="0.6"/>
<circle cx="90.90" cy="463.12" r="1.55" fill="#d2221e" stroke="#80100e" stroke-width="0.6"/>
<circle cx="92.90" cy="460.60" r="1.55" fill="#d2221e" stroke="#80100e" stroke-width="0.6"/>
<circle cx="89.90" cy="459.34" r="1.55" fill="#d2221e" stroke="#80100e" stroke-width="0.6"/>
<circle cx="107.45" cy="500.92" r="1.55" fill="#d2221e" stroke="#80100e" stroke-width="0.6"/>
<circle cx="110.45" cy="499.66" r="1.55" fill="#d2221e" stroke="#80100e" stroke-width="0.6"/>
<circle cx="105.45" cy="498.40" r="1.55" fill="#d2221e" stroke="#80100e" stroke-width="0.6"/>
<circle cx="108.45" cy="497.14" r="1.55" fill="#d2221e" stroke="#80100e" stroke-width="0.6"/>
<circle cx="111.45" cy="495.88" r="1.55" fill="#d2221e" stroke="#80100e" stroke-width="0.6"/>
<circle cx="106.45" cy="494.62" r="1.55" fill="#d2221e" stroke="#80100e" stroke-width="0.6"/>
<circle cx="104.92" cy="492.87" r="1.55" fill="#d2221e" stroke="#80100e" stroke-width="0.6"/>
<circle cx="107.77" cy="493.59" r="1.55" fill="#d2221e" stroke="#80100e" stroke-width="0.6"/>
<circle cx="110.45" cy="492.10" r="1.55" fill="#d2221e" stroke="#80100e" stroke-width="0.6"/>
<circle cx="102.45" cy="490.84" r="1.55" fill="#d2221e" stroke="#80100e" stroke-width="0.6"/>
<circle cx="107.45" cy="489.58" r="1.55" fill="#d2221e" stroke="#80100e" stroke-width="0.6"/>
<circle cx="110.45" cy="488.32" r="1.55" fill="#d2221e" stroke="#80100e" stroke-width="0.6"/>
<circle cx="105.45" cy="487.06" r="1.55" fill="#d2221e" stroke="#80100e" stroke-width="0.6"/>
<circle cx="108.45" cy="485.80" r="1.55" fill="#d2221e" stroke="#80100e" stroke-width="0.6"/>
<circle cx="107.45" cy="479.50" r="1.55" fill="#d2221e" stroke="#80100e" stroke-width="0.6"/>
<circle cx="107.45" cy="475.72" r="1.55" fill="#d2221e" stroke="#80100e" stroke-width="0.6"/>
<circle cx="109.45" cy="473.20" r="1.55" fill="#d2221e" stroke="#80100e" stroke-width="0.6"/>
<circle cx="107.45" cy="468.16" r="1.55" fill="#d2221e" stroke="#80100e" stroke-width="0.6"/>
<circle cx="106.20" cy="464.02" r="1.55" fill="#d2221e" stroke="#80100e" stroke-width="0.6"/>
<circle cx="108.57" cy="464.02" r="1.55" fill="#d2221e" stroke="#80100e" stroke-width="0.6"/>
<circle cx="124.00" cy="519.06" r="1.55" fill="#5a0c0e" stroke="#2a0405" stroke-width="0.6"/>
<circle cx="122.80" cy="518.47" r="1.55" fill="#5a0c0e" stroke="#2a0405" stroke-width="0.6"/>
<circle cx="125.56" cy="518.45" r="1.55" fill="#5a0c0e" stroke="#2a0405" stroke-width="0.6"/>
<circle cx="128.50" cy="517.30" r="1.55" fill="#5a0c0e" stroke="#2a0405" stroke-width="0.6"/>
<circle cx="124.00" cy="503.44" r="1.55" fill="#5a0c0e" stroke="#2a0405" stroke-width="0.6"/>
<circle cx="126.00" cy="500.92" r="1.55" fill="#5a0c0e" stroke="#2a0405" stroke-width="0.6"/>
<circle cx="124.00" cy="497.14" r="1.55" fill="#5a0c0e" stroke="#2a0405" stroke-width="0.6"/>
<circle cx="127.00" cy="495.88" r="1.55" fill="#5a0c0e" stroke="#2a0405" stroke-width="0.6"/>
<circle cx="124.00" cy="493.36" r="1.55" fill="#5a0c0e" stroke="#2a0405" stroke-width="0.6"/>
<circle cx="126.00" cy="490.84" r="1.55" fill="#5a0c0e" stroke="#2a0405" stroke-width="0.6"/>
<circle cx="124.00" cy="488.32" r="1.55" fill="#5a0c0e" stroke="#2a0405" stroke-width="0.6"/>
<circle cx="126.00" cy="485.80" r="1.55" fill="#5a0c0e" stroke="#2a0405" stroke-width="0.6"/>
<circle cx="124.00" cy="483.28" r="1.55" fill="#5a0c0e" stroke="#2a0405" stroke-width="0.6"/>
<circle cx="126.00" cy="480.76" r="1.55" fill="#5a0c0e" stroke="#2a0405" stroke-width="0.6"/>
<circle cx="124.00" cy="478.24" r="1.55" fill="#5a0c0e" stroke="#2a0405" stroke-width="0.6"/>
<circle cx="127.00" cy="476.98" r="1.55" fill="#5a0c0e" stroke="#2a0405" stroke-width="0.6"/>
<circle cx="122.00" cy="475.72" r="1.55" fill="#5a0c0e" stroke="#2a0405" stroke-width="0.6"/>
<circle cx="125.00" cy="474.46" r="1.55" fill="#5a0c0e" stroke="#2a0405" stroke-width="0.6"/>
<circle cx="123.79" cy="473.19" r="1.55" fill="#5a0c0e" stroke="#2a0405" stroke-width="0.6"/>
<circle cx="126.21" cy="473.76" r="1.55" fill="#5a0c0e" stroke="#2a0405" stroke-width="0.6"/>
<circle cx="126.00" cy="470.68" r="1.55" fill="#5a0c0e" stroke="#2a0405" stroke-width="0.6"/>
<circle cx="124.00" cy="463.12" r="1.55" fill="#5a0c0e" stroke="#2a0405" stroke-width="0.6"/>
<circle cx="124.00" cy="452.54" r="1.55" fill="#5a0c0e" stroke="#2a0405" stroke-width="0.6"/>
<circle cx="140.55" cy="519.57" r="1.55" fill="#5a0c0e" stroke="#2a0405" stroke-width="0.6"/>
<circle cx="139.40" cy="518.52" r="1.55" fill="#5a0c0e" stroke="#2a0405" stroke-width="0.6"/>
<circle cx="142.12" cy="518.93" r="1.55" fill="#5a0c0e" stroke="#2a0405" stroke-width="0.6"/>
<circle cx="136.05" cy="518.56" r="1.55" fill="#5a0c0e" stroke="#2a0405" stroke-width="0.6"/>
<circle cx="140.55" cy="503.44" r="1.55" fill="#5a0c0e" stroke="#2a0405" stroke-width="0.6"/>
<circle cx="143.55" cy="502.18" r="1.55" fill="#5a0c0e" stroke="#2a0405" stroke-width="0.6"/>
<circle cx="138.55" cy="500.92" r="1.55" fill="#5a0c0e" stroke="#2a0405" stroke-width="0.6"/>
<circle cx="141.55" cy="499.66" r="1.55" fill="#5a0c0e" stroke="#2a0405" stroke-width="0.6"/>
<circle cx="144.55" cy="498.40" r="1.55" fill="#5a0c0e" stroke="#2a0405" stroke-width="0.6"/>
<circle cx="140.55" cy="490.84" r="1.55" fill="#5a0c0e" stroke="#2a0405" stroke-width="0.6"/>
<circle cx="143.55" cy="489.58" r="1.55" fill="#5a0c0e" stroke="#2a0405" stroke-width="0.6"/>
<circle cx="138.55" cy="488.32" r="1.55" fill="#5a0c0e" stroke="#2a0405" stroke-width="0.6"/>
<circle cx="140.55" cy="485.80" r="1.55" fill="#5a0c0e" stroke="#2a0405" stroke-width="0.6"/>
<circle cx="142.55" cy="483.28" r="1.55" fill="#5a0c0e" stroke="#2a0405" stroke-width="0.6"/>
<circle cx="140.55" cy="479.50" r="1.55" fill="#5a0c0e" stroke="#2a0405" stroke-width="0.6"/>
<circle cx="143.55" cy="478.24" r="1.55" fill="#5a0c0e" stroke="#2a0405" stroke-width="0.6"/>
<circle cx="140.55" cy="475.72" r="1.55" fill="#5a0c0e" stroke="#2a0405" stroke-width="0.6"/>
<circle cx="140.55" cy="463.12" r="1.55" fill="#5a0c0e" stroke="#2a0405" stroke-width="0.6"/>
<line x1="57.80" y1="495.88" x2="57.80" y2="501.93" stroke="#333333" stroke-width="1.1"/>
<line x1="55.80" y1="495.88" x2="59.80" y2="495.88" stroke="#333333" stroke-width="1.1"/>
<line x1="55.80" y1="501.93" x2="59.80" y2="501.93" stroke="#333333" stroke-width="1.1"/>
<line x1="74.35" y1="485.80" x2="74.35" y2="495.88" stroke="#121552" stroke-width="1.1"/>
<line x1="72.35" y1="485.80" x2="76.35" y2="485.80" stroke="#121552" stroke-width="1.1"/>
<line x1="72.35" y1="495.88" x2="76.35" y2="495.88" stroke="#121552" stroke-width="1.1"/>
<line x1="90.90" y1="482.52" x2="90.90" y2="492.60" stroke="#6e0a0a" stroke-width="1.1"/>
<line x1="88.90" y1="482.52" x2="92.90" y2="482.52" stroke="#6e0a0a" stroke-width="1.1"/>
<line x1="88.90" y1="492.60" x2="92.90" y2="492.60" stroke="#6e0a0a" stroke-width="1.1"/>
<line x1="107.45" y1="485.04" x2="107.45" y2="495.12" stroke="#6e0a0a" stroke-width="1.1"/>
<line x1="105.45" y1="485.04" x2="109.45" y2="485.04" stroke="#6e0a0a" stroke-width="1.1"/>
<line x1="105.45" y1="495.12" x2="109.45" y2="495.12" stroke="#6e0a0a" stroke-width="1.1"/>
<line x1="124.00" y1="473.45" x2="124.00" y2="488.57" stroke="#220304" stroke-width="1.1"/>
<line x1="122.00" y1="473.45" x2="126.00" y2="473.45" stroke="#220304" stroke-width="1.1"/>
<line x1="122.00" y1="488.57" x2="126.00" y2="488.57" stroke="#220304" stroke-width="1.1"/>
<line x1="140.55" y1="483.28" x2="140.55" y2="498.40" stroke="#220304" stroke-width="1.1"/>
<line x1="138.55" y1="483.28" x2="142.55" y2="483.28" stroke="#220304" stroke-width="1.1"/>
<line x1="138.55" y1="498.40" x2="142.55" y2="498.40" stroke="#220304" stroke-width="1.1"/>
<circle cx="57.80" cy="420.20" r="1.10" fill="#f0f0f0" stroke="#999" stroke-width="0.6"/>
<circle cx="74.35" cy="438.00" r="1.60" fill="#1e2170" stroke="#0e0f38" stroke-width="0.5"/>
<circle cx="90.90" cy="431.00" r="1.60" fill="#d2221e" stroke="#80100e" stroke-width="0.5"/>
<circle cx="90.90" cy="438.00" r="1.60" fill="#d2221e" stroke="#80100e" stroke-width="0.5"/>
<circle cx="106.05" cy="435.20" r="1.60" fill="#d2221e" stroke="#80100e" stroke-width="0.5"/>
<circle cx="108.05" cy="436.40" r="1.60" fill="#d2221e" stroke="#80100e" stroke-width="0.5"/>
<circle cx="109.25" cy="435.40" r="1.60" fill="#d2221e" stroke="#80100e" stroke-width="0.5"/>
<circle cx="107.45" cy="437.60" r="1.60" fill="#d2221e" stroke="#80100e" stroke-width="0.5"/>
<circle cx="124.00" cy="421.00" r="1.60" fill="#5a0c0e" stroke="#2a0405" stroke-width="0.5"/>
<circle cx="124.00" cy="435.00" r="1.60" fill="#5a0c0e" stroke="#2a0405" stroke-width="0.5"/>
<circle cx="139.35" cy="433.60" r="1.60" fill="#5a0c0e" stroke="#2a0405" stroke-width="0.5"/>
<circle cx="141.75" cy="433.00" r="1.60" fill="#5a0c0e" stroke="#2a0405" stroke-width="0.5"/>
<circle cx="140.55" cy="436.20" r="1.60" fill="#5a0c0e" stroke="#2a0405" stroke-width="0.5"/>
<circle cx="142.75" cy="436.00" r="1.60" fill="#5a0c0e" stroke="#2a0405" stroke-width="0.5"/>
<line x1="47.00" y1="417.60" x2="47.00" y2="437.70" stroke="#2b2b2b" stroke-width="1.45"/>
<line x1="43.60" y1="437.70" x2="49.80" y2="437.70" stroke="#2b2b2b" stroke-width="1.2"/>
<line x1="47.00" y1="447.90" x2="47.00" y2="523.60" stroke="#2b2b2b" stroke-width="1.45"/>
<line x1="43.60" y1="447.90" x2="49.80" y2="447.90" stroke="#2b2b2b" stroke-width="1.2"/>
<line x1="43.30" y1="420.42" x2="47.00" y2="420.42" stroke="#2b2b2b" stroke-width="1.2"/>
<text x="41.40" y="423.52" font-size="8.8" text-anchor="end" fill="#222">11</text>
<line x1="43.30" y1="429.06" x2="47.00" y2="429.06" stroke="#2b2b2b" stroke-width="1.2"/>
<text x="41.40" y="432.16" font-size="8.8" text-anchor="end" fill="#222">7</text>
<text x="41.40" y="440.80" font-size="8.8" text-anchor="end" fill="#222">3</text>
<text x="41.40" y="451.00" font-size="8.8" text-anchor="end" fill="#222">3</text>
<line x1="43.30" y1="523.60" x2="47.00" y2="523.60" stroke="#2b2b2b" stroke-width="1.2"/>
<text x="41.40" y="526.70" font-size="8.8" text-anchor="end" fill="#222">0</text>
<line x1="43.30" y1="498.40" x2="47.00" y2="498.40" stroke="#2b2b2b" stroke-width="1.2"/>
<text x="41.40" y="501.50" font-size="8.8" text-anchor="end" fill="#222">1</text>
<line x1="43.30" y1="473.20" x2="47.00" y2="473.20" stroke="#2b2b2b" stroke-width="1.2"/>
<text x="41.40" y="476.30" font-size="8.8" text-anchor="end" fill="#222">2</text>
<line x1="46.30" y1="523.60" x2="151.60" y2="523.60" stroke="#2b2b2b" stroke-width="1.45"/>
<line x1="57.80" y1="523.60" x2="57.80" y2="526.40" stroke="#2b2b2b" stroke-width="1.1"/>
<line x1="74.35" y1="523.60" x2="74.35" y2="526.40" stroke="#2b2b2b" stroke-width="1.1"/>
<line x1="90.90" y1="523.60" x2="90.90" y2="526.40" stroke="#2b2b2b" stroke-width="1.1"/>
<line x1="107.45" y1="523.60" x2="107.45" y2="526.40" stroke="#2b2b2b" stroke-width="1.1"/>
<line x1="124.00" y1="523.60" x2="124.00" y2="526.40" stroke="#2b2b2b" stroke-width="1.1"/>
<line x1="140.55" y1="523.60" x2="140.55" y2="526.40" stroke="#2b2b2b" stroke-width="1.1"/>
<line x1="57.30" y1="385.50" x2="141.05" y2="385.50" stroke="#2b2b2b" stroke-width="1.0"/>
<line x1="57.80" y1="385.00" x2="57.80" y2="387.50" stroke="#2b2b2b" stroke-width="1.0"/>
<line x1="140.55" y1="385.00" x2="140.55" y2="387.50" stroke="#2b2b2b" stroke-width="1.0"/>
<circle cx="99.18" cy="382.30" r="1.00" fill="#222" stroke="none" stroke-width="0.5"/>
<line x1="57.30" y1="393.50" x2="124.50" y2="393.50" stroke="#2b2b2b" stroke-width="1.0"/>
<line x1="57.80" y1="393.00" x2="57.80" y2="395.50" stroke="#2b2b2b" stroke-width="1.0"/>
<line x1="124.00" y1="393.00" x2="124.00" y2="395.50" stroke="#2b2b2b" stroke-width="1.0"/>
<circle cx="87.95" cy="390.30" r="1.00" fill="#222" stroke="none" stroke-width="0.5"/>
<circle cx="90.90" cy="390.30" r="1.00" fill="#222" stroke="none" stroke-width="0.5"/>
<circle cx="93.85" cy="390.30" r="1.00" fill="#222" stroke="none" stroke-width="0.5"/>
<line x1="57.30" y1="400.50" x2="107.95" y2="400.50" stroke="#2b2b2b" stroke-width="1.0"/>
<line x1="57.80" y1="400.00" x2="57.80" y2="402.50" stroke="#2b2b2b" stroke-width="1.0"/>
<line x1="107.45" y1="400.00" x2="107.45" y2="402.50" stroke="#2b2b2b" stroke-width="1.0"/>
<circle cx="79.67" cy="397.30" r="1.00" fill="#222" stroke="none" stroke-width="0.5"/>
<circle cx="82.62" cy="397.30" r="1.00" fill="#222" stroke="none" stroke-width="0.5"/>
<circle cx="85.58" cy="397.30" r="1.00" fill="#222" stroke="none" stroke-width="0.5"/>
<line x1="57.30" y1="407.50" x2="91.40" y2="407.50" stroke="#2b2b2b" stroke-width="1.0"/>
<line x1="57.80" y1="407.00" x2="57.80" y2="409.50" stroke="#2b2b2b" stroke-width="1.0"/>
<line x1="90.90" y1="407.00" x2="90.90" y2="409.50" stroke="#2b2b2b" stroke-width="1.0"/>
<circle cx="69.92" cy="404.30" r="1.00" fill="#222" stroke="none" stroke-width="0.5"/>
<circle cx="72.88" cy="404.30" r="1.00" fill="#222" stroke="none" stroke-width="0.5"/>
<circle cx="75.82" cy="404.30" r="1.00" fill="#222" stroke="none" stroke-width="0.5"/>
<circle cx="78.77" cy="404.30" r="1.00" fill="#222" stroke="none" stroke-width="0.5"/>
<line x1="57.30" y1="415.50" x2="74.85" y2="415.50" stroke="#2b2b2b" stroke-width="1.0"/>
<line x1="57.80" y1="415.00" x2="57.80" y2="417.50" stroke="#2b2b2b" stroke-width="1.0"/>
<line x1="74.35" y1="415.00" x2="74.35" y2="417.50" stroke="#2b2b2b" stroke-width="1.0"/>
<text x="66.07" y="414.20" font-size="7.0" text-anchor="middle" fill="#222">ns</text>
<line x1="73.85" y1="415.50" x2="91.40" y2="415.50" stroke="#2b2b2b" stroke-width="1.0"/>
<line x1="74.35" y1="415.00" x2="74.35" y2="417.50" stroke="#2b2b2b" stroke-width="1.0"/>
<line x1="90.90" y1="415.00" x2="90.90" y2="417.50" stroke="#2b2b2b" stroke-width="1.0"/>
<circle cx="82.62" cy="412.30" r="1.00" fill="#222" stroke="none" stroke-width="0.5"/>
<line x1="90.40" y1="415.50" x2="124.50" y2="415.50" stroke="#2b2b2b" stroke-width="1.0"/>
<line x1="90.90" y1="415.00" x2="90.90" y2="417.50" stroke="#2b2b2b" stroke-width="1.0"/>
<line x1="124.00" y1="415.00" x2="124.00" y2="417.50" stroke="#2b2b2b" stroke-width="1.0"/>
<text x="107.45" y="414.20" font-size="7.0" text-anchor="middle" fill="#222">ns</text>
<text x="19.00" y="470.00" font-size="8.4" text-anchor="middle" textLength="106" lengthAdjust="spacingAndGlyphs" transform="rotate(-90 19.0 470.0)" fill="#222" dominant-baseline="central" style="stroke-width:0.3px">GeoMFI sample/ideal median ctrl</text>
<text x="57.80" y="537.90" font-size="8.0" text-anchor="middle" fill="#222">ctrl</text>
<text x="74.35" y="537.90" font-size="8.0" text-anchor="middle" fill="#222">inf</text>
<text x="91.30" y="537.90" font-size="8.0" text-anchor="middle" fill="#2b2b2b">t<tspan font-size="5.76" dy="1.3">1</tspan></text>
<text x="107.85" y="537.90" font-size="8.0" text-anchor="middle" fill="#2b2b2b">t<tspan font-size="5.76" dy="1.3">2</tspan></text>
<line x1="91.40" y1="541.20" x2="106.65" y2="541.20" stroke="#2b2b2b" stroke-width="1.0"/>
<text x="124.40" y="537.90" font-size="8.0" text-anchor="middle" fill="#2b2b2b">t<tspan font-size="5.76" dy="1.3">1</tspan></text>
<text x="140.95" y="537.90" font-size="8.0" text-anchor="middle" fill="#2b2b2b">t<tspan font-size="5.76" dy="1.3">2</tspan></text>
<line x1="124.50" y1="541.20" x2="139.75" y2="541.20" stroke="#2b2b2b" stroke-width="1.0"/>
<text x="100.58" y="552.30" font-size="8.0" text-anchor="middle" fill="#222">sepsis</text>
<text x="133.68" y="552.30" font-size="8.0" text-anchor="middle" fill="#222">COVID-19</text>
<text x="168.40" y="374.10" font-size="10.6" font-weight="bold" fill="#0a0a0a">H</text>
<defs><radialGradient id="hb"><stop offset="0" stop-color="#4a70c8" stop-opacity="0.45"/><stop offset="0.6" stop-color="#6a78c8" stop-opacity="0.18"/><stop offset="1" stop-color="#8888cc" stop-opacity="0"/></radialGradient><radialGradient id="hc"><stop offset="0" stop-color="#50c8a8" stop-opacity="0.8"/><stop offset="0.5" stop-color="#40a8d0" stop-opacity="0.45"/><stop offset="1" stop-color="#4080d0" stop-opacity="0"/></radialGradient></defs>
<ellipse cx="273" cy="458" rx="30" ry="28" fill="url(#hb)"/>
<ellipse cx="278" cy="453" rx="14" ry="12" fill="url(#hc)"/>
<g><path fill="#a4a6da" d="M320.8 446.1h.9v.9h-.9zM328.2 453.6h.9v.9h-.9zM330.2 482.0h.9v.9h-.9zM327.0 435.7h.9v.9h-.9zM316.3 434.4h.9v.9h-.9zM222.0 420.0h.9v.9h-.9zM214.1 429.9h.9v.9h-.9zM248.7 401.0h.9v.9h-.9zM326.1 493.4h.9v.9h-.9zM304.2 426.5h.9v.9h-.9zM316.6 484.7h.9v.9h-.9zM284.3 516.7h.9v.9h-.9zM319.1 474.2h.9v.9h-.9zM263.6 402.9h.9v.9h-.9zM305.8 408.4h.9v.9h-.9zM317.7 452.1h.9v.9h-.9zM320.3 463.3h.9v.9h-.9zM258.8 420.0h.9v.9h-.9zM226.5 432.9h.9v.9h-.9zM270.3 420.7h.9v.9h-.9zM233.6 520.0h.9v.9h-.9zM301.9 505.3h.9v.9h-.9zM220.6 521.0h.9v.9h-.9zM261.8 521.2h.9v.9h-.9zM292.2 425.7h.9v.9h-.9zM214.9 439.1h.9v.9h-.9zM271.6 513.2h.9v.9h-.9zM294.1 502.9h.9v.9h-.9zM230.7 504.9h.9v.9h-.9zM221.6 450.2h.9v.9h-.9zM218.3 472.1h.9v.9h-.9zM327.9 502.8h.9v.9h-.9zM300.9 402.2h.9v.9h-.9zM306.4 416.2h.9v.9h-.9zM282.4 404.8h.9v.9h-.9zM218.2 442.7h.9v.9h-.9zM231.2 513.1h.9v.9h-.9zM231.3 437.7h.9v.9h-.9zM292.3 511.9h.9v.9h-.9zM275.2 413.2h.9v.9h-.9zM299.5 490.1h.9v.9h-.9zM279.1 494.0h.9v.9h-.9zM253.6 424.8h.9v.9h-.9zM258.6 426.6h.9v.9h-.9zM217.6 513.9h.9v.9h-.9zM292.0 515.5h.9v.9h-.9zM248.2 513.8h.9v.9h-.9zM311.1 464.7h.9v.9h-.9zM217.5 459.6h.9v.9h-.9zM247.9 421.5h.9v.9h-.9zM300.4 514.6h.9v.9h-.9zM300.4 431.9h.9v.9h-.9zM215.5 488.1h.9v.9h-.9zM277.8 418.5h.9v.9h-.9zM332.2 407.6h.9v.9h-.9zM326.9 422.2h.9v.9h-.9zM313.2 419.8h.9v.9h-.9zM296.1 491.1h.9v.9h-.9zM227.8 451.0h.9v.9h-.9zM268.9 411.2h.9v.9h-.9zM303.4 517.3h.9v.9h-.9zM330.9 409.3h.9v.9h-.9zM244.6 419.2h.9v.9h-.9zM287.1 500.1h.9v.9h-.9zM314.1 416.3h.9v.9h-.9zM217.6 476.5h.9v.9h-.9zM256.5 507.4h.9v.9h-.9zM218.1 509.4h.9v.9h-.9zM327.5 429.0h.9v.9h-.9zM326.4 445.3h.9v.9h-.9zM327.5 445.3h.9v.9h-.9zM222.9 496.8h.9v.9h-.9zM305.4 436.3h.9v.9h-.9zM264.9 513.2h.9v.9h-.9zM264.0 513.9h.9v.9h-.9zM252.2 515.6h.9v.9h-.9zM276.5 511.3h.9v.9h-.9zM227.0 490.5h.9v.9h-.9zM290.7 498.5h.9v.9h-.9zM259.1 513.0h.9v.9h-.9zM261.4 430.6h.9v.9h-.9zM226.5 443.0h.9v.9h-.9zM270.5 505.9h.9v.9h-.9zM262.3 507.0h.9v.9h-.9zM246.9 430.6h.9v.9h-.9zM231.3 441.1h.9v.9h-.9zM298.6 427.4h.9v.9h-.9zM271.6 506.5h.9v.9h-.9zM272.4 409.2h.9v.9h-.9zM265.5 429.6h.9v.9h-.9zM223.4 456.0h.9v.9h-.9zM280.4 507.2h.9v.9h-.9zM259.2 516.5h.9v.9h-.9zM251.1 518.3h.9v.9h-.9zM228.0 439.4h.9v.9h-.9zM306.9 438.6h.9v.9h-.9zM219.1 459.8h.9v.9h-.9zM325.6 427.2h.9v.9h-.9zM220.5 492.0h.9v.9h-.9zM239.7 436.0h.9v.9h-.9zM285.4 417.2h.9v.9h-.9zM243.3 434.0h.9v.9h-.9zM229.8 443.2h.9v.9h-.9zM261.0 428.1h.9v.9h-.9zM250.7 429.2h.9v.9h-.9zM229.5 497.7h.9v.9h-.9zM283.9 426.9h.9v.9h-.9zM276.9 503.5h.9v.9h-.9zM219.9 479.4h.9v.9h-.9zM251.4 516.2h.9v.9h-.9zM287.0 494.1h.9v.9h-.9zM306.5 457.2h.9v.9h-.9zM239.0 509.4h.9v.9h-.9zM278.8 500.3h.9v.9h-.9zM235.2 508.3h.9v.9h-.9zM271.4 427.3h.9v.9h-.9zM310.4 457.0h.9v.9h-.9zM254.6 433.0h.9v.9h-.9zM242.0 435.6h.9v.9h-.9zM267.7 500.9h.9v.9h-.9zM234.1 501.3h.9v.9h-.9zM263.8 513.8h.9v.9h-.9zM228.8 494.2h.9v.9h-.9zM310.1 457.1h.9v.9h-.9zM226.5 455.9h.9v.9h-.9zM274.3 507.6h.9v.9h-.9zM233.4 493.3h.9v.9h-.9zM236.5 508.2h.9v.9h-.9zM232.3 498.6h.9v.9h-.9zM308.0 459.6h.9v.9h-.9zM233.6 449.3h.9v.9h-.9zM234.2 506.3h.9v.9h-.9zM309.1 460.0h.9v.9h-.9zM284.8 419.3h.9v.9h-.9zM283.4 420.8h.9v.9h-.9zM239.0 444.8h.9v.9h-.9zM239.0 437.3h.9v.9h-.9zM284.9 418.9h.9v.9h-.9zM224.8 493.1h.9v.9h-.9zM245.1 506.8h.9v.9h-.9zM271.7 500.8h.9v.9h-.9zM233.5 488.5h.9v.9h-.9zM240.7 503.0h.9v.9h-.9zM299.1 477.9h.9v.9h-.9zM306.6 466.8h.9v.9h-.9zM270.6 502.5h.9v.9h-.9zM284.3 424.1h.9v.9h-.9zM294.1 430.9h.9v.9h-.9zM272.6 501.6h.9v.9h-.9zM226.2 473.5h.9v.9h-.9zM238.1 502.7h.9v.9h-.9zM243.6 506.3h.9v.9h-.9zM241.2 506.0h.9v.9h-.9zM223.7 491.5h.9v.9h-.9zM298.4 477.6h.9v.9h-.9zM224.1 494.9h.9v.9h-.9zM225.6 466.2h.9v.9h-.9zM225.5 496.7h.9v.9h-.9zM259.5 503.8h.9v.9h-.9zM274.6 424.3h.9v.9h-.9zM274.3 426.9h.9v.9h-.9zM253.7 435.3h.9v.9h-.9zM300.9 457.5h.9v.9h-.9zM236.2 451.2h.9v.9h-.9zM257.2 433.7h.9v.9h-.9zM225.1 465.5h.9v.9h-.9zM262.6 503.3h.9v.9h-.9zM231.9 477.8h.9v.9h-.9zM278.8 496.9h.9v.9h-.9zM275.1 426.7h.9v.9h-.9zM225.3 472.5h.9v.9h-.9zM225.8 463.6h.9v.9h-.9zM238.6 498.8h.9v.9h-.9zM225.4 470.8h.9v.9h-.9zM280.9 429.1h.9v.9h-.9zM224.3 476.3h.9v.9h-.9zM227.0 465.5h.9v.9h-.9zM223.2 484.1h.9v.9h-.9zM291.4 483.5h.9v.9h-.9zM292.5 482.6h.9v.9h-.9zM255.7 434.0h.9v.9h-.9zM227.7 469.8h.9v.9h-.9zM304.5 441.1h.9v.9h-.9zM229.3 457.3h.9v.9h-.9zM301.6 462.0h.9v.9h-.9zM302.9 474.1h.9v.9h-.9zM267.3 494.6h.9v.9h-.9zM234.2 494.3h.9v.9h-.9zM304.0 472.0h.9v.9h-.9zM248.8 504.0h.9v.9h-.9zM280.1 488.2h.9v.9h-.9zM262.1 438.2h.9v.9h-.9zM303.8 469.9h.9v.9h-.9zM238.2 496.3h.9v.9h-.9zM229.4 465.4h.9v.9h-.9zM281.0 488.4h.9v.9h-.9zM226.0 483.6h.9v.9h-.9zM228.5 455.6h.9v.9h-.9zM239.3 493.1h.9v.9h-.9zM265.1 502.2h.9v.9h-.9zM289.2 491.9h.9v.9h-.9zM239.6 503.7h.9v.9h-.9zM280.0 489.5h.9v.9h-.9zM246.6 504.2h.9v.9h-.9zM305.2 466.2h.9v.9h-.9zM291.2 432.3h.9v.9h-.9zM281.7 489.0h.9v.9h-.9zM276.9 426.5h.9v.9h-.9zM289.6 490.7h.9v.9h-.9zM300.2 461.0h.9v.9h-.9zM237.2 493.1h.9v.9h-.9zM239.4 495.3h.9v.9h-.9zM276.6 426.9h.9v.9h-.9zM252.1 438.8h.9v.9h-.9zM286.1 489.9h.9v.9h-.9zM226.5 479.3h.9v.9h-.9zM290.6 485.4h.9v.9h-.9zM249.4 436.8h.9v.9h-.9zM304.5 449.1h.9v.9h-.9zM289.5 488.1h.9v.9h-.9zM285.4 490.4h.9v.9h-.9zM225.3 479.0h.9v.9h-.9zM303.3 448.6h.9v.9h-.9zM232.1 459.3h.9v.9h-.9zM297.8 438.4h.9v.9h-.9zM281.3 422.6h.9v.9h-.9zM232.7 470.7h.9v.9h-.9zM228.4 471.5h.9v.9h-.9zM253.1 436.4h.9v.9h-.9zM233.9 470.8h.9v.9h-.9zM233.8 461.5h.9v.9h-.9zM290.5 490.7h.9v.9h-.9zM305.2 466.8h.9v.9h-.9zM230.0 454.4h.9v.9h-.9zM287.6 489.2h.9v.9h-.9zM252.0 505.0h.9v.9h-.9zM297.2 439.0h.9v.9h-.9zM227.1 478.8h.9v.9h-.9zM302.1 455.0h.9v.9h-.9zM231.8 486.7h.9v.9h-.9zM225.7 479.0h.9v.9h-.9zM233.8 486.2h.9v.9h-.9zM238.8 488.4h.9v.9h-.9zM246.1 502.7h.9v.9h-.9zM232.4 480.7h.9v.9h-.9zM258.9 437.4h.9v.9h-.9zM276.3 429.1h.9v.9h-.9zM231.4 480.0h.9v.9h-.9zM301.8 471.4h.9v.9h-.9zM243.1 497.9h.9v.9h-.9zM275.6 496.5h.9v.9h-.9zM302.0 464.3h.9v.9h-.9zM240.1 437.3h.9v.9h-.9zM233.2 479.1h.9v.9h-.9zM285.2 485.3h.9v.9h-.9zM273.7 430.8h.9v.9h-.9zM273.2 494.3h.9v.9h-.9zM241.6 441.9h.9v.9h-.9zM240.8 497.6h.9v.9h-.9zM234.6 455.2h.9v.9h-.9zM249.2 491.7h.9v.9h-.9zM273.4 490.3h.9v.9h-.9zM250.8 490.8h.9v.9h-.9zM233.9 454.8h.9v.9h-.9zM281.7 431.9h.9v.9h-.9zM236.0 454.9h.9v.9h-.9zM293.2 481.6h.9v.9h-.9zM226.2 468.6h.9v.9h-.9zM273.7 496.9h.9v.9h-.9zM240.6 441.9h.9v.9h-.9zM228.4 481.1h.9v.9h-.9zM303.2 444.8h.9v.9h-.9zM276.7 432.3h.9v.9h-.9zM275.6 491.2h.9v.9h-.9zM244.8 492.2h.9v.9h-.9zM273.5 493.2h.9v.9h-.9zM231.1 452.8h.9v.9h-.9zM297.3 460.4h.9v.9h-.9zM293.3 479.0h.9v.9h-.9zM236.5 489.6h.9v.9h-.9zM291.7 481.0h.9v.9h-.9zM257.4 439.6h.9v.9h-.9zM263.4 501.0h.9v.9h-.9zM231.8 456.9h.9v.9h-.9zM242.8 442.5h.9v.9h-.9zM285.2 431.9h.9v.9h-.9zM251.2 491.8h.9v.9h-.9zM305.9 444.5h.9v.9h-.9zM261.2 502.4h.9v.9h-.9zM274.1 499.3h.9v.9h-.9zM299.2 463.9h.9v.9h-.9zM262.0 498.8h.9v.9h-.9zM244.2 496.5h.9v.9h-.9zM253.6 500.3h.9v.9h-.9zM243.3 496.5h.9v.9h-.9zM263.0 498.7h.9v.9h-.9zM262.8 499.5h.9v.9h-.9zM254.0 500.6h.9v.9h-.9zM245.8 496.6h.9v.9h-.9zM244.9 494.8h.9v.9h-.9zM244.6 495.4h.9v.9h-.9zM257.1 499.4h.9v.9h-.9zM255.7 498.2h.9v.9h-.9zM230.0 484.2h.9v.9h-.9zM298.3 465.4h.9v.9h-.9zM252.8 502.2h.9v.9h-.9zM279.0 488.5h.9v.9h-.9zM260.9 500.0h.9v.9h-.9zM265.1 495.0h.9v.9h-.9zM234.5 478.6h.9v.9h-.9zM239.1 485.2h.9v.9h-.9zM300.6 467.2h.9v.9h-.9zM302.3 454.1h.9v.9h-.9zM270.6 435.1h.9v.9h-.9zM254.4 497.8h.9v.9h-.9zM250.4 498.9h.9v.9h-.9zM260.4 498.5h.9v.9h-.9zM271.6 435.5h.9v.9h-.9zM294.7 475.9h.9v.9h-.9zM263.2 495.7h.9v.9h-.9zM252.5 493.0h.9v.9h-.9zM234.7 454.3h.9v.9h-.9zM257.8 495.2h.9v.9h-.9zM254.3 493.6h.9v.9h-.9zM258.9 497.2h.9v.9h-.9zM253.1 499.4h.9v.9h-.9zM297.8 472.5h.9v.9h-.9zM238.2 485.4h.9v.9h-.9zM303.5 448.3h.9v.9h-.9zM300.0 469.6h.9v.9h-.9zM228.5 468.8h.9v.9h-.9zM236.0 471.2h.9v.9h-.9zM254.0 492.8h.9v.9h-.9zM298.6 470.2h.9v.9h-.9zM272.8 496.4h.9v.9h-.9zM271.0 493.9h.9v.9h-.9zM270.1 435.4h.9v.9h-.9zM236.6 486.8h.9v.9h-.9zM235.0 472.3h.9v.9h-.9zM249.5 497.6h.9v.9h-.9zM234.3 483.7h.9v.9h-.9zM279.6 434.3h.9v.9h-.9zM279.2 433.9h.9v.9h-.9zM235.3 472.8h.9v.9h-.9zM251.7 500.6h.9v.9h-.9zM251.3 496.2h.9v.9h-.9zM235.8 484.1h.9v.9h-.9zM234.8 482.3h.9v.9h-.9zM299.4 467.1h.9v.9h-.9zM250.6 502.0h.9v.9h-.9zM291.7 434.7h.9v.9h-.9zM280.7 485.8h.9v.9h-.9zM288.8 481.4h.9v.9h-.9zM246.4 497.0h.9v.9h-.9zM280.9 435.4h.9v.9h-.9zM277.2 433.5h.9v.9h-.9zM246.1 492.2h.9v.9h-.9zM277.8 435.9h.9v.9h-.9zM241.1 492.5h.9v.9h-.9zM235.6 459.2h.9v.9h-.9zM293.6 435.2h.9v.9h-.9zM293.5 434.6h.9v.9h-.9zM295.8 437.9h.9v.9h-.9zM294.0 437.9h.9v.9h-.9zM244.1 487.8h.9v.9h-.9zM244.6 439.4h.9v.9h-.9zM282.5 483.2h.9v.9h-.9zM238.9 450.6h.9v.9h-.9zM245.1 442.2h.9v.9h-.9zM258.2 491.4h.9v.9h-.9zM245.3 441.9h.9v.9h-.9zM238.7 451.0h.9v.9h-.9zM282.5 483.8h.9v.9h-.9zM260.7 493.1h.9v.9h-.9zM244.8 490.0h.9v.9h-.9zM240.0 455.9h.9v.9h-.9zM298.5 441.9h.9v.9h-.9zM260.8 496.2h.9v.9h-.9zM239.3 456.6h.9v.9h-.9zM297.3 441.7h.9v.9h-.9zM237.1 450.0h.9v.9h-.9zM282.3 484.0h.9v.9h-.9zM274.8 433.9h.9v.9h-.9zM298.5 442.0h.9v.9h-.9zM271.7 491.2h.9v.9h-.9zM234.3 465.3h.9v.9h-.9zM270.1 490.0h.9v.9h-.9zM241.3 448.4h.9v.9h-.9zM236.0 464.6h.9v.9h-.9zM241.2 447.8h.9v.9h-.9zM283.2 435.6h.9v.9h-.9zM242.9 448.5h.9v.9h-.9zM256.4 444.6h.9v.9h-.9zM240.5 446.9h.9v.9h-.9zM294.2 473.3h.9v.9h-.9zM299.9 455.1h.9v.9h-.9zM267.8 493.7h.9v.9h-.9zM294.2 474.1h.9v.9h-.9zM267.9 491.4h.9v.9h-.9zM258.2 441.0h.9v.9h-.9zM286.0 473.8h.9v.9h-.9zM240.3 449.6h.9v.9h-.9zM240.6 450.9h.9v.9h-.9zM284.1 434.7h.9v.9h-.9zM234.7 464.1h.9v.9h-.9zM286.4 475.1h.9v.9h-.9zM254.5 439.8h.9v.9h-.9zM271.5 490.1h.9v.9h-.9zM234.9 466.1h.9v.9h-.9zM248.5 495.1h.9v.9h-.9zM242.8 450.7h.9v.9h-.9zM298.3 454.6h.9v.9h-.9zM235.3 466.4h.9v.9h-.9zM268.7 492.9h.9v.9h-.9zM275.6 487.1h.9v.9h-.9zM245.2 485.1h.9v.9h-.9zM292.0 477.2h.9v.9h-.9zM286.9 435.5h.9v.9h-.9zM265.9 439.0h.9v.9h-.9zM245.1 487.7h.9v.9h-.9zM286.2 480.7h.9v.9h-.9zM235.3 467.7h.9v.9h-.9zM285.8 434.3h.9v.9h-.9zM286.2 435.8h.9v.9h-.9zM286.3 435.7h.9v.9h-.9zM244.1 486.6h.9v.9h-.9zM245.3 486.2h.9v.9h-.9zM285.3 435.9h.9v.9h-.9zM263.2 492.4h.9v.9h-.9zM286.4 479.4h.9v.9h-.9zM285.9 480.8h.9v.9h-.9zM263.8 493.1h.9v.9h-.9zM243.8 443.1h.9v.9h-.9zM235.6 469.6h.9v.9h-.9zM242.8 484.9h.9v.9h-.9zM244.2 445.0h.9v.9h-.9zM263.2 491.1h.9v.9h-.9zM245.9 485.4h.9v.9h-.9zM245.0 487.0h.9v.9h-.9zM290.4 436.2h.9v.9h-.9zM248.6 487.3h.9v.9h-.9zM291.8 473.2h.9v.9h-.9zM298.0 453.1h.9v.9h-.9zM239.1 482.7h.9v.9h-.9zM296.2 467.0h.9v.9h-.9zM295.5 468.5h.9v.9h-.9zM298.0 451.9h.9v.9h-.9zM248.7 487.5h.9v.9h-.9zM290.9 436.0h.9v.9h-.9zM246.3 486.2h.9v.9h-.9zM296.1 442.0h.9v.9h-.9zM295.3 441.8h.9v.9h-.9zM279.5 481.7h.9v.9h-.9zM285.1 477.7h.9v.9h-.9zM295.0 467.4h.9v.9h-.9zM292.4 475.1h.9v.9h-.9zM292.8 472.7h.9v.9h-.9zM292.3 472.8h.9v.9h-.9zM297.2 451.9h.9v.9h-.9zM276.1 487.5h.9v.9h-.9zM289.1 433.7h.9v.9h-.9zM276.8 485.4h.9v.9h-.9zM295.0 464.9h.9v.9h-.9zM237.6 483.2h.9v.9h-.9zM294.8 471.5h.9v.9h-.9zM293.5 468.2h.9v.9h-.9zM301.9 444.5h.9v.9h-.9zM282.8 478.8h.9v.9h-.9zM248.3 440.6h.9v.9h-.9zM294.0 466.7h.9v.9h-.9zM295.5 459.1h.9v.9h-.9zM300.5 444.9h.9v.9h-.9zM294.7 458.0h.9v.9h-.9zM296.3 457.5h.9v.9h-.9zM282.7 481.4h.9v.9h-.9zM246.7 441.6h.9v.9h-.9zM302.8 442.7h.9v.9h-.9zM238.5 459.0h.9v.9h-.9zM251.2 487.2h.9v.9h-.9zM248.5 441.5h.9v.9h-.9zM301.2 448.8h.9v.9h-.9zM263.2 441.6h.9v.9h-.9zM288.1 476.5h.9v.9h-.9zM290.6 477.8h.9v.9h-.9zM263.9 442.2h.9v.9h-.9zM239.9 472.2h.9v.9h-.9zM252.0 441.5h.9v.9h-.9zM261.2 442.3h.9v.9h-.9zM237.4 475.9h.9v.9h-.9zM237.7 477.9h.9v.9h-.9zM290.3 475.0h.9v.9h-.9zM239.9 470.7h.9v.9h-.9zM288.0 478.5h.9v.9h-.9zM290.9 475.0h.9v.9h-.9zM261.1 440.8h.9v.9h-.9zM301.1 448.1h.9v.9h-.9zM270.7 486.9h.9v.9h-.9zM291.5 470.2h.9v.9h-.9zM287.5 470.3h.9v.9h-.9zM303.0 445.8h.9v.9h-.9zM269.5 490.0h.9v.9h-.9zM291.4 472.1h.9v.9h-.9zM238.7 475.0h.9v.9h-.9zM293.0 469.6h.9v.9h-.9zM238.1 481.5h.9v.9h-.9zM253.1 444.8h.9v.9h-.9zM252.7 443.1h.9v.9h-.9zM253.1 445.3h.9v.9h-.9zM294.3 456.6h.9v.9h-.9zM239.9 472.8h.9v.9h-.9zM238.8 475.5h.9v.9h-.9zM285.7 470.8h.9v.9h-.9zM286.9 471.6h.9v.9h-.9zM302.2 446.5h.9v.9h-.9zM298.4 444.2h.9v.9h-.9zM301.6 446.1h.9v.9h-.9zM241.8 453.5h.9v.9h-.9zM242.2 452.4h.9v.9h-.9zM246.2 444.0h.9v.9h-.9zM246.7 444.8h.9v.9h-.9zM241.5 452.8h.9v.9h-.9zM249.0 444.4h.9v.9h-.9zM299.3 446.5h.9v.9h-.9zM292.9 463.9h.9v.9h-.9zM250.9 444.3h.9v.9h-.9zM251.6 443.9h.9v.9h-.9zM291.1 465.2h.9v.9h-.9zM279.6 480.8h.9v.9h-.9zM253.9 488.8h.9v.9h-.9zM251.2 443.9h.9v.9h-.9zM275.5 484.3h.9v.9h-.9zM249.1 445.1h.9v.9h-.9zM289.0 470.7h.9v.9h-.9zM280.5 479.5h.9v.9h-.9zM253.0 487.8h.9v.9h-.9zM292.3 464.3h.9v.9h-.9zM274.0 482.7h.9v.9h-.9zM247.6 448.6h.9v.9h-.9zM251.7 444.2h.9v.9h-.9zM247.3 448.8h.9v.9h-.9zM297.9 447.8h.9v.9h-.9zM247.6 450.7h.9v.9h-.9zM241.4 457.1h.9v.9h-.9zM248.8 451.2h.9v.9h-.9zM299.3 446.3h.9v.9h-.9zM246.1 451.4h.9v.9h-.9zM278.1 438.5h.9v.9h-.9zM279.5 480.7h.9v.9h-.9zM281.2 480.1h.9v.9h-.9zM275.9 484.0h.9v.9h-.9zM250.8 444.2h.9v.9h-.9zM297.3 446.1h.9v.9h-.9zM278.8 437.2h.9v.9h-.9zM246.5 448.6h.9v.9h-.9zM274.5 483.3h.9v.9h-.9zM275.1 482.1h.9v.9h-.9zM273.8 436.8h.9v.9h-.9zM284.1 476.4h.9v.9h-.9zM297.5 450.8h.9v.9h-.9zM297.3 449.7h.9v.9h-.9zM241.5 479.3h.9v.9h-.9zM240.5 480.9h.9v.9h-.9zM283.1 478.4h.9v.9h-.9zM267.9 438.8h.9v.9h-.9zM241.2 480.3h.9v.9h-.9zM240.7 480.4h.9v.9h-.9zM283.7 476.3h.9v.9h-.9zM260.0 445.3h.9v.9h-.9zM298.4 448.7h.9v.9h-.9zM282.0 475.9h.9v.9h-.9zM268.4 438.6h.9v.9h-.9zM269.6 438.5h.9v.9h-.9zM240.9 480.3h.9v.9h-.9zM241.7 481.7h.9v.9h-.9zM267.0 489.7h.9v.9h-.9zM263.3 488.5h.9v.9h-.9zM266.4 489.1h.9v.9h-.9zM260.6 489.7h.9v.9h-.9zM262.6 488.9h.9v.9h-.9zM264.4 489.0h.9v.9h-.9zM237.0 463.4h.9v.9h-.9zM270.0 485.9h.9v.9h-.9zM244.5 451.1h.9v.9h-.9zM294.9 444.1h.9v.9h-.9zM239.4 465.0h.9v.9h-.9zM237.1 462.5h.9v.9h-.9zM268.9 485.1h.9v.9h-.9zM254.3 487.4h.9v.9h-.9zM242.7 467.4h.9v.9h-.9zM237.3 462.9h.9v.9h-.9zM266.4 489.2h.9v.9h-.9zM253.7 486.2h.9v.9h-.9zM238.9 462.7h.9v.9h-.9zM241.0 468.5h.9v.9h-.9zM245.0 448.4h.9v.9h-.9zM267.4 485.8h.9v.9h-.9zM240.0 483.2h.9v.9h-.9zM264.0 489.9h.9v.9h-.9zM239.1 463.9h.9v.9h-.9zM237.6 465.9h.9v.9h-.9zM242.4 469.3h.9v.9h-.9zM278.8 482.3h.9v.9h-.9zM239.6 466.7h.9v.9h-.9zM267.2 486.1h.9v.9h-.9zM294.5 444.3h.9v.9h-.9zM252.9 484.7h.9v.9h-.9zM284.8 438.3h.9v.9h-.9zM253.0 487.1h.9v.9h-.9zM260.3 489.0h.9v.9h-.9zM242.1 483.2h.9v.9h-.9zM252.3 485.5h.9v.9h-.9zM276.9 484.5h.9v.9h-.9z"/><path fill="#6064bc" d="M281.2 438.8h.9v.9h-.9zM272.1 436.5h.9v.9h-.9zM246.0 446.2h.9v.9h-.9zM294.4 451.8h.9v.9h-.9zM279.6 436.9h.9v.9h-.9zM295.3 453.1h.9v.9h-.9zM247.7 484.4h.9v.9h-.9zM272.6 438.8h.9v.9h-.9zM247.9 481.9h.9v.9h-.9zM272.2 438.7h.9v.9h-.9zM272.3 436.9h.9v.9h-.9zM296.1 452.0h.9v.9h-.9zM291.7 461.1h.9v.9h-.9zM293.6 460.7h.9v.9h-.9zM243.0 470.8h.9v.9h-.9zM291.1 461.7h.9v.9h-.9zM291.1 462.6h.9v.9h-.9zM262.1 444.6h.9v.9h-.9zM261.3 444.4h.9v.9h-.9zM242.2 471.8h.9v.9h-.9zM288.6 436.5h.9v.9h-.9zM262.6 444.1h.9v.9h-.9zM241.3 475.4h.9v.9h-.9zM288.8 438.8h.9v.9h-.9zM261.3 445.1h.9v.9h-.9zM293.7 462.5h.9v.9h-.9zM289.9 438.7h.9v.9h-.9zM256.5 490.2h.9v.9h-.9zM240.2 474.5h.9v.9h-.9zM292.8 461.6h.9v.9h-.9zM255.4 487.9h.9v.9h-.9zM290.1 436.8h.9v.9h-.9zM242.9 471.3h.9v.9h-.9zM261.2 443.6h.9v.9h-.9zM263.2 443.4h.9v.9h-.9zM257.1 489.7h.9v.9h-.9zM241.9 471.2h.9v.9h-.9zM287.1 437.6h.9v.9h-.9zM256.3 445.7h.9v.9h-.9zM257.6 448.0h.9v.9h-.9zM250.0 483.6h.9v.9h-.9zM250.2 482.7h.9v.9h-.9zM257.5 447.0h.9v.9h-.9zM244.6 482.0h.9v.9h-.9zM251.3 483.8h.9v.9h-.9zM288.0 469.5h.9v.9h-.9zM266.1 485.5h.9v.9h-.9zM288.9 466.7h.9v.9h-.9zM264.3 485.2h.9v.9h-.9zM245.2 479.3h.9v.9h-.9zM289.4 468.2h.9v.9h-.9zM265.1 484.8h.9v.9h-.9zM245.2 478.8h.9v.9h-.9zM241.0 465.2h.9v.9h-.9zM245.9 479.2h.9v.9h-.9zM241.5 464.0h.9v.9h-.9zM243.4 479.1h.9v.9h-.9zM240.0 466.3h.9v.9h-.9zM265.7 487.1h.9v.9h-.9zM263.9 486.7h.9v.9h-.9zM241.7 478.0h.9v.9h-.9zM242.7 475.9h.9v.9h-.9zM291.1 458.8h.9v.9h-.9zM243.8 454.7h.9v.9h-.9zM262.6 487.3h.9v.9h-.9zM278.4 479.8h.9v.9h-.9zM292.1 459.2h.9v.9h-.9zM276.0 479.9h.9v.9h-.9zM277.1 480.3h.9v.9h-.9zM243.7 454.6h.9v.9h-.9zM260.4 487.0h.9v.9h-.9zM244.9 456.8h.9v.9h-.9zM259.1 485.8h.9v.9h-.9zM295.3 446.5h.9v.9h-.9zM270.8 483.5h.9v.9h-.9zM240.9 475.7h.9v.9h-.9zM260.2 487.5h.9v.9h-.9zM262.9 485.1h.9v.9h-.9zM245.6 455.5h.9v.9h-.9zM244.1 457.1h.9v.9h-.9zM292.5 460.4h.9v.9h-.9zM294.5 447.6h.9v.9h-.9zM260.3 486.9h.9v.9h-.9zM240.3 476.8h.9v.9h-.9zM269.4 439.6h.9v.9h-.9zM247.8 452.3h.9v.9h-.9zM275.9 479.5h.9v.9h-.9zM249.8 447.9h.9v.9h-.9zM267.1 442.2h.9v.9h-.9zM273.9 481.5h.9v.9h-.9zM248.3 453.1h.9v.9h-.9zM268.8 483.1h.9v.9h-.9zM274.1 481.1h.9v.9h-.9zM268.7 483.6h.9v.9h-.9zM247.3 453.7h.9v.9h-.9zM242.8 459.1h.9v.9h-.9zM274.6 479.1h.9v.9h-.9zM267.6 442.0h.9v.9h-.9zM269.7 442.3h.9v.9h-.9zM268.4 484.5h.9v.9h-.9zM273.1 479.0h.9v.9h-.9zM279.1 477.6h.9v.9h-.9zM269.2 483.2h.9v.9h-.9zM249.6 447.7h.9v.9h-.9zM294.7 450.9h.9v.9h-.9zM268.4 439.5h.9v.9h-.9zM250.5 447.5h.9v.9h-.9zM241.4 458.0h.9v.9h-.9zM275.4 479.1h.9v.9h-.9zM242.8 459.2h.9v.9h-.9zM247.6 454.2h.9v.9h-.9zM242.7 459.0h.9v.9h-.9zM295.5 449.2h.9v.9h-.9zM268.6 441.8h.9v.9h-.9zM247.1 454.4h.9v.9h-.9zM267.3 482.4h.9v.9h-.9zM269.4 440.6h.9v.9h-.9zM269.7 439.6h.9v.9h-.9zM296.7 451.4h.9v.9h-.9zM248.6 478.7h.9v.9h-.9zM256.1 485.9h.9v.9h-.9zM256.8 484.9h.9v.9h-.9zM241.4 462.0h.9v.9h-.9zM253.3 448.0h.9v.9h-.9zM241.7 461.2h.9v.9h-.9zM248.9 457.2h.9v.9h-.9zM242.1 461.7h.9v.9h-.9zM256.0 486.8h.9v.9h-.9zM240.9 461.8h.9v.9h-.9zM246.3 478.8h.9v.9h-.9zM246.2 480.4h.9v.9h-.9zM248.8 455.8h.9v.9h-.9zM253.2 446.0h.9v.9h-.9zM255.7 485.8h.9v.9h-.9zM255.0 486.1h.9v.9h-.9zM245.7 453.2h.9v.9h-.9zM248.9 456.9h.9v.9h-.9zM248.8 457.0h.9v.9h-.9zM257.0 485.3h.9v.9h-.9zM253.8 482.2h.9v.9h-.9zM254.2 482.4h.9v.9h-.9zM253.6 481.8h.9v.9h-.9zM281.5 473.1h.9v.9h-.9zM281.8 473.7h.9v.9h-.9zM280.2 472.8h.9v.9h-.9zM281.5 473.6h.9v.9h-.9zM245.8 468.9h.9v.9h-.9zM280.4 474.6h.9v.9h-.9zM244.8 466.6h.9v.9h-.9zM280.2 473.7h.9v.9h-.9zM245.8 469.5h.9v.9h-.9zM244.2 469.5h.9v.9h-.9zM280.0 473.0h.9v.9h-.9zM270.1 442.0h.9v.9h-.9zM288.0 464.1h.9v.9h-.9zM246.4 466.8h.9v.9h-.9zM248.5 469.2h.9v.9h-.9zM270.2 442.1h.9v.9h-.9zM290.3 466.2h.9v.9h-.9zM247.7 468.1h.9v.9h-.9zM293.6 456.7h.9v.9h-.9zM254.2 481.4h.9v.9h-.9zM253.4 479.8h.9v.9h-.9zM292.5 441.6h.9v.9h-.9zM252.4 480.5h.9v.9h-.9zM248.6 468.4h.9v.9h-.9zM248.3 466.8h.9v.9h-.9zM247.4 469.2h.9v.9h-.9zM293.1 440.2h.9v.9h-.9zM252.4 481.5h.9v.9h-.9zM292.2 456.7h.9v.9h-.9zM270.2 441.7h.9v.9h-.9zM271.0 440.6h.9v.9h-.9zM253.8 481.2h.9v.9h-.9zM272.9 441.8h.9v.9h-.9zM292.0 455.4h.9v.9h-.9zM273.5 478.6h.9v.9h-.9zM257.1 479.7h.9v.9h-.9zM256.4 479.9h.9v.9h-.9zM250.1 459.2h.9v.9h-.9zM275.0 475.6h.9v.9h-.9zM274.0 477.5h.9v.9h-.9zM251.6 450.0h.9v.9h-.9zM244.8 460.6h.9v.9h-.9zM273.8 477.1h.9v.9h-.9zM250.4 459.9h.9v.9h-.9zM274.1 477.0h.9v.9h-.9zM251.6 448.5h.9v.9h-.9zM250.8 458.1h.9v.9h-.9zM257.9 479.5h.9v.9h-.9zM245.6 463.1h.9v.9h-.9zM243.6 462.2h.9v.9h-.9zM257.4 479.6h.9v.9h-.9zM250.2 448.9h.9v.9h-.9zM249.2 460.3h.9v.9h-.9zM257.4 479.7h.9v.9h-.9zM244.8 460.8h.9v.9h-.9zM250.9 457.9h.9v.9h-.9zM246.4 463.0h.9v.9h-.9zM248.0 461.8h.9v.9h-.9zM244.6 458.6h.9v.9h-.9zM248.5 463.1h.9v.9h-.9zM245.1 472.9h.9v.9h-.9zM247.9 463.2h.9v.9h-.9zM276.9 477.9h.9v.9h-.9zM277.1 477.7h.9v.9h-.9zM244.5 458.4h.9v.9h-.9zM245.0 458.4h.9v.9h-.9zM276.2 476.5h.9v.9h-.9zM244.9 475.5h.9v.9h-.9zM246.4 461.3h.9v.9h-.9zM250.5 480.0h.9v.9h-.9zM251.2 480.5h.9v.9h-.9zM245.4 473.1h.9v.9h-.9zM248.3 459.2h.9v.9h-.9zM243.4 457.8h.9v.9h-.9zM245.6 472.9h.9v.9h-.9zM243.9 458.1h.9v.9h-.9zM247.4 461.5h.9v.9h-.9zM243.7 458.7h.9v.9h-.9zM243.8 475.0h.9v.9h-.9zM248.9 460.7h.9v.9h-.9zM248.4 461.4h.9v.9h-.9zM250.0 480.2h.9v.9h-.9zM244.1 475.0h.9v.9h-.9zM285.9 468.1h.9v.9h-.9zM268.5 443.0h.9v.9h-.9zM252.3 448.8h.9v.9h-.9zM252.8 451.0h.9v.9h-.9zM264.3 444.1h.9v.9h-.9zM265.9 444.3h.9v.9h-.9zM265.9 443.0h.9v.9h-.9zM285.8 468.2h.9v.9h-.9zM269.2 442.5h.9v.9h-.9zM268.4 444.8h.9v.9h-.9zM252.1 450.8h.9v.9h-.9zM265.2 445.3h.9v.9h-.9zM287.4 468.7h.9v.9h-.9zM244.2 476.9h.9v.9h-.9zM245.7 464.6h.9v.9h-.9zM246.0 464.4h.9v.9h-.9zM253.5 448.4h.9v.9h-.9zM243.2 476.9h.9v.9h-.9zM248.4 463.6h.9v.9h-.9zM266.9 444.9h.9v.9h-.9zM269.2 445.2h.9v.9h-.9zM248.6 464.0h.9v.9h-.9zM248.5 464.0h.9v.9h-.9zM244.2 463.8h.9v.9h-.9zM277.6 473.6h.9v.9h-.9zM253.1 454.4h.9v.9h-.9zM276.8 473.3h.9v.9h-.9zM278.4 473.8h.9v.9h-.9zM256.2 450.5h.9v.9h-.9zM244.9 471.6h.9v.9h-.9zM252.5 453.0h.9v.9h-.9zM245.6 470.1h.9v.9h-.9zM254.3 451.8h.9v.9h-.9zM276.6 472.8h.9v.9h-.9zM254.9 453.0h.9v.9h-.9zM249.3 452.0h.9v.9h-.9zM277.3 474.7h.9v.9h-.9zM250.0 451.5h.9v.9h-.9zM276.4 473.4h.9v.9h-.9zM253.6 454.1h.9v.9h-.9zM254.6 453.9h.9v.9h-.9zM254.3 452.9h.9v.9h-.9zM252.1 454.2h.9v.9h-.9zM254.8 452.4h.9v.9h-.9zM276.3 474.1h.9v.9h-.9zM255.6 451.0h.9v.9h-.9zM255.3 449.7h.9v.9h-.9zM255.1 451.0h.9v.9h-.9zM254.3 451.9h.9v.9h-.9zM257.6 450.3h.9v.9h-.9zM255.5 450.1h.9v.9h-.9zM256.0 450.7h.9v.9h-.9zM258.3 483.6h.9v.9h-.9zM262.7 481.8h.9v.9h-.9zM253.4 457.8h.9v.9h-.9zM252.9 459.3h.9v.9h-.9zM258.7 481.9h.9v.9h-.9zM274.6 441.6h.9v.9h-.9zM265.4 482.4h.9v.9h-.9zM253.2 459.6h.9v.9h-.9zM252.2 460.4h.9v.9h-.9zM259.1 479.9h.9v.9h-.9zM291.0 451.6h.9v.9h-.9zM293.9 451.8h.9v.9h-.9zM260.2 483.6h.9v.9h-.9zM253.4 459.8h.9v.9h-.9zM259.6 446.4h.9v.9h-.9zM260.5 482.8h.9v.9h-.9zM257.5 482.0h.9v.9h-.9zM254.3 459.8h.9v.9h-.9zM253.2 458.3h.9v.9h-.9zM259.5 481.6h.9v.9h-.9zM260.2 479.8h.9v.9h-.9zM254.6 458.8h.9v.9h-.9zM261.0 446.3h.9v.9h-.9zM259.5 481.6h.9v.9h-.9zM259.4 448.4h.9v.9h-.9zM264.6 484.3h.9v.9h-.9zM261.5 483.2h.9v.9h-.9zM253.0 460.2h.9v.9h-.9zM260.9 483.6h.9v.9h-.9zM256.9 482.4h.9v.9h-.9zM261.0 481.6h.9v.9h-.9zM262.7 484.4h.9v.9h-.9zM247.4 472.3h.9v.9h-.9zM288.5 462.7h.9v.9h-.9zM246.4 470.9h.9v.9h-.9zM248.0 470.8h.9v.9h-.9zM269.3 481.6h.9v.9h-.9zM249.2 455.5h.9v.9h-.9zM249.3 454.7h.9v.9h-.9zM249.7 456.1h.9v.9h-.9zM268.4 480.2h.9v.9h-.9zM269.4 478.9h.9v.9h-.9zM247.9 470.1h.9v.9h-.9zM247.5 471.1h.9v.9h-.9zM268.0 479.3h.9v.9h-.9zM246.2 470.6h.9v.9h-.9zM267.8 481.0h.9v.9h-.9zM288.6 463.3h.9v.9h-.9zM290.8 461.1h.9v.9h-.9zM288.2 440.7h.9v.9h-.9zM288.9 439.8h.9v.9h-.9zM288.1 440.8h.9v.9h-.9zM288.7 441.8h.9v.9h-.9zM284.2 441.0h.9v.9h-.9zM271.4 476.2h.9v.9h-.9zM291.8 445.3h.9v.9h-.9zM271.3 477.8h.9v.9h-.9zM290.6 440.3h.9v.9h-.9zM289.6 441.6h.9v.9h-.9zM291.0 442.4h.9v.9h-.9zM291.6 445.3h.9v.9h-.9zM272.2 478.0h.9v.9h-.9zM292.7 444.8h.9v.9h-.9zM250.1 461.1h.9v.9h-.9zM283.5 440.0h.9v.9h-.9zM291.3 443.3h.9v.9h-.9zM283.9 442.1h.9v.9h-.9zM270.9 475.9h.9v.9h-.9zM249.9 476.8h.9v.9h-.9zM272.4 481.6h.9v.9h-.9zM252.9 478.1h.9v.9h-.9zM249.2 477.0h.9v.9h-.9zM253.2 478.2h.9v.9h-.9zM251.3 476.6h.9v.9h-.9zM253.8 477.1h.9v.9h-.9zM270.7 481.6h.9v.9h-.9zM257.8 477.4h.9v.9h-.9zM252.0 477.5h.9v.9h-.9zM249.4 475.8h.9v.9h-.9zM250.6 477.1h.9v.9h-.9zM249.5 477.5h.9v.9h-.9zM255.0 476.0h.9v.9h-.9zM251.2 476.4h.9v.9h-.9zM249.4 477.4h.9v.9h-.9zM258.0 453.6h.9v.9h-.9zM248.1 475.5h.9v.9h-.9zM291.6 449.5h.9v.9h-.9zM291.3 450.4h.9v.9h-.9zM289.7 458.1h.9v.9h-.9zM253.1 457.3h.9v.9h-.9zM255.1 454.3h.9v.9h-.9zM292.0 448.8h.9v.9h-.9zM293.3 449.2h.9v.9h-.9zM252.4 474.5h.9v.9h-.9zM248.2 477.7h.9v.9h-.9zM290.6 459.0h.9v.9h-.9zM247.4 476.8h.9v.9h-.9zM246.7 472.9h.9v.9h-.9zM291.9 448.5h.9v.9h-.9zM290.8 458.3h.9v.9h-.9zM246.6 476.3h.9v.9h-.9zM256.3 453.7h.9v.9h-.9zM254.3 456.8h.9v.9h-.9zM248.8 474.8h.9v.9h-.9zM288.9 460.5h.9v.9h-.9zM246.0 475.2h.9v.9h-.9zM288.5 460.5h.9v.9h-.9zM288.9 459.5h.9v.9h-.9zM246.3 473.7h.9v.9h-.9zM253.9 472.7h.9v.9h-.9zM257.2 453.1h.9v.9h-.9zM248.7 473.0h.9v.9h-.9zM293.5 449.6h.9v.9h-.9zM248.8 478.1h.9v.9h-.9zM247.5 476.1h.9v.9h-.9zM277.4 440.5h.9v.9h-.9zM268.1 478.4h.9v.9h-.9zM269.7 478.2h.9v.9h-.9zM269.0 477.2h.9v.9h-.9zM276.9 441.7h.9v.9h-.9zM276.4 441.5h.9v.9h-.9zM263.7 446.2h.9v.9h-.9zM251.1 464.8h.9v.9h-.9zM278.4 441.2h.9v.9h-.9zM254.8 463.8h.9v.9h-.9zM269.0 477.6h.9v.9h-.9zM249.5 465.0h.9v.9h-.9zM268.7 476.7h.9v.9h-.9zM270.0 478.5h.9v.9h-.9zM254.1 464.5h.9v.9h-.9zM269.4 477.4h.9v.9h-.9zM276.5 440.5h.9v.9h-.9zM253.8 463.8h.9v.9h-.9zM268.7 478.1h.9v.9h-.9zM249.9 464.6h.9v.9h-.9zM261.5 446.7h.9v.9h-.9zM250.7 464.4h.9v.9h-.9zM262.6 446.9h.9v.9h-.9zM254.8 464.0h.9v.9h-.9zM254.2 463.9h.9v.9h-.9zM251.3 466.0h.9v.9h-.9zM249.6 463.9h.9v.9h-.9zM262.8 446.2h.9v.9h-.9zM252.5 464.8h.9v.9h-.9zM274.9 473.5h.9v.9h-.9zM267.6 476.4h.9v.9h-.9zM269.6 477.1h.9v.9h-.9zM255.2 460.1h.9v.9h-.9zM262.1 478.9h.9v.9h-.9zM262.5 481.3h.9v.9h-.9zM261.8 481.1h.9v.9h-.9zM263.7 479.1h.9v.9h-.9zM257.9 459.4h.9v.9h-.9zM262.2 481.6h.9v.9h-.9zM257.5 458.4h.9v.9h-.9zM256.8 459.7h.9v.9h-.9zM256.3 459.2h.9v.9h-.9zM261.1 480.3h.9v.9h-.9zM261.1 478.7h.9v.9h-.9zM253.1 466.6h.9v.9h-.9zM254.7 471.2h.9v.9h-.9zM254.0 468.0h.9v.9h-.9zM252.9 467.2h.9v.9h-.9zM253.2 460.9h.9v.9h-.9zM252.9 472.0h.9v.9h-.9zM254.3 469.5h.9v.9h-.9zM253.5 467.4h.9v.9h-.9zM252.8 469.2h.9v.9h-.9zM252.8 469.8h.9v.9h-.9zM252.2 468.0h.9v.9h-.9zM253.5 471.3h.9v.9h-.9zM252.7 463.1h.9v.9h-.9zM252.7 470.0h.9v.9h-.9zM252.4 468.7h.9v.9h-.9zM254.2 469.8h.9v.9h-.9zM252.3 471.5h.9v.9h-.9zM253.0 462.3h.9v.9h-.9zM253.6 467.5h.9v.9h-.9zM254.4 471.1h.9v.9h-.9zM257.7 455.1h.9v.9h-.9zM257.4 455.6h.9v.9h-.9zM291.2 446.7h.9v.9h-.9zM291.4 447.8h.9v.9h-.9zM250.8 470.5h.9v.9h-.9zM249.7 472.9h.9v.9h-.9zM271.8 443.2h.9v.9h-.9zM249.6 470.0h.9v.9h-.9zM291.0 447.3h.9v.9h-.9zM250.3 475.2h.9v.9h-.9zM255.9 454.5h.9v.9h-.9zM251.7 474.1h.9v.9h-.9zM292.1 446.0h.9v.9h-.9zM251.4 473.1h.9v.9h-.9zM251.4 474.8h.9v.9h-.9zM257.4 455.7h.9v.9h-.9zM249.6 473.1h.9v.9h-.9zM293.8 447.5h.9v.9h-.9zM280.0 440.8h.9v.9h-.9zM287.4 464.6h.9v.9h-.9zM250.3 468.7h.9v.9h-.9zM282.0 440.1h.9v.9h-.9zM280.1 441.3h.9v.9h-.9zM287.1 464.9h.9v.9h-.9zM287.7 463.6h.9v.9h-.9zM285.5 464.3h.9v.9h-.9zM287.0 463.6h.9v.9h-.9zM286.9 466.4h.9v.9h-.9zM251.8 469.1h.9v.9h-.9zM281.8 439.4h.9v.9h-.9zM281.4 441.5h.9v.9h-.9zM251.0 468.0h.9v.9h-.9zM286.3 465.0h.9v.9h-.9zM285.8 465.5h.9v.9h-.9zM287.1 465.4h.9v.9h-.9zM281.0 440.4h.9v.9h-.9zM285.6 440.0h.9v.9h-.9zM285.6 441.7h.9v.9h-.9zM255.6 474.4h.9v.9h-.9zM258.0 473.1h.9v.9h-.9zM281.4 471.1h.9v.9h-.9zM279.1 470.6h.9v.9h-.9zM256.1 475.1h.9v.9h-.9zM280.5 469.9h.9v.9h-.9zM265.8 478.9h.9v.9h-.9zM265.1 479.3h.9v.9h-.9zM266.8 479.8h.9v.9h-.9zM279.7 470.6h.9v.9h-.9zM256.8 475.2h.9v.9h-.9zM257.1 474.8h.9v.9h-.9zM256.7 473.5h.9v.9h-.9zM258.0 473.5h.9v.9h-.9zM264.1 480.1h.9v.9h-.9zM281.2 472.6h.9v.9h-.9zM265.6 480.5h.9v.9h-.9zM264.9 480.1h.9v.9h-.9zM266.4 480.5h.9v.9h-.9zM257.4 474.8h.9v.9h-.9zM260.9 476.9h.9v.9h-.9zM260.9 476.6h.9v.9h-.9zM261.0 450.9h.9v.9h-.9zM259.5 450.6h.9v.9h-.9zM258.4 476.3h.9v.9h-.9zM260.2 448.9h.9v.9h-.9zM260.3 477.7h.9v.9h-.9zM259.8 477.8h.9v.9h-.9zM261.0 448.8h.9v.9h-.9zM260.5 475.7h.9v.9h-.9zM263.8 477.1h.9v.9h-.9zM263.4 478.4h.9v.9h-.9zM258.2 473.4h.9v.9h-.9zM259.5 473.8h.9v.9h-.9zM261.6 478.1h.9v.9h-.9zM260.6 474.0h.9v.9h-.9zM259.4 473.6h.9v.9h-.9zM260.7 474.0h.9v.9h-.9zM260.9 473.8h.9v.9h-.9zM262.5 478.4h.9v.9h-.9zM261.8 478.0h.9v.9h-.9zM260.4 474.3h.9v.9h-.9zM262.9 477.4h.9v.9h-.9zM288.3 456.2h.9v.9h-.9zM264.9 478.5h.9v.9h-.9zM266.8 477.8h.9v.9h-.9zM266.5 476.0h.9v.9h-.9zM288.5 454.5h.9v.9h-.9zM264.3 477.8h.9v.9h-.9zM266.8 476.9h.9v.9h-.9zM290.3 454.5h.9v.9h-.9zM290.9 455.0h.9v.9h-.9zM290.5 456.8h.9v.9h-.9z"/><path fill="#3c50b0" d="M268.2 447.6h.9v.9h-.9zM265.3 446.8h.9v.9h-.9zM269.6 445.8h.9v.9h-.9zM269.4 447.2h.9v.9h-.9zM264.9 445.4h.9v.9h-.9zM264.4 446.6h.9v.9h-.9zM268.3 448.3h.9v.9h-.9zM260.8 458.8h.9v.9h-.9zM260.3 457.9h.9v.9h-.9zM282.5 468.0h.9v.9h-.9zM260.7 458.6h.9v.9h-.9zM259.9 458.3h.9v.9h-.9zM282.7 467.5h.9v.9h-.9zM282.4 469.5h.9v.9h-.9zM282.7 467.6h.9v.9h-.9zM282.8 467.7h.9v.9h-.9zM260.6 458.6h.9v.9h-.9zM284.5 468.1h.9v.9h-.9zM284.2 469.4h.9v.9h-.9zM278.1 469.7h.9v.9h-.9zM270.6 474.6h.9v.9h-.9zM277.3 470.6h.9v.9h-.9zM271.3 474.3h.9v.9h-.9zM270.8 473.5h.9v.9h-.9zM278.7 469.8h.9v.9h-.9zM278.0 470.0h.9v.9h-.9zM270.6 474.6h.9v.9h-.9zM277.0 471.7h.9v.9h-.9zM271.3 474.1h.9v.9h-.9zM278.6 471.5h.9v.9h-.9zM278.3 470.9h.9v.9h-.9zM287.4 461.9h.9v.9h-.9zM257.6 462.3h.9v.9h-.9zM255.6 461.4h.9v.9h-.9zM262.8 474.4h.9v.9h-.9zM258.9 452.4h.9v.9h-.9zM256.3 460.9h.9v.9h-.9zM257.0 462.6h.9v.9h-.9zM263.3 475.2h.9v.9h-.9zM255.7 462.5h.9v.9h-.9zM263.5 474.1h.9v.9h-.9zM261.5 473.6h.9v.9h-.9zM259.3 451.8h.9v.9h-.9zM262.3 473.3h.9v.9h-.9zM287.0 461.5h.9v.9h-.9zM257.7 461.6h.9v.9h-.9zM285.4 461.2h.9v.9h-.9zM263.1 473.0h.9v.9h-.9zM257.9 462.5h.9v.9h-.9zM256.6 463.3h.9v.9h-.9zM286.3 461.5h.9v.9h-.9zM274.3 472.0h.9v.9h-.9zM274.4 472.6h.9v.9h-.9zM273.8 471.9h.9v.9h-.9zM259.7 469.8h.9v.9h-.9zM260.6 471.9h.9v.9h-.9zM260.4 472.5h.9v.9h-.9zM260.9 471.4h.9v.9h-.9zM258.8 470.9h.9v.9h-.9zM260.1 472.4h.9v.9h-.9zM258.6 456.2h.9v.9h-.9zM260.2 454.6h.9v.9h-.9zM258.8 472.1h.9v.9h-.9zM259.0 456.9h.9v.9h-.9zM260.2 456.0h.9v.9h-.9zM259.8 469.6h.9v.9h-.9zM260.3 470.5h.9v.9h-.9zM259.7 456.5h.9v.9h-.9zM259.8 470.4h.9v.9h-.9zM260.9 454.6h.9v.9h-.9zM259.9 456.6h.9v.9h-.9zM261.3 450.6h.9v.9h-.9zM262.9 450.7h.9v.9h-.9zM262.7 451.3h.9v.9h-.9zM263.8 450.6h.9v.9h-.9zM261.4 449.4h.9v.9h-.9zM261.8 450.0h.9v.9h-.9zM261.8 449.3h.9v.9h-.9zM263.3 450.9h.9v.9h-.9zM263.7 449.7h.9v.9h-.9zM263.2 450.0h.9v.9h-.9zM263.8 450.3h.9v.9h-.9zM279.9 468.4h.9v.9h-.9zM281.5 468.4h.9v.9h-.9zM288.6 453.1h.9v.9h-.9zM285.6 458.0h.9v.9h-.9zM280.9 467.2h.9v.9h-.9zM280.8 467.6h.9v.9h-.9zM287.9 458.9h.9v.9h-.9zM290.3 453.6h.9v.9h-.9zM289.0 452.9h.9v.9h-.9zM281.6 467.2h.9v.9h-.9zM288.0 457.9h.9v.9h-.9zM281.4 467.6h.9v.9h-.9zM290.4 454.0h.9v.9h-.9zM288.0 453.6h.9v.9h-.9zM289.0 452.3h.9v.9h-.9zM290.9 452.1h.9v.9h-.9zM281.3 467.6h.9v.9h-.9zM281.0 467.3h.9v.9h-.9zM279.5 468.6h.9v.9h-.9zM289.2 452.6h.9v.9h-.9zM288.5 453.2h.9v.9h-.9zM280.3 467.0h.9v.9h-.9zM281.5 466.9h.9v.9h-.9zM286.7 459.5h.9v.9h-.9zM285.9 457.6h.9v.9h-.9zM257.8 464.6h.9v.9h-.9zM257.2 470.6h.9v.9h-.9zM255.7 471.4h.9v.9h-.9zM255.1 464.8h.9v.9h-.9zM257.4 470.2h.9v.9h-.9zM255.2 470.6h.9v.9h-.9zM255.0 465.5h.9v.9h-.9zM257.0 465.2h.9v.9h-.9zM289.3 445.3h.9v.9h-.9zM288.8 444.3h.9v.9h-.9zM288.1 444.1h.9v.9h-.9zM265.1 474.9h.9v.9h-.9zM270.4 471.7h.9v.9h-.9zM288.9 443.3h.9v.9h-.9zM271.1 470.6h.9v.9h-.9zM270.4 471.4h.9v.9h-.9zM290.8 443.0h.9v.9h-.9zM265.6 474.4h.9v.9h-.9zM288.6 444.8h.9v.9h-.9zM270.6 471.0h.9v.9h-.9zM270.1 470.9h.9v.9h-.9zM290.2 444.2h.9v.9h-.9zM270.6 470.4h.9v.9h-.9zM289.6 445.1h.9v.9h-.9zM289.9 444.2h.9v.9h-.9zM288.7 444.4h.9v.9h-.9zM270.0 469.9h.9v.9h-.9zM290.2 444.7h.9v.9h-.9zM270.7 469.8h.9v.9h-.9zM272.1 470.3h.9v.9h-.9zM270.8 472.3h.9v.9h-.9zM289.1 442.4h.9v.9h-.9zM266.5 473.8h.9v.9h-.9zM265.0 470.4h.9v.9h-.9zM265.2 470.1h.9v.9h-.9zM264.2 471.5h.9v.9h-.9zM266.2 471.1h.9v.9h-.9zM264.9 472.1h.9v.9h-.9zM265.4 470.0h.9v.9h-.9zM266.7 472.4h.9v.9h-.9zM264.3 469.9h.9v.9h-.9zM265.2 469.6h.9v.9h-.9zM265.6 472.5h.9v.9h-.9zM264.3 471.5h.9v.9h-.9zM275.7 443.3h.9v.9h-.9zM276.9 466.7h.9v.9h-.9zM273.6 443.6h.9v.9h-.9zM277.8 467.8h.9v.9h-.9zM277.8 467.4h.9v.9h-.9zM278.2 468.8h.9v.9h-.9zM275.2 445.1h.9v.9h-.9zM275.2 442.5h.9v.9h-.9zM278.6 467.0h.9v.9h-.9zM275.1 445.0h.9v.9h-.9zM277.9 468.9h.9v.9h-.9zM273.2 444.8h.9v.9h-.9zM275.5 445.1h.9v.9h-.9zM273.0 444.4h.9v.9h-.9zM261.8 469.6h.9v.9h-.9zM262.8 470.1h.9v.9h-.9zM261.1 470.1h.9v.9h-.9zM263.9 470.6h.9v.9h-.9zM269.9 475.0h.9v.9h-.9zM267.8 474.4h.9v.9h-.9zM267.9 473.4h.9v.9h-.9zM269.5 474.7h.9v.9h-.9zM273.2 466.7h.9v.9h-.9zM275.1 466.9h.9v.9h-.9zM275.7 468.1h.9v.9h-.9zM274.8 468.2h.9v.9h-.9zM283.5 464.0h.9v.9h-.9zM274.2 468.4h.9v.9h-.9zM284.1 465.2h.9v.9h-.9zM283.2 463.8h.9v.9h-.9zM284.3 466.1h.9v.9h-.9zM283.0 465.6h.9v.9h-.9zM284.6 464.8h.9v.9h-.9zM283.3 464.0h.9v.9h-.9zM283.1 465.2h.9v.9h-.9zM275.1 467.5h.9v.9h-.9zM274.6 468.3h.9v.9h-.9zM283.0 463.7h.9v.9h-.9zM273.7 468.3h.9v.9h-.9zM284.6 466.1h.9v.9h-.9zM273.9 467.2h.9v.9h-.9zM276.0 469.1h.9v.9h-.9zM263.1 459.6h.9v.9h-.9zM263.8 458.0h.9v.9h-.9zM262.5 460.0h.9v.9h-.9zM263.8 458.5h.9v.9h-.9zM262.3 458.9h.9v.9h-.9zM262.6 459.0h.9v.9h-.9zM262.2 460.4h.9v.9h-.9zM263.9 460.1h.9v.9h-.9zM261.9 459.7h.9v.9h-.9zM262.5 458.4h.9v.9h-.9zM261.4 460.2h.9v.9h-.9zM262.4 459.0h.9v.9h-.9zM263.2 460.0h.9v.9h-.9zM263.5 459.1h.9v.9h-.9zM270.0 446.8h.9v.9h-.9zM270.3 447.4h.9v.9h-.9zM257.2 469.3h.9v.9h-.9zM256.7 469.4h.9v.9h-.9zM271.5 447.9h.9v.9h-.9zM272.7 447.0h.9v.9h-.9zM257.0 467.8h.9v.9h-.9zM272.4 447.2h.9v.9h-.9zM271.8 447.0h.9v.9h-.9zM270.4 446.1h.9v.9h-.9zM256.5 467.4h.9v.9h-.9zM272.6 446.8h.9v.9h-.9zM257.3 469.0h.9v.9h-.9zM260.1 465.8h.9v.9h-.9zM259.7 465.9h.9v.9h-.9zM259.3 464.8h.9v.9h-.9zM290.4 449.7h.9v.9h-.9zM260.4 465.3h.9v.9h-.9zM260.9 466.1h.9v.9h-.9zM258.1 465.3h.9v.9h-.9zM258.3 465.8h.9v.9h-.9zM290.0 449.0h.9v.9h-.9zM259.4 465.5h.9v.9h-.9zM259.1 464.7h.9v.9h-.9zM259.0 463.8h.9v.9h-.9zM260.7 466.1h.9v.9h-.9zM259.0 464.3h.9v.9h-.9zM288.9 448.7h.9v.9h-.9zM260.7 464.2h.9v.9h-.9zM260.0 463.7h.9v.9h-.9zM258.4 464.0h.9v.9h-.9zM288.9 449.0h.9v.9h-.9zM290.1 450.7h.9v.9h-.9zM290.7 450.0h.9v.9h-.9zM289.6 451.4h.9v.9h-.9zM290.1 449.5h.9v.9h-.9zM270.0 471.8h.9v.9h-.9zM268.2 470.4h.9v.9h-.9zM269.5 472.3h.9v.9h-.9zM269.5 470.0h.9v.9h-.9zM267.3 472.1h.9v.9h-.9zM267.4 472.0h.9v.9h-.9zM268.1 470.3h.9v.9h-.9zM268.4 470.2h.9v.9h-.9zM268.3 469.8h.9v.9h-.9zM268.0 469.7h.9v.9h-.9zM269.0 472.6h.9v.9h-.9zM269.2 470.9h.9v.9h-.9zM269.9 472.1h.9v.9h-.9zM268.1 470.3h.9v.9h-.9zM269.8 472.3h.9v.9h-.9zM260.9 469.2h.9v.9h-.9zM278.8 444.1h.9v.9h-.9zM276.8 444.7h.9v.9h-.9zM259.9 467.0h.9v.9h-.9zM276.7 444.7h.9v.9h-.9zM277.9 443.3h.9v.9h-.9zM259.6 461.2h.9v.9h-.9zM276.5 442.8h.9v.9h-.9zM259.6 468.7h.9v.9h-.9zM258.4 462.0h.9v.9h-.9zM260.5 469.0h.9v.9h-.9zM278.7 442.5h.9v.9h-.9zM276.2 445.3h.9v.9h-.9zM278.8 445.2h.9v.9h-.9zM259.6 469.0h.9v.9h-.9zM258.8 469.5h.9v.9h-.9zM276.2 445.1h.9v.9h-.9zM259.0 469.4h.9v.9h-.9zM258.1 461.6h.9v.9h-.9zM260.4 466.8h.9v.9h-.9zM278.1 443.8h.9v.9h-.9zM278.8 443.9h.9v.9h-.9zM258.3 467.5h.9v.9h-.9zM278.2 444.3h.9v.9h-.9zM259.6 467.0h.9v.9h-.9zM278.5 442.7h.9v.9h-.9zM263.0 452.2h.9v.9h-.9zM288.4 446.7h.9v.9h-.9zM262.8 453.8h.9v.9h-.9zM263.1 454.2h.9v.9h-.9zM263.9 452.6h.9v.9h-.9zM289.1 447.0h.9v.9h-.9zM261.7 453.9h.9v.9h-.9zM263.0 453.3h.9v.9h-.9zM290.6 448.1h.9v.9h-.9zM263.6 454.0h.9v.9h-.9zM290.5 446.0h.9v.9h-.9zM261.1 453.3h.9v.9h-.9zM262.4 453.5h.9v.9h-.9zM262.5 454.1h.9v.9h-.9zM263.2 452.5h.9v.9h-.9zM290.2 446.0h.9v.9h-.9zM261.3 453.9h.9v.9h-.9zM263.9 453.8h.9v.9h-.9zM291.0 446.0h.9v.9h-.9zM272.5 468.3h.9v.9h-.9zM271.1 466.9h.9v.9h-.9zM270.6 469.3h.9v.9h-.9zM271.7 467.9h.9v.9h-.9zM271.4 466.9h.9v.9h-.9zM270.2 467.6h.9v.9h-.9zM272.2 467.0h.9v.9h-.9zM271.2 467.1h.9v.9h-.9zM272.0 467.2h.9v.9h-.9zM270.4 469.1h.9v.9h-.9zM263.4 457.3h.9v.9h-.9zM283.8 463.4h.9v.9h-.9zM262.2 456.6h.9v.9h-.9zM283.9 463.1h.9v.9h-.9zM263.5 455.3h.9v.9h-.9zM282.9 462.3h.9v.9h-.9zM283.2 461.2h.9v.9h-.9zM284.5 462.1h.9v.9h-.9zM283.2 462.9h.9v.9h-.9zM284.4 461.1h.9v.9h-.9zM263.9 457.4h.9v.9h-.9zM283.2 460.5h.9v.9h-.9zM261.8 456.9h.9v.9h-.9zM263.1 457.1h.9v.9h-.9zM280.4 464.7h.9v.9h-.9zM281.9 464.9h.9v.9h-.9zM279.8 463.6h.9v.9h-.9zM280.8 463.7h.9v.9h-.9zM281.5 466.0h.9v.9h-.9zM281.6 463.9h.9v.9h-.9zM281.2 465.2h.9v.9h-.9zM280.1 465.0h.9v.9h-.9zM286.7 457.1h.9v.9h-.9zM286.6 456.4h.9v.9h-.9zM286.7 457.2h.9v.9h-.9zM286.0 456.9h.9v.9h-.9zM286.8 454.6h.9v.9h-.9zM285.3 456.1h.9v.9h-.9zM285.4 457.1h.9v.9h-.9zM285.4 456.0h.9v.9h-.9zM286.9 456.8h.9v.9h-.9zM285.0 443.8h.9v.9h-.9zM284.9 443.7h.9v.9h-.9zM264.5 449.5h.9v.9h-.9zM284.5 443.1h.9v.9h-.9zM266.8 451.2h.9v.9h-.9zM282.2 443.6h.9v.9h-.9zM266.4 450.9h.9v.9h-.9zM282.8 445.1h.9v.9h-.9zM266.2 449.5h.9v.9h-.9zM265.5 450.9h.9v.9h-.9zM282.4 443.3h.9v.9h-.9zM266.5 451.3h.9v.9h-.9zM283.7 443.8h.9v.9h-.9zM284.1 443.3h.9v.9h-.9zM266.3 450.5h.9v.9h-.9zM264.1 448.5h.9v.9h-.9zM282.9 444.4h.9v.9h-.9zM284.7 445.2h.9v.9h-.9zM286.4 445.1h.9v.9h-.9zM283.5 459.6h.9v.9h-.9zM282.2 460.4h.9v.9h-.9zM283.0 457.9h.9v.9h-.9zM284.7 459.1h.9v.9h-.9zM285.9 443.2h.9v.9h-.9zM282.3 458.0h.9v.9h-.9zM285.4 445.3h.9v.9h-.9zM286.4 445.1h.9v.9h-.9zM284.2 459.6h.9v.9h-.9zM282.6 457.6h.9v.9h-.9zM282.2 458.7h.9v.9h-.9zM286.1 443.5h.9v.9h-.9zM283.3 458.2h.9v.9h-.9zM288.0 445.1h.9v.9h-.9zM283.9 458.7h.9v.9h-.9zM282.9 458.7h.9v.9h-.9zM287.6 443.2h.9v.9h-.9zM285.6 443.4h.9v.9h-.9zM285.5 442.5h.9v.9h-.9zM285.8 443.7h.9v.9h-.9zM280.7 442.4h.9v.9h-.9zM280.5 444.2h.9v.9h-.9zM279.8 444.9h.9v.9h-.9zM281.3 443.9h.9v.9h-.9zM279.5 442.8h.9v.9h-.9zM281.8 442.4h.9v.9h-.9zM281.2 445.2h.9v.9h-.9zM262.8 464.3h.9v.9h-.9zM262.2 463.6h.9v.9h-.9zM262.3 465.0h.9v.9h-.9zM262.8 464.8h.9v.9h-.9zM262.2 464.9h.9v.9h-.9zM264.0 464.5h.9v.9h-.9zM263.4 464.6h.9v.9h-.9zM268.5 451.0h.9v.9h-.9zM263.2 465.7h.9v.9h-.9zM262.5 464.2h.9v.9h-.9zM263.2 465.6h.9v.9h-.9zM269.9 450.8h.9v.9h-.9zM262.3 464.1h.9v.9h-.9zM269.8 451.0h.9v.9h-.9zM269.1 449.0h.9v.9h-.9zM268.3 451.4h.9v.9h-.9zM261.5 466.4h.9v.9h-.9zM261.3 465.7h.9v.9h-.9zM268.4 450.0h.9v.9h-.9zM267.6 449.8h.9v.9h-.9zM269.5 450.0h.9v.9h-.9zM262.8 466.5h.9v.9h-.9zM261.0 464.6h.9v.9h-.9zM264.0 464.3h.9v.9h-.9zM270.0 449.2h.9v.9h-.9zM262.0 465.7h.9v.9h-.9zM267.9 449.5h.9v.9h-.9z"/><path fill="#3a78c6" d="M287.9 452.9h.9v.9h-.9zM287.6 453.1h.9v.9h-.9zM288.0 451.9h.9v.9h-.9zM285.1 453.4h.9v.9h-.9zM276.4 465.4h.9v.9h-.9zM286.9 454.3h.9v.9h-.9zM276.7 464.9h.9v.9h-.9zM287.1 454.1h.9v.9h-.9zM286.5 453.3h.9v.9h-.9zM278.5 465.1h.9v.9h-.9zM287.2 451.9h.9v.9h-.9zM276.0 465.0h.9v.9h-.9zM285.1 451.7h.9v.9h-.9zM277.6 464.9h.9v.9h-.9zM276.2 464.9h.9v.9h-.9zM287.1 453.9h.9v.9h-.9zM285.4 454.3h.9v.9h-.9zM278.2 464.6h.9v.9h-.9zM277.2 466.2h.9v.9h-.9zM273.2 464.1h.9v.9h-.9zM264.7 467.5h.9v.9h-.9zM266.7 469.4h.9v.9h-.9zM265.6 468.5h.9v.9h-.9zM275.3 465.9h.9v.9h-.9zM264.3 469.0h.9v.9h-.9zM274.5 464.8h.9v.9h-.9zM274.6 464.9h.9v.9h-.9zM263.3 461.2h.9v.9h-.9zM267.0 468.4h.9v.9h-.9zM262.2 460.8h.9v.9h-.9zM263.1 462.9h.9v.9h-.9zM269.3 469.2h.9v.9h-.9zM275.9 465.8h.9v.9h-.9zM266.5 468.2h.9v.9h-.9zM266.1 468.6h.9v.9h-.9zM263.9 461.5h.9v.9h-.9zM266.0 468.5h.9v.9h-.9zM267.3 467.3h.9v.9h-.9zM265.3 468.3h.9v.9h-.9zM268.1 468.0h.9v.9h-.9zM269.2 467.5h.9v.9h-.9zM274.1 464.0h.9v.9h-.9zM274.4 465.1h.9v.9h-.9zM266.7 468.0h.9v.9h-.9zM266.8 469.4h.9v.9h-.9zM274.7 463.7h.9v.9h-.9zM269.6 468.5h.9v.9h-.9zM280.3 460.6h.9v.9h-.9zM265.0 466.2h.9v.9h-.9zM265.1 463.7h.9v.9h-.9zM265.8 465.7h.9v.9h-.9zM265.2 463.6h.9v.9h-.9zM279.2 461.3h.9v.9h-.9zM266.7 466.4h.9v.9h-.9zM265.8 465.7h.9v.9h-.9zM281.3 460.8h.9v.9h-.9zM279.1 462.3h.9v.9h-.9zM280.1 461.1h.9v.9h-.9zM265.7 465.7h.9v.9h-.9zM265.2 464.3h.9v.9h-.9zM264.2 466.2h.9v.9h-.9zM281.3 463.5h.9v.9h-.9zM280.7 461.5h.9v.9h-.9zM280.1 462.1h.9v.9h-.9zM264.3 464.1h.9v.9h-.9zM264.6 466.4h.9v.9h-.9zM266.8 463.5h.9v.9h-.9zM264.3 464.8h.9v.9h-.9zM266.6 464.2h.9v.9h-.9zM281.4 461.3h.9v.9h-.9zM266.1 465.3h.9v.9h-.9zM266.3 464.4h.9v.9h-.9zM272.1 466.0h.9v.9h-.9zM272.2 464.1h.9v.9h-.9zM271.3 464.3h.9v.9h-.9zM265.1 459.3h.9v.9h-.9zM265.3 457.6h.9v.9h-.9zM271.5 464.5h.9v.9h-.9zM265.4 457.7h.9v.9h-.9zM270.8 465.8h.9v.9h-.9zM264.1 458.2h.9v.9h-.9zM264.3 459.6h.9v.9h-.9zM264.9 458.0h.9v.9h-.9zM266.2 460.3h.9v.9h-.9zM271.1 466.4h.9v.9h-.9zM264.7 460.5h.9v.9h-.9zM266.2 458.2h.9v.9h-.9zM271.7 464.7h.9v.9h-.9zM261.1 467.1h.9v.9h-.9zM261.8 468.0h.9v.9h-.9zM261.7 467.1h.9v.9h-.9zM267.3 463.8h.9v.9h-.9zM269.7 465.0h.9v.9h-.9zM269.3 464.3h.9v.9h-.9zM269.1 463.7h.9v.9h-.9zM261.9 467.7h.9v.9h-.9zM267.2 464.2h.9v.9h-.9zM263.8 468.5h.9v.9h-.9zM261.9 467.4h.9v.9h-.9zM269.8 466.1h.9v.9h-.9zM267.8 466.3h.9v.9h-.9zM267.1 463.6h.9v.9h-.9zM284.0 455.5h.9v.9h-.9zM284.8 454.9h.9v.9h-.9zM283.3 454.9h.9v.9h-.9zM282.5 455.8h.9v.9h-.9zM282.1 456.9h.9v.9h-.9zM283.0 454.5h.9v.9h-.9zM282.9 455.3h.9v.9h-.9zM284.4 457.1h.9v.9h-.9zM284.9 456.1h.9v.9h-.9zM282.5 456.1h.9v.9h-.9zM283.8 456.4h.9v.9h-.9zM275.8 448.3h.9v.9h-.9zM274.7 447.3h.9v.9h-.9zM275.3 448.3h.9v.9h-.9zM275.9 446.4h.9v.9h-.9zM275.0 447.1h.9v.9h-.9zM275.9 447.0h.9v.9h-.9zM276.0 447.9h.9v.9h-.9zM274.1 447.8h.9v.9h-.9zM273.0 447.4h.9v.9h-.9zM287.2 448.4h.9v.9h-.9zM285.3 446.8h.9v.9h-.9zM288.0 446.7h.9v.9h-.9zM285.8 447.9h.9v.9h-.9zM285.1 445.9h.9v.9h-.9zM286.3 446.2h.9v.9h-.9zM285.2 447.8h.9v.9h-.9zM286.5 445.9h.9v.9h-.9zM266.0 453.7h.9v.9h-.9zM264.1 453.2h.9v.9h-.9zM264.1 452.0h.9v.9h-.9zM264.2 453.2h.9v.9h-.9zM266.8 453.3h.9v.9h-.9zM286.5 446.6h.9v.9h-.9zM287.2 445.6h.9v.9h-.9zM266.7 454.0h.9v.9h-.9zM264.0 451.5h.9v.9h-.9zM264.9 453.6h.9v.9h-.9zM286.1 447.7h.9v.9h-.9zM264.2 452.1h.9v.9h-.9zM264.0 454.4h.9v.9h-.9zM286.4 445.8h.9v.9h-.9zM287.2 447.8h.9v.9h-.9zM285.9 446.2h.9v.9h-.9zM287.4 445.4h.9v.9h-.9zM287.5 447.9h.9v.9h-.9zM265.6 454.3h.9v.9h-.9zM264.2 454.1h.9v.9h-.9zM266.5 454.0h.9v.9h-.9zM268.6 461.0h.9v.9h-.9zM269.6 461.0h.9v.9h-.9zM269.6 463.5h.9v.9h-.9zM265.6 462.0h.9v.9h-.9zM266.7 463.1h.9v.9h-.9zM268.0 463.2h.9v.9h-.9zM264.5 461.1h.9v.9h-.9zM265.3 463.1h.9v.9h-.9zM266.3 461.1h.9v.9h-.9zM269.1 461.6h.9v.9h-.9zM269.3 461.9h.9v.9h-.9zM267.1 461.0h.9v.9h-.9zM267.6 462.2h.9v.9h-.9zM267.8 461.4h.9v.9h-.9zM267.4 461.8h.9v.9h-.9zM264.3 461.5h.9v.9h-.9zM264.7 460.9h.9v.9h-.9zM266.9 461.5h.9v.9h-.9zM266.7 461.8h.9v.9h-.9zM269.8 463.3h.9v.9h-.9zM268.2 461.6h.9v.9h-.9zM268.6 461.3h.9v.9h-.9zM268.4 462.6h.9v.9h-.9zM268.5 462.8h.9v.9h-.9zM268.9 462.7h.9v.9h-.9zM268.2 462.3h.9v.9h-.9zM268.0 461.4h.9v.9h-.9zM268.3 461.5h.9v.9h-.9zM266.8 461.0h.9v.9h-.9zM269.2 462.1h.9v.9h-.9zM278.7 461.0h.9v.9h-.9zM264.7 456.8h.9v.9h-.9zM277.3 461.7h.9v.9h-.9zM276.6 461.8h.9v.9h-.9zM276.7 462.9h.9v.9h-.9zM264.6 455.2h.9v.9h-.9zM265.8 455.2h.9v.9h-.9zM264.2 455.5h.9v.9h-.9zM266.4 455.7h.9v.9h-.9zM276.1 463.3h.9v.9h-.9zM277.9 461.1h.9v.9h-.9zM278.7 462.9h.9v.9h-.9zM266.9 455.8h.9v.9h-.9zM266.0 457.0h.9v.9h-.9zM276.2 463.5h.9v.9h-.9zM266.5 454.8h.9v.9h-.9zM264.7 456.5h.9v.9h-.9zM278.6 462.0h.9v.9h-.9zM278.6 462.7h.9v.9h-.9zM266.6 455.0h.9v.9h-.9zM277.7 461.9h.9v.9h-.9zM277.8 461.9h.9v.9h-.9zM264.1 454.8h.9v.9h-.9zM276.1 460.7h.9v.9h-.9zM276.9 463.2h.9v.9h-.9zM277.4 461.0h.9v.9h-.9zM265.6 454.8h.9v.9h-.9zM273.4 462.5h.9v.9h-.9zM275.8 461.9h.9v.9h-.9zM275.0 461.3h.9v.9h-.9zM286.7 450.6h.9v.9h-.9zM275.1 461.1h.9v.9h-.9zM285.2 448.7h.9v.9h-.9zM273.3 461.0h.9v.9h-.9zM275.8 461.0h.9v.9h-.9zM275.9 461.5h.9v.9h-.9zM285.4 448.8h.9v.9h-.9zM287.0 450.2h.9v.9h-.9zM274.7 462.4h.9v.9h-.9zM287.5 450.9h.9v.9h-.9zM274.2 461.0h.9v.9h-.9zM286.2 450.2h.9v.9h-.9zM274.6 461.3h.9v.9h-.9zM285.2 449.7h.9v.9h-.9zM273.9 461.4h.9v.9h-.9zM275.6 461.4h.9v.9h-.9zM274.2 461.7h.9v.9h-.9zM287.9 450.6h.9v.9h-.9zM287.6 449.7h.9v.9h-.9zM275.8 461.2h.9v.9h-.9zM275.5 460.7h.9v.9h-.9zM276.0 460.7h.9v.9h-.9zM275.8 461.9h.9v.9h-.9zM272.7 449.6h.9v.9h-.9zM272.5 451.1h.9v.9h-.9zM272.9 451.0h.9v.9h-.9zM271.6 450.5h.9v.9h-.9zM272.6 450.5h.9v.9h-.9zM270.0 451.0h.9v.9h-.9zM271.3 451.1h.9v.9h-.9zM270.9 448.5h.9v.9h-.9zM271.3 450.1h.9v.9h-.9zM271.3 450.5h.9v.9h-.9zM270.4 450.8h.9v.9h-.9zM271.5 450.7h.9v.9h-.9zM272.7 461.7h.9v.9h-.9zM273.0 462.0h.9v.9h-.9zM271.1 462.0h.9v.9h-.9zM270.9 460.7h.9v.9h-.9zM270.0 462.9h.9v.9h-.9zM271.1 461.5h.9v.9h-.9zM270.0 460.7h.9v.9h-.9zM271.3 463.0h.9v.9h-.9zM272.8 460.9h.9v.9h-.9zM271.2 461.1h.9v.9h-.9zM271.8 462.9h.9v.9h-.9zM271.6 461.0h.9v.9h-.9zM281.9 458.3h.9v.9h-.9zM279.2 458.5h.9v.9h-.9zM281.7 458.6h.9v.9h-.9zM279.7 457.9h.9v.9h-.9zM281.5 457.9h.9v.9h-.9zM280.8 458.5h.9v.9h-.9zM280.2 460.3h.9v.9h-.9zM281.1 459.3h.9v.9h-.9zM281.5 460.5h.9v.9h-.9zM279.2 458.2h.9v.9h-.9zM281.4 459.7h.9v.9h-.9zM280.1 459.3h.9v.9h-.9zM280.7 459.6h.9v.9h-.9zM279.4 460.0h.9v.9h-.9zM280.0 457.5h.9v.9h-.9zM281.2 460.2h.9v.9h-.9zM281.3 459.1h.9v.9h-.9zM285.0 452.7h.9v.9h-.9zM283.8 453.2h.9v.9h-.9zM284.7 452.3h.9v.9h-.9zM283.7 453.9h.9v.9h-.9zM284.6 452.2h.9v.9h-.9zM284.6 452.8h.9v.9h-.9zM282.8 451.8h.9v.9h-.9zM283.9 452.4h.9v.9h-.9zM283.6 452.2h.9v.9h-.9zM284.9 451.8h.9v.9h-.9zM283.8 453.4h.9v.9h-.9zM283.5 452.0h.9v.9h-.9zM284.9 452.5h.9v.9h-.9zM284.3 453.6h.9v.9h-.9zM284.1 453.2h.9v.9h-.9zM284.6 452.9h.9v.9h-.9zM283.9 446.4h.9v.9h-.9zM284.1 446.6h.9v.9h-.9zM282.4 447.1h.9v.9h-.9zM283.1 447.2h.9v.9h-.9zM282.8 445.6h.9v.9h-.9zM282.7 445.5h.9v.9h-.9zM282.3 447.5h.9v.9h-.9zM284.3 446.0h.9v.9h-.9zM284.9 446.0h.9v.9h-.9zM283.3 447.9h.9v.9h-.9zM284.3 447.7h.9v.9h-.9zM284.6 445.4h.9v.9h-.9zM283.6 448.1h.9v.9h-.9zM283.9 446.4h.9v.9h-.9zM282.8 448.0h.9v.9h-.9zM285.0 448.1h.9v.9h-.9zM283.8 446.9h.9v.9h-.9zM284.7 445.5h.9v.9h-.9zM283.1 446.2h.9v.9h-.9zM282.7 448.2h.9v.9h-.9zM268.7 457.8h.9v.9h-.9zM278.4 447.7h.9v.9h-.9zM277.8 446.0h.9v.9h-.9zM278.2 448.1h.9v.9h-.9zM277.2 446.1h.9v.9h-.9zM268.1 452.4h.9v.9h-.9zM267.6 452.2h.9v.9h-.9zM269.7 459.9h.9v.9h-.9zM269.4 453.9h.9v.9h-.9zM268.6 458.7h.9v.9h-.9zM276.8 447.2h.9v.9h-.9zM269.6 453.6h.9v.9h-.9zM268.4 453.3h.9v.9h-.9zM268.8 453.6h.9v.9h-.9zM277.1 446.1h.9v.9h-.9zM267.5 453.9h.9v.9h-.9zM269.7 460.4h.9v.9h-.9zM278.8 445.4h.9v.9h-.9zM269.5 460.2h.9v.9h-.9zM268.5 453.1h.9v.9h-.9zM267.5 452.5h.9v.9h-.9zM269.0 451.5h.9v.9h-.9zM277.0 448.2h.9v.9h-.9zM279.0 447.7h.9v.9h-.9zM267.4 453.3h.9v.9h-.9zM277.3 447.8h.9v.9h-.9zM269.6 452.2h.9v.9h-.9zM267.5 451.9h.9v.9h-.9zM269.0 459.2h.9v.9h-.9zM269.1 460.4h.9v.9h-.9zM268.8 452.3h.9v.9h-.9zM269.7 453.8h.9v.9h-.9zM269.2 452.7h.9v.9h-.9zM278.7 448.3h.9v.9h-.9zM267.5 459.9h.9v.9h-.9zM268.3 454.4h.9v.9h-.9zM278.2 446.5h.9v.9h-.9zM278.4 446.8h.9v.9h-.9zM276.6 447.8h.9v.9h-.9zM277.5 446.8h.9v.9h-.9zM268.9 457.9h.9v.9h-.9zM269.4 452.3h.9v.9h-.9zM277.2 445.6h.9v.9h-.9z"/><path fill="#3aa6c8" d="M269.5 455.5h.9v.9h-.9zM268.0 454.5h.9v.9h-.9zM268.1 456.2h.9v.9h-.9zM268.8 456.9h.9v.9h-.9zM267.4 456.1h.9v.9h-.9zM267.8 454.5h.9v.9h-.9zM268.5 455.6h.9v.9h-.9zM267.6 456.9h.9v.9h-.9zM270.0 454.8h.9v.9h-.9zM268.3 457.5h.9v.9h-.9zM269.2 456.4h.9v.9h-.9zM268.0 456.3h.9v.9h-.9zM267.4 456.0h.9v.9h-.9zM269.2 454.6h.9v.9h-.9zM284.2 448.6h.9v.9h-.9zM284.7 449.7h.9v.9h-.9zM282.2 449.2h.9v.9h-.9zM282.1 448.5h.9v.9h-.9zM282.1 450.8h.9v.9h-.9zM282.8 451.2h.9v.9h-.9zM283.3 450.0h.9v.9h-.9zM282.8 450.2h.9v.9h-.9zM283.6 450.6h.9v.9h-.9zM282.4 449.8h.9v.9h-.9zM282.3 449.5h.9v.9h-.9zM283.9 449.2h.9v.9h-.9zM284.1 449.2h.9v.9h-.9zM283.3 449.1h.9v.9h-.9zM281.1 447.9h.9v.9h-.9zM281.6 447.4h.9v.9h-.9zM279.2 446.8h.9v.9h-.9zM281.9 445.9h.9v.9h-.9zM279.7 448.1h.9v.9h-.9zM281.9 447.4h.9v.9h-.9zM280.2 447.3h.9v.9h-.9zM280.2 446.2h.9v.9h-.9zM279.1 446.4h.9v.9h-.9zM280.9 446.1h.9v.9h-.9zM280.3 454.5h.9v.9h-.9zM281.4 455.9h.9v.9h-.9zM281.2 455.8h.9v.9h-.9zM279.4 455.5h.9v.9h-.9zM279.6 456.1h.9v.9h-.9zM281.0 455.5h.9v.9h-.9zM279.7 454.6h.9v.9h-.9zM280.5 455.4h.9v.9h-.9zM279.7 455.7h.9v.9h-.9zM280.3 455.3h.9v.9h-.9zM281.6 455.1h.9v.9h-.9zM281.8 456.4h.9v.9h-.9zM275.6 451.4h.9v.9h-.9zM274.0 448.8h.9v.9h-.9zM274.9 449.0h.9v.9h-.9zM274.4 450.6h.9v.9h-.9zM274.4 450.8h.9v.9h-.9zM275.7 449.3h.9v.9h-.9zM275.4 450.9h.9v.9h-.9zM274.8 449.1h.9v.9h-.9zM274.1 449.2h.9v.9h-.9zM275.9 450.6h.9v.9h-.9zM274.7 448.8h.9v.9h-.9zM275.7 450.4h.9v.9h-.9zM273.4 449.8h.9v.9h-.9zM273.6 449.3h.9v.9h-.9zM273.8 450.4h.9v.9h-.9zM278.2 458.3h.9v.9h-.9zM276.6 457.7h.9v.9h-.9zM276.8 459.5h.9v.9h-.9zM276.6 459.6h.9v.9h-.9zM278.9 457.8h.9v.9h-.9zM277.9 459.0h.9v.9h-.9zM278.9 459.1h.9v.9h-.9zM279.0 457.8h.9v.9h-.9zM276.0 458.3h.9v.9h-.9zM276.2 460.4h.9v.9h-.9zM278.7 458.0h.9v.9h-.9z"/><path fill="#48c2a0" d="M278.3 451.0h.9v.9h-.9zM272.8 453.2h.9v.9h-.9zM278.1 448.6h.9v.9h-.9zM272.7 457.6h.9v.9h-.9zM272.6 458.8h.9v.9h-.9zM271.6 451.7h.9v.9h-.9zM271.6 458.9h.9v.9h-.9zM272.2 454.1h.9v.9h-.9zM272.9 459.3h.9v.9h-.9zM278.4 450.6h.9v.9h-.9zM272.2 451.5h.9v.9h-.9zM276.1 448.8h.9v.9h-.9zM271.5 457.9h.9v.9h-.9zM277.4 449.9h.9v.9h-.9zM272.4 454.0h.9v.9h-.9zM272.5 458.0h.9v.9h-.9zM277.1 448.7h.9v.9h-.9zM277.7 451.4h.9v.9h-.9zM270.8 451.9h.9v.9h-.9zM272.1 451.7h.9v.9h-.9zM277.1 450.7h.9v.9h-.9zM276.2 449.5h.9v.9h-.9zM270.6 453.1h.9v.9h-.9zM272.5 453.3h.9v.9h-.9zM276.8 449.2h.9v.9h-.9zM271.6 453.3h.9v.9h-.9zM276.5 450.9h.9v.9h-.9zM271.3 460.2h.9v.9h-.9zM271.8 460.3h.9v.9h-.9zM271.7 459.7h.9v.9h-.9zM271.8 453.1h.9v.9h-.9zM276.4 450.8h.9v.9h-.9zM276.9 449.0h.9v.9h-.9zM270.3 460.2h.9v.9h-.9zM272.2 453.1h.9v.9h-.9zM270.7 459.6h.9v.9h-.9zM272.5 459.6h.9v.9h-.9zM271.8 458.1h.9v.9h-.9zM272.2 458.7h.9v.9h-.9zM270.5 459.3h.9v.9h-.9zM276.3 449.3h.9v.9h-.9zM271.6 453.9h.9v.9h-.9zM276.3 450.3h.9v.9h-.9zM278.6 448.8h.9v.9h-.9zM277.5 450.3h.9v.9h-.9zM277.6 450.2h.9v.9h-.9zM271.8 453.8h.9v.9h-.9zM276.2 451.3h.9v.9h-.9zM272.9 454.0h.9v.9h-.9zM276.6 449.5h.9v.9h-.9zM272.6 457.7h.9v.9h-.9zM270.5 456.5h.9v.9h-.9zM273.9 458.1h.9v.9h-.9zM275.0 460.5h.9v.9h-.9zM272.4 456.6h.9v.9h-.9zM275.3 457.7h.9v.9h-.9zM270.7 455.6h.9v.9h-.9zM275.2 459.6h.9v.9h-.9zM271.2 456.2h.9v.9h-.9zM270.9 456.0h.9v.9h-.9zM271.6 457.4h.9v.9h-.9zM274.9 458.8h.9v.9h-.9zM275.3 458.0h.9v.9h-.9zM272.6 455.9h.9v.9h-.9zM273.7 460.1h.9v.9h-.9zM275.7 459.1h.9v.9h-.9zM272.2 454.7h.9v.9h-.9zM275.9 460.2h.9v.9h-.9zM271.0 455.9h.9v.9h-.9zM270.5 456.6h.9v.9h-.9zM274.8 459.1h.9v.9h-.9zM274.1 458.2h.9v.9h-.9zM270.7 454.5h.9v.9h-.9zM272.5 454.6h.9v.9h-.9zM271.4 457.0h.9v.9h-.9zM271.9 456.6h.9v.9h-.9zM271.4 454.5h.9v.9h-.9zM274.3 458.0h.9v.9h-.9zM272.5 457.4h.9v.9h-.9zM270.2 454.5h.9v.9h-.9zM273.7 460.1h.9v.9h-.9zM272.2 454.9h.9v.9h-.9zM270.6 456.3h.9v.9h-.9zM274.2 459.8h.9v.9h-.9zM270.4 455.8h.9v.9h-.9zM275.6 458.3h.9v.9h-.9zM279.3 454.1h.9v.9h-.9zM280.6 453.8h.9v.9h-.9zM279.6 454.3h.9v.9h-.9zM279.5 454.1h.9v.9h-.9zM279.3 452.8h.9v.9h-.9zM279.7 451.6h.9v.9h-.9zM281.8 454.2h.9v.9h-.9zM280.2 453.2h.9v.9h-.9zM279.0 454.0h.9v.9h-.9zM281.3 450.1h.9v.9h-.9zM279.1 448.8h.9v.9h-.9zM281.0 451.3h.9v.9h-.9zM280.2 450.7h.9v.9h-.9zM279.5 449.5h.9v.9h-.9zM281.7 448.6h.9v.9h-.9zM280.8 451.4h.9v.9h-.9zM279.0 450.0h.9v.9h-.9zM279.4 449.2h.9v.9h-.9zM281.4 449.6h.9v.9h-.9zM279.2 450.5h.9v.9h-.9zM280.7 451.3h.9v.9h-.9zM281.3 451.1h.9v.9h-.9zM281.6 450.6h.9v.9h-.9zM279.9 450.2h.9v.9h-.9zM281.8 448.5h.9v.9h-.9zM280.3 448.6h.9v.9h-.9zM279.1 450.3h.9v.9h-.9zM280.6 449.1h.9v.9h-.9zM279.0 450.3h.9v.9h-.9zM279.5 449.9h.9v.9h-.9zM280.3 449.5h.9v.9h-.9zM280.1 450.1h.9v.9h-.9zM281.2 450.4h.9v.9h-.9zM278.0 454.5h.9v.9h-.9zM278.2 455.0h.9v.9h-.9zM278.1 455.7h.9v.9h-.9zM278.3 456.9h.9v.9h-.9zM278.3 455.2h.9v.9h-.9zM278.6 456.2h.9v.9h-.9zM278.3 454.9h.9v.9h-.9zM277.7 456.0h.9v.9h-.9zM277.6 457.4h.9v.9h-.9zM278.8 457.3h.9v.9h-.9zM278.2 456.6h.9v.9h-.9zM276.3 454.6h.9v.9h-.9zM278.5 455.5h.9v.9h-.9zM279.0 456.5h.9v.9h-.9zM276.3 457.4h.9v.9h-.9zM277.8 454.8h.9v.9h-.9zM277.2 457.1h.9v.9h-.9zM278.0 455.8h.9v.9h-.9zM276.6 456.4h.9v.9h-.9zM276.4 457.1h.9v.9h-.9zM274.9 456.2h.9v.9h-.9zM274.4 456.3h.9v.9h-.9zM275.0 457.1h.9v.9h-.9zM274.8 455.9h.9v.9h-.9zM274.9 456.3h.9v.9h-.9zM273.4 457.0h.9v.9h-.9zM273.3 455.4h.9v.9h-.9zM274.4 456.4h.9v.9h-.9zM273.1 456.0h.9v.9h-.9zM275.2 455.9h.9v.9h-.9zM274.4 455.6h.9v.9h-.9zM275.9 456.3h.9v.9h-.9zM274.6 457.5h.9v.9h-.9zM273.7 456.0h.9v.9h-.9zM274.1 455.1h.9v.9h-.9zM273.3 454.6h.9v.9h-.9zM275.8 454.8h.9v.9h-.9zM273.7 457.2h.9v.9h-.9zM276.0 455.2h.9v.9h-.9zM274.8 457.4h.9v.9h-.9zM274.7 454.5h.9v.9h-.9zM275.3 454.9h.9v.9h-.9zM274.5 457.3h.9v.9h-.9zM274.6 455.5h.9v.9h-.9zM274.1 456.2h.9v.9h-.9zM275.0 456.7h.9v.9h-.9zM274.9 456.4h.9v.9h-.9zM274.4 456.2h.9v.9h-.9zM275.9 455.5h.9v.9h-.9zM274.8 457.1h.9v.9h-.9zM276.4 454.1h.9v.9h-.9zM278.2 452.6h.9v.9h-.9zM277.3 453.8h.9v.9h-.9zM276.2 452.1h.9v.9h-.9zM276.9 451.8h.9v.9h-.9zM276.4 454.1h.9v.9h-.9zM276.8 453.3h.9v.9h-.9zM276.7 452.5h.9v.9h-.9zM276.2 454.4h.9v.9h-.9zM277.2 453.8h.9v.9h-.9zM278.5 453.0h.9v.9h-.9zM277.6 452.4h.9v.9h-.9zM276.2 452.6h.9v.9h-.9zM276.6 454.1h.9v.9h-.9zM278.8 451.6h.9v.9h-.9zM278.6 454.4h.9v.9h-.9zM277.9 452.8h.9v.9h-.9zM276.1 451.8h.9v.9h-.9zM277.7 452.2h.9v.9h-.9zM276.5 452.6h.9v.9h-.9zM278.1 453.5h.9v.9h-.9zM276.3 454.3h.9v.9h-.9zM278.8 453.5h.9v.9h-.9zM278.8 452.7h.9v.9h-.9zM278.5 452.2h.9v.9h-.9zM277.7 452.4h.9v.9h-.9zM277.9 451.6h.9v.9h-.9zM278.0 452.3h.9v.9h-.9zM277.0 454.2h.9v.9h-.9zM277.8 453.6h.9v.9h-.9zM276.9 451.8h.9v.9h-.9zM275.0 452.3h.9v.9h-.9zM273.5 452.5h.9v.9h-.9zM274.6 453.5h.9v.9h-.9zM274.5 454.3h.9v.9h-.9zM275.3 453.6h.9v.9h-.9zM275.8 453.1h.9v.9h-.9zM273.5 452.6h.9v.9h-.9zM273.5 452.0h.9v.9h-.9zM273.2 452.7h.9v.9h-.9zM274.5 453.0h.9v.9h-.9zM274.0 452.5h.9v.9h-.9zM274.3 453.7h.9v.9h-.9zM273.3 453.0h.9v.9h-.9zM273.5 453.8h.9v.9h-.9zM276.0 452.5h.9v.9h-.9zM275.5 453.6h.9v.9h-.9zM274.3 452.4h.9v.9h-.9zM273.4 453.4h.9v.9h-.9zM275.4 452.1h.9v.9h-.9z"/></g>
<line x1="210.00" y1="397.00" x2="336.40" y2="397.00" stroke="#8a8a8a" stroke-width="0.9"/>
<line x1="336.40" y1="397.00" x2="336.40" y2="523.60" stroke="#c8c8c8" stroke-width="0.9"/>
<line x1="210.00" y1="396.60" x2="210.00" y2="523.60" stroke="#2b2b2b" stroke-width="1.2"/>
<line x1="210.00" y1="523.60" x2="336.40" y2="523.60" stroke="#2b2b2b" stroke-width="1.2"/>
<line x1="288.40" y1="397.00" x2="288.40" y2="523.60" stroke="#2b2b2b" stroke-width="1.1"/>
<line x1="210.00" y1="438.80" x2="336.40" y2="438.80" stroke="#2b2b2b" stroke-width="1.1"/>
<line x1="206.40" y1="416.60" x2="210.00" y2="416.60" stroke="#2b2b2b" stroke-width="1.1"/>
<text x="200.6" y="419.40" font-size="7.8" text-anchor="end" fill="#222">10</text>
<text x="200.8" y="416.10" font-size="5.4" fill="#222">4</text>
<line x1="206.40" y1="438.40" x2="210.00" y2="438.40" stroke="#2b2b2b" stroke-width="1.1"/>
<text x="200.6" y="441.20" font-size="7.8" text-anchor="end" fill="#222">10</text>
<text x="200.8" y="437.90" font-size="5.4" fill="#222">3</text>
<line x1="206.40" y1="459.40" x2="210.00" y2="459.40" stroke="#2b2b2b" stroke-width="1.1"/>
<text x="200.6" y="462.20" font-size="7.8" text-anchor="end" fill="#222">10</text>
<text x="200.8" y="458.90" font-size="5.4" fill="#222">2</text>
<line x1="206.40" y1="480.90" x2="210.00" y2="480.90" stroke="#2b2b2b" stroke-width="1.1"/>
<text x="200.6" y="483.70" font-size="7.8" text-anchor="end" fill="#222">10</text>
<text x="200.8" y="480.40" font-size="5.4" fill="#222">1</text>
<line x1="206.40" y1="502.20" x2="210.00" y2="502.20" stroke="#2b2b2b" stroke-width="1.1"/>
<text x="200.6" y="505.00" font-size="7.8" text-anchor="end" fill="#222">10</text>
<text x="200.8" y="501.70" font-size="5.4" fill="#222">0</text>
<line x1="206.40" y1="523.00" x2="210.00" y2="523.00" stroke="#2b2b2b" stroke-width="1.1"/>
<text x="199.4" y="524.60" font-size="7.8" text-anchor="end" fill="#222">10</text>
<text x="199.6" y="521.30" font-size="5.0" fill="#222">−1</text>
<line x1="211.00" y1="523.60" x2="211.00" y2="527.20" stroke="#2b2b2b" stroke-width="1.1"/>
<text x="216.60" y="535.60" font-size="7.8" text-anchor="end" fill="#222">10</text>
<text x="216.90" y="532.20" font-size="5.0" fill="#222">−1</text>
<line x1="236.50" y1="523.60" x2="236.50" y2="527.20" stroke="#2b2b2b" stroke-width="1.1"/>
<text x="241.10" y="535.60" font-size="7.8" text-anchor="end" fill="#222">10</text>
<text x="241.40" y="532.20" font-size="5.4" fill="#222">0</text>
<line x1="262.00" y1="523.60" x2="262.00" y2="527.20" stroke="#2b2b2b" stroke-width="1.1"/>
<text x="266.60" y="535.60" font-size="7.8" text-anchor="end" fill="#222">10</text>
<text x="266.90" y="532.20" font-size="5.4" fill="#222">1</text>
<line x1="287.50" y1="523.60" x2="287.50" y2="527.20" stroke="#2b2b2b" stroke-width="1.1"/>
<text x="292.10" y="535.60" font-size="7.8" text-anchor="end" fill="#222">10</text>
<text x="292.40" y="532.20" font-size="5.4" fill="#222">2</text>
<line x1="313.00" y1="523.60" x2="313.00" y2="527.20" stroke="#2b2b2b" stroke-width="1.1"/>
<text x="317.60" y="535.60" font-size="7.8" text-anchor="end" fill="#222">10</text>
<text x="317.90" y="532.20" font-size="5.4" fill="#222">3</text>
<rect x="212.20" y="401.40" width="12.40" height="12.20" fill="#f6b81c" stroke="#3a3a3a" stroke-width="0.8"/>
<rect x="314.20" y="401.60" width="12.40" height="12.00" fill="#3aa83a" stroke="#3a3a3a" stroke-width="0.8"/>
<rect x="212.40" y="505.60" width="12.20" height="12.00" fill="#c9c9c9" stroke="#3a3a3a" stroke-width="0.8"/>
<rect x="314.20" y="505.60" width="12.80" height="12.40" fill="#0f4d8e" stroke="#3a3a3a" stroke-width="0.8"/>
<text x="213.00" y="422.60" font-size="7.0" fill="#2b2b2b">CD62P<tspan font-size="4.2" dy="-2.8">−</tspan><tspan dy="2.8">/</tspan></text>
<text x="213.00" y="431.60" font-size="7.0" fill="#2b2b2b">PAC-1<tspan font-size="4.2" dy="-2.8">+</tspan></text>
<text x="301.40" y="423.40" font-size="7.0" fill="#2b2b2b">CD62P<tspan font-size="4.2" dy="-2.8">+</tspan><tspan dy="2.8">/</tspan></text>
<text x="301.40" y="432.40" font-size="7.0" fill="#2b2b2b">PAC-1<tspan font-size="4.2" dy="-2.8">+</tspan></text>
<text x="213.00" y="492.40" font-size="7.0" fill="#2b2b2b">CD62P<tspan font-size="4.2" dy="-2.8">−</tspan><tspan dy="2.8">/</tspan></text>
<text x="213.00" y="501.40" font-size="7.0" fill="#2b2b2b">PAC-1<tspan font-size="4.2" dy="-2.8">−</tspan></text>
<text x="301.20" y="491.40" font-size="7.0" fill="#2b2b2b">CD62P<tspan font-size="4.2" dy="-2.8">+</tspan><tspan dy="2.8">/</tspan></text>
<text x="301.20" y="500.40" font-size="7.0" fill="#2b2b2b">PAC-1<tspan font-size="4.2" dy="-2.8">−</tspan></text>
<text x="180.00" y="458.60" font-size="8.4" text-anchor="middle" textLength="36" lengthAdjust="spacingAndGlyphs" transform="rotate(-90 180.0 458.6)" fill="#222" dominant-baseline="central" style="stroke-width:0.3px">PAC-1-FITC</text>
<text x="278.00" y="548.60" font-size="8.4" text-anchor="middle" textLength="36.6" lengthAdjust="spacingAndGlyphs" fill="#222" dominant-baseline="central" style="stroke-width:0.3px">CD62P-APC</text>
<text x="355.20" y="374.10" font-size="10.6" font-weight="bold" fill="#0a0a0a">I</text>
<rect x="405.70" y="431.60" width="11.20" height="8.00" fill="#f5b81c" stroke="none" stroke-width="0.8"/>
<rect x="405.70" y="439.60" width="11.20" height="6.40" fill="#0e4a8c" stroke="none" stroke-width="0.8"/>
<rect x="405.70" y="446.00" width="11.20" height="2.00" fill="#3aa845" stroke="none" stroke-width="0.8"/>
<rect x="405.70" y="448.00" width="11.20" height="42.00" fill="#c9c9cb" stroke="none" stroke-width="0.8"/>
<rect x="405.70" y="500.00" width="11.20" height="22.00" fill="#c9c9cb" stroke="none" stroke-width="0.8"/>
<rect x="422.60" y="431.60" width="11.20" height="19.10" fill="#f5b81c" stroke="none" stroke-width="0.8"/>
<rect x="422.60" y="450.70" width="11.20" height="9.70" fill="#0e4a8c" stroke="none" stroke-width="0.8"/>
<rect x="422.60" y="460.40" width="11.20" height="5.80" fill="#3aa845" stroke="none" stroke-width="0.8"/>
<rect x="422.60" y="466.20" width="11.20" height="23.80" fill="#c9c9cb" stroke="none" stroke-width="0.8"/>
<rect x="422.60" y="500.00" width="11.20" height="22.00" fill="#c9c9cb" stroke="none" stroke-width="0.8"/>
<rect x="439.50" y="431.60" width="11.20" height="6.40" fill="#f5b81c" stroke="none" stroke-width="0.8"/>
<rect x="439.50" y="438.00" width="11.20" height="10.90" fill="#0e4a8c" stroke="none" stroke-width="0.8"/>
<rect x="439.50" y="448.90" width="11.20" height="3.90" fill="#3aa845" stroke="none" stroke-width="0.8"/>
<rect x="439.50" y="452.80" width="11.20" height="37.20" fill="#c9c9cb" stroke="none" stroke-width="0.8"/>
<rect x="439.50" y="500.00" width="11.20" height="22.00" fill="#c9c9cb" stroke="none" stroke-width="0.8"/>
<rect x="456.40" y="431.60" width="11.20" height="7.20" fill="#f5b81c" stroke="none" stroke-width="0.8"/>
<rect x="456.40" y="438.80" width="11.20" height="11.50" fill="#0e4a8c" stroke="none" stroke-width="0.8"/>
<rect x="456.40" y="450.30" width="11.20" height="2.50" fill="#3aa845" stroke="none" stroke-width="0.8"/>
<rect x="456.40" y="452.80" width="11.20" height="37.20" fill="#c9c9cb" stroke="none" stroke-width="0.8"/>
<rect x="456.40" y="500.00" width="11.20" height="22.00" fill="#c9c9cb" stroke="none" stroke-width="0.8"/>
<rect x="473.30" y="431.60" width="11.20" height="5.40" fill="#f5b81c" stroke="none" stroke-width="0.8"/>
<rect x="473.30" y="437.00" width="11.20" height="22.00" fill="#0e4a8c" stroke="none" stroke-width="0.8"/>
<rect x="473.30" y="459.00" width="11.20" height="3.00" fill="#3aa845" stroke="none" stroke-width="0.8"/>
<rect x="473.30" y="462.00" width="11.20" height="28.00" fill="#c9c9cb" stroke="none" stroke-width="0.8"/>
<rect x="473.30" y="500.00" width="11.20" height="22.00" fill="#c9c9cb" stroke="none" stroke-width="0.8"/>
<rect x="490.20" y="431.60" width="11.20" height="5.40" fill="#f5b81c" stroke="none" stroke-width="0.8"/>
<rect x="490.20" y="437.00" width="11.20" height="20.00" fill="#0e4a8c" stroke="none" stroke-width="0.8"/>
<rect x="490.20" y="457.00" width="11.20" height="3.00" fill="#3aa845" stroke="none" stroke-width="0.8"/>
<rect x="490.20" y="460.00" width="11.20" height="30.00" fill="#c9c9cb" stroke="none" stroke-width="0.8"/>
<rect x="490.20" y="500.00" width="11.20" height="22.00" fill="#c9c9cb" stroke="none" stroke-width="0.8"/>
<line x1="411.30" y1="428.60" x2="411.30" y2="450.00" stroke="#2b2b2b" stroke-width="1.1"/>
<line x1="408.10" y1="428.60" x2="414.50" y2="428.60" stroke="#2b2b2b" stroke-width="1.2"/>
<line x1="408.10" y1="436.00" x2="414.50" y2="436.00" stroke="#2b2b2b" stroke-width="1.2"/>
<line x1="408.10" y1="441.00" x2="414.50" y2="441.00" stroke="#2b2b2b" stroke-width="1.2"/>
<line x1="408.10" y1="447.00" x2="414.50" y2="447.00" stroke="#2b2b2b" stroke-width="1.2"/>
<line x1="408.10" y1="450.00" x2="414.50" y2="450.00" stroke="#2b2b2b" stroke-width="1.2"/>
<line x1="428.20" y1="420.00" x2="428.20" y2="482.00" stroke="#2b2b2b" stroke-width="1.1"/>
<line x1="425.00" y1="420.00" x2="431.40" y2="420.00" stroke="#2b2b2b" stroke-width="1.2"/>
<line x1="425.00" y1="442.00" x2="431.40" y2="442.00" stroke="#2b2b2b" stroke-width="1.2"/>
<line x1="425.00" y1="450.00" x2="431.40" y2="450.00" stroke="#2b2b2b" stroke-width="1.2"/>
<line x1="425.00" y1="458.00" x2="431.40" y2="458.00" stroke="#2b2b2b" stroke-width="1.2"/>
<line x1="425.00" y1="466.00" x2="431.40" y2="466.00" stroke="#2b2b2b" stroke-width="1.2"/>
<line x1="425.00" y1="482.00" x2="431.40" y2="482.00" stroke="#2b2b2b" stroke-width="1.2"/>
<line x1="445.10" y1="429.60" x2="445.10" y2="457.40" stroke="#2b2b2b" stroke-width="1.1"/>
<line x1="441.90" y1="429.60" x2="448.30" y2="429.60" stroke="#2b2b2b" stroke-width="1.2"/>
<line x1="441.90" y1="433.50" x2="448.30" y2="433.50" stroke="#2b2b2b" stroke-width="1.2"/>
<line x1="441.90" y1="442.00" x2="448.30" y2="442.00" stroke="#2b2b2b" stroke-width="1.2"/>
<line x1="441.90" y1="451.00" x2="448.30" y2="451.00" stroke="#2b2b2b" stroke-width="1.2"/>
<line x1="441.90" y1="457.40" x2="448.30" y2="457.40" stroke="#2b2b2b" stroke-width="1.2"/>
<line x1="462.00" y1="428.60" x2="462.00" y2="458.40" stroke="#2b2b2b" stroke-width="1.1"/>
<line x1="458.80" y1="428.60" x2="465.20" y2="428.60" stroke="#2b2b2b" stroke-width="1.2"/>
<line x1="458.80" y1="434.00" x2="465.20" y2="434.00" stroke="#2b2b2b" stroke-width="1.2"/>
<line x1="458.80" y1="442.00" x2="465.20" y2="442.00" stroke="#2b2b2b" stroke-width="1.2"/>
<line x1="458.80" y1="451.00" x2="465.20" y2="451.00" stroke="#2b2b2b" stroke-width="1.2"/>
<line x1="458.80" y1="458.40" x2="465.20" y2="458.40" stroke="#2b2b2b" stroke-width="1.2"/>
<line x1="478.90" y1="428.60" x2="478.90" y2="470.00" stroke="#2b2b2b" stroke-width="1.1"/>
<line x1="475.70" y1="428.60" x2="482.10" y2="428.60" stroke="#2b2b2b" stroke-width="1.2"/>
<line x1="475.70" y1="432.00" x2="482.10" y2="432.00" stroke="#2b2b2b" stroke-width="1.2"/>
<line x1="475.70" y1="447.00" x2="482.10" y2="447.00" stroke="#2b2b2b" stroke-width="1.2"/>
<line x1="475.70" y1="458.00" x2="482.10" y2="458.00" stroke="#2b2b2b" stroke-width="1.2"/>
<line x1="475.70" y1="470.00" x2="482.10" y2="470.00" stroke="#2b2b2b" stroke-width="1.2"/>
<line x1="495.80" y1="428.60" x2="495.80" y2="468.00" stroke="#2b2b2b" stroke-width="1.1"/>
<line x1="492.60" y1="428.60" x2="499.00" y2="428.60" stroke="#2b2b2b" stroke-width="1.2"/>
<line x1="492.60" y1="432.00" x2="499.00" y2="432.00" stroke="#2b2b2b" stroke-width="1.2"/>
<line x1="492.60" y1="446.00" x2="499.00" y2="446.00" stroke="#2b2b2b" stroke-width="1.2"/>
<line x1="492.60" y1="456.00" x2="499.00" y2="456.00" stroke="#2b2b2b" stroke-width="1.2"/>
<line x1="492.60" y1="468.00" x2="499.00" y2="468.00" stroke="#2b2b2b" stroke-width="1.2"/>
<line x1="399.40" y1="417.60" x2="399.40" y2="490.50" stroke="#2b2b2b" stroke-width="1.45"/>
<line x1="396.00" y1="490.50" x2="402.30" y2="490.50" stroke="#2b2b2b" stroke-width="1.2"/>
<line x1="399.40" y1="499.20" x2="399.40" y2="523.80" stroke="#2b2b2b" stroke-width="1.45"/>
<line x1="396.00" y1="499.20" x2="402.30" y2="499.20" stroke="#2b2b2b" stroke-width="1.2"/>
<line x1="395.60" y1="461.25" x2="399.40" y2="461.25" stroke="#2b2b2b" stroke-width="1.2"/>
<text x="393.60" y="464.35" font-size="8.8" text-anchor="end" fill="#222">90</text>
<line x1="395.60" y1="431.60" x2="399.40" y2="431.60" stroke="#2b2b2b" stroke-width="1.2"/>
<text x="393.60" y="434.70" font-size="8.8" text-anchor="end" fill="#222">100</text>
<text x="393.60" y="493.60" font-size="8.8" text-anchor="end" fill="#222">80</text>
<line x1="395.60" y1="523.80" x2="399.40" y2="523.80" stroke="#2b2b2b" stroke-width="1.2"/>
<text x="393.60" y="526.90" font-size="8.8" text-anchor="end" fill="#222">0</text>
<line x1="398.70" y1="523.80" x2="506.70" y2="523.80" stroke="#2b2b2b" stroke-width="1.45"/>
<line x1="411.30" y1="523.80" x2="411.30" y2="526.60" stroke="#2b2b2b" stroke-width="1.1"/>
<line x1="428.20" y1="523.80" x2="428.20" y2="526.60" stroke="#2b2b2b" stroke-width="1.1"/>
<line x1="445.10" y1="523.80" x2="445.10" y2="526.60" stroke="#2b2b2b" stroke-width="1.1"/>
<line x1="462.00" y1="523.80" x2="462.00" y2="526.60" stroke="#2b2b2b" stroke-width="1.1"/>
<line x1="478.90" y1="523.80" x2="478.90" y2="526.60" stroke="#2b2b2b" stroke-width="1.1"/>
<line x1="495.80" y1="523.80" x2="495.80" y2="526.60" stroke="#2b2b2b" stroke-width="1.1"/>
<text x="367.00" y="477.60" font-size="8.4" text-anchor="middle" textLength="98.5" lengthAdjust="spacingAndGlyphs" transform="rotate(-90 367.0 477.6)" fill="#222" dominant-baseline="central" style="stroke-width:0.3px">PLTs in respective quadrant [%]</text>
<text x="411.30" y="537.60" font-size="8.0" text-anchor="middle" fill="#222">ctrl</text>
<text x="428.20" y="537.60" font-size="8.0" text-anchor="middle" fill="#222">inf</text>
<text x="445.50" y="537.60" font-size="8.0" text-anchor="middle" fill="#2b2b2b">t<tspan font-size="5.76" dy="1.3">1</tspan></text>
<text x="462.40" y="537.60" font-size="8.0" text-anchor="middle" fill="#2b2b2b">t<tspan font-size="5.76" dy="1.3">2</tspan></text>
<line x1="445.60" y1="541.20" x2="461.20" y2="541.20" stroke="#2b2b2b" stroke-width="1.0"/>
<text x="479.30" y="537.60" font-size="8.0" text-anchor="middle" fill="#2b2b2b">t<tspan font-size="5.76" dy="1.3">1</tspan></text>
<text x="496.20" y="537.60" font-size="8.0" text-anchor="middle" fill="#2b2b2b">t<tspan font-size="5.76" dy="1.3">2</tspan></text>
<line x1="479.40" y1="541.20" x2="495.00" y2="541.20" stroke="#2b2b2b" stroke-width="1.0"/>
<text x="453.55" y="552.30" font-size="8.0" text-anchor="middle" fill="#222">sepsis</text>
<text x="487.35" y="552.30" font-size="8.0" text-anchor="middle" fill="#222">COVID-19</text>
<rect x="435.00" y="382.40" width="6.20" height="5.80" fill="#f5b81c" stroke="none" stroke-width="0.8"/>
<text x="444.0" y="388.00" font-size="8.1" fill="#222" textLength="57.5" lengthAdjust="spacingAndGlyphs">CD62P<tspan font-size="5.0" dy="-3.2">−</tspan><tspan dy="3.2">/PAC-1</tspan><tspan font-size="5.0" dy="-3.2">+</tspan></text>
<rect x="435.00" y="391.40" width="6.20" height="5.80" fill="#0e4a8c" stroke="none" stroke-width="0.8"/>
<text x="444.0" y="397.00" font-size="8.1" fill="#222" textLength="57.5" lengthAdjust="spacingAndGlyphs">CD62P<tspan font-size="5.0" dy="-3.2">+</tspan><tspan dy="3.2">/PAC-1</tspan><tspan font-size="5.0" dy="-3.2">−</tspan></text>
<rect x="435.00" y="400.60" width="6.20" height="5.80" fill="#3aa845" stroke="none" stroke-width="0.8"/>
<text x="444.0" y="406.20" font-size="8.1" fill="#222" textLength="57.5" lengthAdjust="spacingAndGlyphs">CD62P<tspan font-size="5.0" dy="-3.2">+</tspan><tspan dy="3.2">/PAC-1</tspan><tspan font-size="5.0" dy="-3.2">+</tspan></text>
<rect x="435.00" y="410.00" width="6.20" height="5.80" fill="#c9c9cb" stroke="none" stroke-width="0.8"/>
<text x="444.0" y="415.60" font-size="8.1" fill="#222" textLength="57.5" lengthAdjust="spacingAndGlyphs">CD62P<tspan font-size="5.0" dy="-3.2">−</tspan><tspan dy="3.2">/PAC-1</tspan><tspan font-size="5.0" dy="-3.2">−</tspan></text>
</svg></body></html>
